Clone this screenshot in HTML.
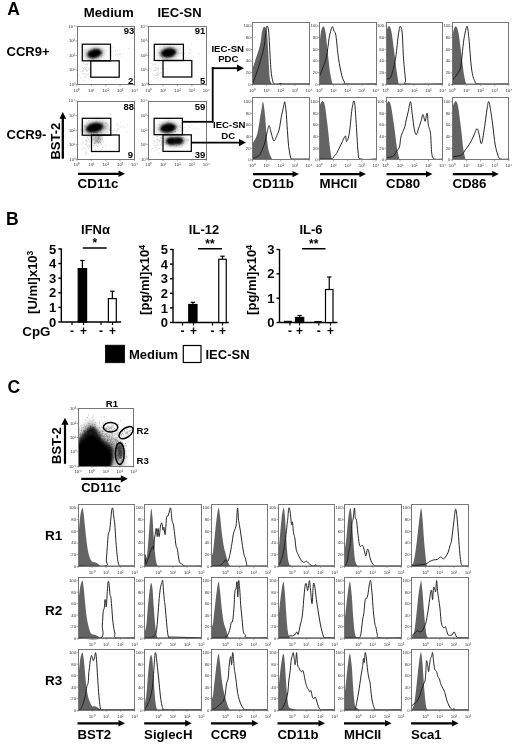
<!DOCTYPE html>
<html><head><meta charset="utf-8"><title>Figure</title>
<style>html,body{margin:0;padding:0;background:#fff;width:520px;height:746px;overflow:hidden}svg{display:block;filter:blur(0.35px)}text{font-family:"Liberation Sans",sans-serif}</style>
</head><body>
<svg width="520" height="746" viewBox="0 0 520 746" font-family="Liberation Sans, sans-serif"><defs><filter id="b5" x="-50%" y="-50%" width="200%" height="200%"><feGaussianBlur stdDeviation="0.5"/></filter><filter id="b10" x="-50%" y="-50%" width="200%" height="200%"><feGaussianBlur stdDeviation="1.0"/></filter><filter id="b12" x="-50%" y="-50%" width="200%" height="200%"><feGaussianBlur stdDeviation="1.2"/></filter><filter id="b13" x="-50%" y="-50%" width="200%" height="200%"><feGaussianBlur stdDeviation="1.3"/></filter><filter id="b14" x="-50%" y="-50%" width="200%" height="200%"><feGaussianBlur stdDeviation="1.4"/></filter><filter id="b15" x="-50%" y="-50%" width="200%" height="200%"><feGaussianBlur stdDeviation="1.5"/></filter><filter id="b18" x="-50%" y="-50%" width="200%" height="200%"><feGaussianBlur stdDeviation="1.8"/></filter><filter id="b20" x="-50%" y="-50%" width="200%" height="200%"><feGaussianBlur stdDeviation="2.0"/></filter><filter id="b22" x="-50%" y="-50%" width="200%" height="200%"><feGaussianBlur stdDeviation="2.2"/></filter><filter id="b24" x="-50%" y="-50%" width="200%" height="200%"><feGaussianBlur stdDeviation="2.4"/></filter><filter id="b25" x="-50%" y="-50%" width="200%" height="200%"><feGaussianBlur stdDeviation="2.5"/></filter><clipPath id="cclip"><rect x="78.1" y="408.9" width="55.6" height="57.3"/></clipPath></defs><rect width="520" height="746" fill="#fff"/><text x="7.20" y="14.80" font-size="17.5" font-weight="bold" text-anchor="start" fill="#000">A</text>
<text x="83.80" y="16.90" font-size="13.2" font-weight="bold" text-anchor="start" fill="#000">Medium</text>
<text x="157.50" y="17.10" font-size="13" font-weight="bold" text-anchor="start" fill="#000">IEC-SN</text>
<text x="6.50" y="56.40" font-size="13" font-weight="bold" text-anchor="start" fill="#000">CCR9+</text>
<text x="6.50" y="138.50" font-size="13" font-weight="bold" text-anchor="start" fill="#000">CCR9-</text>
<path d="M86.0 70.9h0.9v0.9h-0.9zM86.9 70.6h0.9v0.9h-0.9zM85.2 64.2h0.9v0.9h-0.9zM83.3 70.7h0.9v0.9h-0.9zM84.6 77.1h0.9v0.9h-0.9zM83.0 62.6h0.9v0.9h-0.9zM86.2 74.6h0.9v0.9h-0.9zM90.0 70.9h0.9v0.9h-0.9zM84.5 67.1h0.9v0.9h-0.9zM84.1 80.3h0.9v0.9h-0.9zM87.5 74.1h0.9v0.9h-0.9zM87.1 64.3h0.9v0.9h-0.9zM86.3 70.7h0.9v0.9h-0.9zM83.2 73.2h0.9v0.9h-0.9zM85.9 69.4h0.9v0.9h-0.9zM88.1 73.7h0.9v0.9h-0.9zM82.0 70.0h0.9v0.9h-0.9zM84.6 73.6h0.9v0.9h-0.9zM80.3 77.5h0.9v0.9h-0.9zM82.1 66.9h0.9v0.9h-0.9zM80.5 71.3h0.9v0.9h-0.9zM85.3 68.0h0.9v0.9h-0.9zM82.2 70.9h0.9v0.9h-0.9zM86.8 64.4h0.9v0.9h-0.9zM86.5 67.4h0.9v0.9h-0.9zM85.4 69.3h0.9v0.9h-0.9zM78.4 74.8h0.9v0.9h-0.9zM84.4 76.0h0.9v0.9h-0.9zM85.9 63.7h0.9v0.9h-0.9zM86.3 66.3h0.9v0.9h-0.9zM81.4 73.5h0.9v0.9h-0.9zM84.6 60.3h0.9v0.9h-0.9zM83.1 68.0h0.9v0.9h-0.9zM83.6 69.8h0.9v0.9h-0.9zM89.2 76.6h0.9v0.9h-0.9zM83.6 73.7h0.9v0.9h-0.9zM85.9 68.7h0.9v0.9h-0.9zM88.7 68.5h0.9v0.9h-0.9zM84.2 69.0h0.9v0.9h-0.9zM85.7 77.9h0.9v0.9h-0.9z" fill="#999" fill-opacity="0.45"/>
<path d="M114.9 51.4h0.9v0.9h-0.9zM115.5 53.9h0.9v0.9h-0.9zM118.8 54.8h0.9v0.9h-0.9zM116.4 52.8h0.9v0.9h-0.9zM116.0 52.7h0.9v0.9h-0.9zM111.4 55.4h0.9v0.9h-0.9zM116.9 54.9h0.9v0.9h-0.9zM114.8 50.2h0.9v0.9h-0.9zM122.8 53.1h0.9v0.9h-0.9zM120.3 53.4h0.9v0.9h-0.9zM116.9 50.1h0.9v0.9h-0.9zM120.3 54.1h0.9v0.9h-0.9zM115.3 50.7h0.9v0.9h-0.9zM122.3 56.2h0.9v0.9h-0.9zM117.0 53.9h0.9v0.9h-0.9zM119.9 53.6h0.9v0.9h-0.9zM110.5 51.5h0.9v0.9h-0.9zM118.7 52.9h0.9v0.9h-0.9zM108.6 47.3h0.9v0.9h-0.9zM106.8 49.9h0.9v0.9h-0.9zM115.5 54.4h0.9v0.9h-0.9zM112.5 46.9h0.9v0.9h-0.9zM117.8 55.8h0.9v0.9h-0.9zM128.2 48.1h0.9v0.9h-0.9zM112.8 55.6h0.9v0.9h-0.9z" fill="#aaa" fill-opacity="0.4"/>
<path d="M155.2 66.5h0.9v0.9h-0.9zM160.0 72.6h0.9v0.9h-0.9zM158.1 67.6h0.9v0.9h-0.9zM153.1 69.6h0.9v0.9h-0.9zM161.4 64.8h0.9v0.9h-0.9zM162.0 64.2h0.9v0.9h-0.9zM157.5 77.0h0.9v0.9h-0.9zM156.9 67.8h0.9v0.9h-0.9zM157.2 71.8h0.9v0.9h-0.9zM154.8 70.1h0.9v0.9h-0.9zM161.0 68.1h0.9v0.9h-0.9zM156.1 67.8h0.9v0.9h-0.9zM157.5 73.5h0.9v0.9h-0.9zM155.3 68.8h0.9v0.9h-0.9zM155.8 69.5h0.9v0.9h-0.9zM153.9 70.4h0.9v0.9h-0.9zM161.5 76.2h0.9v0.9h-0.9zM157.2 73.7h0.9v0.9h-0.9zM160.6 72.2h0.9v0.9h-0.9zM157.7 67.5h0.9v0.9h-0.9zM155.6 63.4h0.9v0.9h-0.9zM156.7 75.0h0.9v0.9h-0.9zM156.0 75.1h0.9v0.9h-0.9zM157.7 69.6h0.9v0.9h-0.9zM156.6 73.0h0.9v0.9h-0.9zM156.8 74.2h0.9v0.9h-0.9zM153.6 74.5h0.9v0.9h-0.9zM155.3 74.9h0.9v0.9h-0.9zM162.7 68.0h0.9v0.9h-0.9zM155.7 77.9h0.9v0.9h-0.9zM154.5 64.1h0.9v0.9h-0.9zM158.7 74.6h0.9v0.9h-0.9zM161.9 72.8h0.9v0.9h-0.9zM153.3 74.7h0.9v0.9h-0.9zM157.1 79.7h0.9v0.9h-0.9zM155.8 77.7h0.9v0.9h-0.9zM152.4 64.6h0.9v0.9h-0.9zM159.9 61.9h0.9v0.9h-0.9zM157.6 74.4h0.9v0.9h-0.9zM157.9 65.2h0.9v0.9h-0.9z" fill="#999" fill-opacity="0.45"/>
<path d="M188.6 49.1h0.9v0.9h-0.9zM192.9 56.0h0.9v0.9h-0.9zM180.5 53.0h0.9v0.9h-0.9zM178.2 53.3h0.9v0.9h-0.9zM190.0 49.0h0.9v0.9h-0.9zM188.9 51.9h0.9v0.9h-0.9zM187.5 55.5h0.9v0.9h-0.9zM188.9 53.1h0.9v0.9h-0.9zM184.4 53.5h0.9v0.9h-0.9zM181.1 52.4h0.9v0.9h-0.9zM187.9 56.8h0.9v0.9h-0.9zM183.8 53.2h0.9v0.9h-0.9zM180.5 46.7h0.9v0.9h-0.9zM191.2 51.2h0.9v0.9h-0.9zM188.4 47.4h0.9v0.9h-0.9zM190.7 43.5h0.9v0.9h-0.9zM183.8 51.7h0.9v0.9h-0.9zM185.4 57.3h0.9v0.9h-0.9zM183.7 53.4h0.9v0.9h-0.9zM184.3 49.8h0.9v0.9h-0.9zM189.7 50.5h0.9v0.9h-0.9zM184.8 56.7h0.9v0.9h-0.9zM190.5 53.8h0.9v0.9h-0.9zM190.4 53.4h0.9v0.9h-0.9zM198.8 53.1h0.9v0.9h-0.9z" fill="#aaa" fill-opacity="0.4"/>
<path d="M86.1 152.6h0.9v0.9h-0.9zM88.4 147.8h0.9v0.9h-0.9zM87.7 144.7h0.9v0.9h-0.9zM86.6 142.1h0.9v0.9h-0.9zM82.9 141.8h0.9v0.9h-0.9zM87.5 153.0h0.9v0.9h-0.9zM83.9 147.5h0.9v0.9h-0.9zM89.3 145.3h0.9v0.9h-0.9zM82.2 143.3h0.9v0.9h-0.9zM85.6 139.5h0.9v0.9h-0.9zM86.0 144.7h0.9v0.9h-0.9zM82.0 149.4h0.9v0.9h-0.9zM91.2 143.0h0.9v0.9h-0.9zM90.4 143.9h0.9v0.9h-0.9zM84.6 143.9h0.9v0.9h-0.9zM88.3 145.5h0.9v0.9h-0.9zM87.1 137.0h0.9v0.9h-0.9zM78.2 143.8h0.9v0.9h-0.9zM86.8 140.7h0.9v0.9h-0.9zM85.8 149.4h0.9v0.9h-0.9zM86.2 141.1h0.9v0.9h-0.9zM82.8 147.9h0.9v0.9h-0.9zM85.2 152.6h0.9v0.9h-0.9zM85.5 143.4h0.9v0.9h-0.9zM89.6 142.0h0.9v0.9h-0.9zM87.0 146.0h0.9v0.9h-0.9zM86.0 145.0h0.9v0.9h-0.9zM90.6 140.0h0.9v0.9h-0.9zM84.3 147.3h0.9v0.9h-0.9zM84.8 155.1h0.9v0.9h-0.9zM80.5 143.7h0.9v0.9h-0.9zM90.7 144.0h0.9v0.9h-0.9zM88.9 139.8h0.9v0.9h-0.9zM88.8 146.6h0.9v0.9h-0.9zM88.0 138.8h0.9v0.9h-0.9zM86.3 139.5h0.9v0.9h-0.9zM86.6 151.4h0.9v0.9h-0.9zM85.2 140.5h0.9v0.9h-0.9zM85.4 150.4h0.9v0.9h-0.9zM86.2 152.6h0.9v0.9h-0.9z" fill="#999" fill-opacity="0.45"/>
<path d="M118.3 129.2h0.9v0.9h-0.9zM119.8 122.2h0.9v0.9h-0.9zM126.8 123.8h0.9v0.9h-0.9zM116.0 130.6h0.9v0.9h-0.9zM114.0 130.1h0.9v0.9h-0.9zM110.2 127.6h0.9v0.9h-0.9zM117.2 122.9h0.9v0.9h-0.9zM124.4 126.9h0.9v0.9h-0.9zM121.8 126.0h0.9v0.9h-0.9zM112.3 129.9h0.9v0.9h-0.9zM112.7 134.8h0.9v0.9h-0.9zM114.5 128.7h0.9v0.9h-0.9zM118.5 125.7h0.9v0.9h-0.9zM116.0 124.5h0.9v0.9h-0.9zM118.1 127.8h0.9v0.9h-0.9zM118.5 127.5h0.9v0.9h-0.9zM115.5 124.5h0.9v0.9h-0.9zM116.8 128.3h0.9v0.9h-0.9zM118.0 124.5h0.9v0.9h-0.9zM116.6 131.3h0.9v0.9h-0.9zM119.5 131.2h0.9v0.9h-0.9zM126.4 131.3h0.9v0.9h-0.9zM120.0 126.6h0.9v0.9h-0.9zM117.3 129.5h0.9v0.9h-0.9zM108.6 127.6h0.9v0.9h-0.9z" fill="#aaa" fill-opacity="0.4"/>
<path d="M156.5 144.8h0.9v0.9h-0.9zM156.7 142.3h0.9v0.9h-0.9zM153.8 140.9h0.9v0.9h-0.9zM153.4 143.5h0.9v0.9h-0.9zM160.1 139.9h0.9v0.9h-0.9zM157.1 138.6h0.9v0.9h-0.9zM158.3 144.8h0.9v0.9h-0.9zM160.7 149.4h0.9v0.9h-0.9zM152.5 137.4h0.9v0.9h-0.9zM155.3 145.0h0.9v0.9h-0.9zM158.2 141.8h0.9v0.9h-0.9zM158.9 140.1h0.9v0.9h-0.9zM156.6 149.3h0.9v0.9h-0.9zM160.8 142.4h0.9v0.9h-0.9zM158.3 152.5h0.9v0.9h-0.9zM154.1 141.1h0.9v0.9h-0.9zM154.9 146.9h0.9v0.9h-0.9zM160.1 143.9h0.9v0.9h-0.9zM159.1 141.2h0.9v0.9h-0.9zM152.0 147.9h0.9v0.9h-0.9zM161.7 144.2h0.9v0.9h-0.9zM159.5 148.0h0.9v0.9h-0.9zM161.7 144.8h0.9v0.9h-0.9zM156.5 139.6h0.9v0.9h-0.9zM156.8 144.5h0.9v0.9h-0.9zM154.3 145.3h0.9v0.9h-0.9zM165.3 149.8h0.9v0.9h-0.9zM157.2 140.5h0.9v0.9h-0.9zM162.5 144.8h0.9v0.9h-0.9zM155.8 136.4h0.9v0.9h-0.9zM158.2 148.3h0.9v0.9h-0.9zM152.7 139.6h0.9v0.9h-0.9zM156.6 136.0h0.9v0.9h-0.9zM160.7 144.7h0.9v0.9h-0.9zM153.9 150.5h0.9v0.9h-0.9zM160.9 137.4h0.9v0.9h-0.9zM158.7 139.6h0.9v0.9h-0.9zM154.6 141.3h0.9v0.9h-0.9zM156.2 139.4h0.9v0.9h-0.9zM156.3 146.9h0.9v0.9h-0.9z" fill="#999" fill-opacity="0.45"/>
<path d="M184.7 119.5h0.9v0.9h-0.9zM185.1 129.6h0.9v0.9h-0.9zM191.6 124.8h0.9v0.9h-0.9zM184.9 131.1h0.9v0.9h-0.9zM190.9 124.8h0.9v0.9h-0.9zM183.8 127.1h0.9v0.9h-0.9zM182.6 123.5h0.9v0.9h-0.9zM179.5 125.1h0.9v0.9h-0.9zM198.0 132.2h0.9v0.9h-0.9zM187.1 130.5h0.9v0.9h-0.9zM189.9 126.8h0.9v0.9h-0.9zM188.5 125.4h0.9v0.9h-0.9zM189.5 122.3h0.9v0.9h-0.9zM188.9 126.8h0.9v0.9h-0.9zM198.2 127.9h0.9v0.9h-0.9zM183.5 127.7h0.9v0.9h-0.9zM180.9 127.7h0.9v0.9h-0.9zM183.6 124.6h0.9v0.9h-0.9zM182.0 127.8h0.9v0.9h-0.9zM192.4 127.9h0.9v0.9h-0.9zM192.8 131.9h0.9v0.9h-0.9zM183.9 133.6h0.9v0.9h-0.9zM181.7 127.6h0.9v0.9h-0.9zM186.9 125.7h0.9v0.9h-0.9zM195.7 127.8h0.9v0.9h-0.9z" fill="#aaa" fill-opacity="0.4"/>
<ellipse cx="94.50" cy="53.50" rx="10.50" ry="6.30" fill="#000" fill-opacity="0.28" filter="url(#b22)" transform="rotate(-12 94.5 53.5)"/>
<ellipse cx="94.50" cy="53.50" rx="7.30" ry="4.30" fill="#000" fill-opacity="1" filter="url(#b13)" transform="rotate(-15 94.5 53.5)"/>
<path d="M92.1 51.2h0.7v0.7h-0.7zM91.5 54.3h0.7v0.7h-0.7zM94.3 51.9h0.7v0.7h-0.7zM90.3 49.7h0.7v0.7h-0.7zM96.9 56.1h0.7v0.7h-0.7zM94.1 54.7h0.7v0.7h-0.7zM95.5 54.7h0.7v0.7h-0.7zM93.8 52.3h0.7v0.7h-0.7zM91.6 56.1h0.7v0.7h-0.7zM90.7 52.9h0.7v0.7h-0.7zM93.6 56.2h0.7v0.7h-0.7zM92.3 51.2h0.7v0.7h-0.7zM95.4 51.4h0.7v0.7h-0.7zM94.5 54.0h0.7v0.7h-0.7zM89.1 51.7h0.7v0.7h-0.7zM94.8 55.2h0.7v0.7h-0.7zM89.1 54.2h0.7v0.7h-0.7zM92.0 51.2h0.7v0.7h-0.7zM93.3 53.7h0.7v0.7h-0.7zM86.2 52.6h0.7v0.7h-0.7zM94.9 55.8h0.7v0.7h-0.7zM95.1 51.9h0.7v0.7h-0.7zM93.9 52.4h0.7v0.7h-0.7zM92.8 56.5h0.7v0.7h-0.7zM93.0 59.1h0.7v0.7h-0.7zM90.6 58.5h0.7v0.7h-0.7zM93.4 53.7h0.7v0.7h-0.7zM92.3 54.0h0.7v0.7h-0.7zM94.9 57.3h0.7v0.7h-0.7zM89.7 53.2h0.7v0.7h-0.7zM95.4 51.1h0.7v0.7h-0.7zM95.1 53.8h0.7v0.7h-0.7zM93.9 54.6h0.7v0.7h-0.7zM92.7 51.4h0.7v0.7h-0.7zM96.7 49.4h0.7v0.7h-0.7zM87.8 49.9h0.7v0.7h-0.7zM96.3 55.2h0.7v0.7h-0.7zM95.5 51.6h0.7v0.7h-0.7zM95.6 53.1h0.7v0.7h-0.7zM96.0 54.0h0.7v0.7h-0.7zM91.9 55.0h0.7v0.7h-0.7zM93.5 52.7h0.7v0.7h-0.7zM97.0 54.7h0.7v0.7h-0.7zM96.2 51.3h0.7v0.7h-0.7zM95.3 52.6h0.7v0.7h-0.7zM88.4 50.9h0.7v0.7h-0.7zM96.7 56.3h0.7v0.7h-0.7zM99.2 53.4h0.7v0.7h-0.7zM98.5 51.7h0.7v0.7h-0.7zM95.4 52.6h0.7v0.7h-0.7zM88.3 52.9h0.7v0.7h-0.7zM98.3 55.3h0.7v0.7h-0.7zM93.9 49.5h0.7v0.7h-0.7zM84.4 50.9h0.7v0.7h-0.7zM96.0 52.6h0.7v0.7h-0.7zM88.5 59.8h0.7v0.7h-0.7zM89.3 55.9h0.7v0.7h-0.7zM92.0 53.2h0.7v0.7h-0.7zM99.6 55.3h0.7v0.7h-0.7zM93.0 58.6h0.7v0.7h-0.7zM95.6 52.9h0.7v0.7h-0.7zM101.5 52.6h0.7v0.7h-0.7zM100.9 56.5h0.7v0.7h-0.7zM94.1 54.7h0.7v0.7h-0.7zM93.5 55.2h0.7v0.7h-0.7zM89.5 52.2h0.7v0.7h-0.7zM91.7 58.3h0.7v0.7h-0.7zM96.2 57.8h0.7v0.7h-0.7zM96.1 54.9h0.7v0.7h-0.7zM94.9 55.2h0.7v0.7h-0.7zM98.5 48.4h0.7v0.7h-0.7zM91.4 55.1h0.7v0.7h-0.7zM94.3 53.0h0.7v0.7h-0.7zM97.4 54.6h0.7v0.7h-0.7zM96.8 55.2h0.7v0.7h-0.7zM98.8 52.6h0.7v0.7h-0.7zM96.1 49.3h0.7v0.7h-0.7zM93.3 54.4h0.7v0.7h-0.7zM95.9 51.6h0.7v0.7h-0.7zM90.5 52.7h0.7v0.7h-0.7zM87.9 52.0h0.7v0.7h-0.7zM96.8 52.6h0.7v0.7h-0.7zM94.3 47.7h0.7v0.7h-0.7zM95.7 56.5h0.7v0.7h-0.7zM87.7 54.1h0.7v0.7h-0.7zM93.0 56.3h0.7v0.7h-0.7zM92.1 58.4h0.7v0.7h-0.7zM91.0 53.6h0.7v0.7h-0.7zM85.5 49.0h0.7v0.7h-0.7zM93.2 51.3h0.7v0.7h-0.7zM98.1 50.5h0.7v0.7h-0.7zM96.0 52.2h0.7v0.7h-0.7zM92.1 53.7h0.7v0.7h-0.7zM94.4 48.5h0.7v0.7h-0.7zM97.5 54.4h0.7v0.7h-0.7zM83.5 49.7h0.7v0.7h-0.7zM94.0 54.2h0.7v0.7h-0.7zM96.7 53.2h0.7v0.7h-0.7zM97.2 52.7h0.7v0.7h-0.7zM101.3 53.3h0.7v0.7h-0.7zM99.0 52.2h0.7v0.7h-0.7zM95.8 52.0h0.7v0.7h-0.7zM95.7 49.3h0.7v0.7h-0.7zM97.6 53.4h0.7v0.7h-0.7zM92.3 58.1h0.7v0.7h-0.7zM94.3 58.5h0.7v0.7h-0.7zM98.1 56.8h0.7v0.7h-0.7zM102.3 55.3h0.7v0.7h-0.7zM93.9 51.8h0.7v0.7h-0.7zM94.3 57.1h0.7v0.7h-0.7zM95.3 53.4h0.7v0.7h-0.7zM99.9 53.3h0.7v0.7h-0.7zM94.4 52.8h0.7v0.7h-0.7zM100.4 53.7h0.7v0.7h-0.7zM90.6 52.4h0.7v0.7h-0.7zM93.8 53.3h0.7v0.7h-0.7zM93.7 50.8h0.7v0.7h-0.7zM97.6 52.6h0.7v0.7h-0.7zM98.7 59.2h0.7v0.7h-0.7zM88.5 53.3h0.7v0.7h-0.7z" fill="#000" fill-opacity="0.35"/>
<ellipse cx="168.50" cy="52.80" rx="11.00" ry="6.80" fill="#000" fill-opacity="0.28" filter="url(#b22)" transform="rotate(-8 168.5 52.8)"/>
<ellipse cx="168.50" cy="52.80" rx="7.60" ry="4.60" fill="#000" fill-opacity="1" filter="url(#b13)" transform="rotate(-10 168.5 52.8)"/>
<path d="M167.4 53.2h0.7v0.7h-0.7zM170.9 57.8h0.7v0.7h-0.7zM171.7 50.2h0.7v0.7h-0.7zM163.5 52.5h0.7v0.7h-0.7zM167.6 54.1h0.7v0.7h-0.7zM172.6 54.9h0.7v0.7h-0.7zM169.7 51.6h0.7v0.7h-0.7zM169.0 53.7h0.7v0.7h-0.7zM175.5 52.0h0.7v0.7h-0.7zM165.5 53.1h0.7v0.7h-0.7zM168.9 52.4h0.7v0.7h-0.7zM166.2 49.6h0.7v0.7h-0.7zM175.2 52.7h0.7v0.7h-0.7zM159.7 55.3h0.7v0.7h-0.7zM165.5 50.1h0.7v0.7h-0.7zM166.1 52.1h0.7v0.7h-0.7zM171.5 54.7h0.7v0.7h-0.7zM171.2 49.8h0.7v0.7h-0.7zM174.8 53.3h0.7v0.7h-0.7zM161.4 49.8h0.7v0.7h-0.7zM171.9 56.0h0.7v0.7h-0.7zM167.2 59.3h0.7v0.7h-0.7zM165.5 58.5h0.7v0.7h-0.7zM170.9 52.2h0.7v0.7h-0.7zM164.4 54.9h0.7v0.7h-0.7zM159.2 53.1h0.7v0.7h-0.7zM166.8 53.1h0.7v0.7h-0.7zM161.8 57.1h0.7v0.7h-0.7zM165.6 49.1h0.7v0.7h-0.7zM170.2 55.8h0.7v0.7h-0.7zM169.9 52.7h0.7v0.7h-0.7zM175.6 56.7h0.7v0.7h-0.7zM167.6 53.3h0.7v0.7h-0.7zM161.6 50.9h0.7v0.7h-0.7zM165.1 53.6h0.7v0.7h-0.7zM164.4 54.9h0.7v0.7h-0.7zM163.0 52.9h0.7v0.7h-0.7zM170.5 54.2h0.7v0.7h-0.7zM165.6 51.3h0.7v0.7h-0.7zM159.6 46.8h0.7v0.7h-0.7zM171.6 55.3h0.7v0.7h-0.7zM168.0 54.8h0.7v0.7h-0.7zM170.1 53.2h0.7v0.7h-0.7zM169.0 53.0h0.7v0.7h-0.7zM171.3 55.7h0.7v0.7h-0.7zM168.7 51.5h0.7v0.7h-0.7zM174.1 50.8h0.7v0.7h-0.7zM170.4 52.3h0.7v0.7h-0.7zM170.3 56.1h0.7v0.7h-0.7zM170.3 48.9h0.7v0.7h-0.7zM161.9 56.1h0.7v0.7h-0.7zM167.8 51.0h0.7v0.7h-0.7zM167.3 49.7h0.7v0.7h-0.7zM169.4 56.3h0.7v0.7h-0.7zM162.4 52.5h0.7v0.7h-0.7zM175.9 49.2h0.7v0.7h-0.7zM169.0 51.8h0.7v0.7h-0.7zM163.0 55.4h0.7v0.7h-0.7zM160.8 56.1h0.7v0.7h-0.7zM167.2 51.6h0.7v0.7h-0.7zM168.1 53.9h0.7v0.7h-0.7zM165.3 54.8h0.7v0.7h-0.7zM168.9 51.0h0.7v0.7h-0.7zM165.6 53.8h0.7v0.7h-0.7zM171.0 52.7h0.7v0.7h-0.7zM165.2 51.3h0.7v0.7h-0.7zM168.3 51.4h0.7v0.7h-0.7zM172.9 53.0h0.7v0.7h-0.7zM180.1 52.9h0.7v0.7h-0.7zM164.0 51.2h0.7v0.7h-0.7zM166.4 51.6h0.7v0.7h-0.7zM164.7 55.9h0.7v0.7h-0.7zM172.0 53.4h0.7v0.7h-0.7zM163.3 55.3h0.7v0.7h-0.7zM166.3 56.2h0.7v0.7h-0.7zM168.4 54.4h0.7v0.7h-0.7zM164.1 59.2h0.7v0.7h-0.7zM164.2 50.5h0.7v0.7h-0.7zM166.4 55.1h0.7v0.7h-0.7zM159.0 51.9h0.7v0.7h-0.7zM162.0 58.0h0.7v0.7h-0.7zM166.6 57.6h0.7v0.7h-0.7zM169.2 47.3h0.7v0.7h-0.7zM167.7 50.1h0.7v0.7h-0.7zM160.5 54.7h0.7v0.7h-0.7zM166.4 55.0h0.7v0.7h-0.7zM172.1 54.9h0.7v0.7h-0.7zM171.0 52.6h0.7v0.7h-0.7zM168.1 54.1h0.7v0.7h-0.7zM164.5 54.6h0.7v0.7h-0.7zM171.3 52.6h0.7v0.7h-0.7zM165.9 55.7h0.7v0.7h-0.7zM163.2 46.5h0.7v0.7h-0.7zM164.9 54.6h0.7v0.7h-0.7zM175.0 49.9h0.7v0.7h-0.7zM169.5 55.5h0.7v0.7h-0.7zM173.7 52.2h0.7v0.7h-0.7zM166.3 50.3h0.7v0.7h-0.7zM172.7 53.8h0.7v0.7h-0.7zM165.8 50.2h0.7v0.7h-0.7zM167.8 50.2h0.7v0.7h-0.7zM179.7 48.4h0.7v0.7h-0.7zM172.0 52.7h0.7v0.7h-0.7zM166.2 54.2h0.7v0.7h-0.7zM168.1 55.7h0.7v0.7h-0.7zM170.0 52.4h0.7v0.7h-0.7zM173.9 55.7h0.7v0.7h-0.7zM166.3 52.9h0.7v0.7h-0.7zM160.7 52.5h0.7v0.7h-0.7zM167.2 54.4h0.7v0.7h-0.7zM168.6 55.8h0.7v0.7h-0.7zM169.0 51.8h0.7v0.7h-0.7zM174.4 52.1h0.7v0.7h-0.7zM169.9 52.3h0.7v0.7h-0.7zM172.2 53.0h0.7v0.7h-0.7zM163.5 50.3h0.7v0.7h-0.7zM172.4 55.7h0.7v0.7h-0.7zM177.9 51.7h0.7v0.7h-0.7zM172.0 54.1h0.7v0.7h-0.7zM169.6 50.5h0.7v0.7h-0.7z" fill="#000" fill-opacity="0.35"/>
<ellipse cx="95.50" cy="128.00" rx="13.00" ry="7.00" fill="#000" fill-opacity="0.3" filter="url(#b24)" transform="rotate(-10 95.5 128)"/>
<ellipse cx="94.60" cy="127.80" rx="8.80" ry="4.70" fill="#000" fill-opacity="1" filter="url(#b13)" transform="rotate(-12 94.6 127.8)"/>
<ellipse cx="97.50" cy="139.50" rx="4.50" ry="4.50" fill="#000" fill-opacity="0.3" filter="url(#b18)"/>
<path d="M97.2 125.9h0.7v0.7h-0.7zM97.3 124.3h0.7v0.7h-0.7zM92.5 128.2h0.7v0.7h-0.7zM107.1 124.7h0.7v0.7h-0.7zM97.2 127.8h0.7v0.7h-0.7zM105.7 128.3h0.7v0.7h-0.7zM100.8 136.2h0.7v0.7h-0.7zM91.0 125.0h0.7v0.7h-0.7zM92.7 127.6h0.7v0.7h-0.7zM97.6 127.4h0.7v0.7h-0.7zM95.4 129.5h0.7v0.7h-0.7zM95.3 131.7h0.7v0.7h-0.7zM93.3 126.3h0.7v0.7h-0.7zM84.1 125.1h0.7v0.7h-0.7zM93.6 122.3h0.7v0.7h-0.7zM81.7 124.8h0.7v0.7h-0.7zM97.2 129.9h0.7v0.7h-0.7zM90.6 128.2h0.7v0.7h-0.7zM90.7 124.4h0.7v0.7h-0.7zM93.7 126.7h0.7v0.7h-0.7zM96.6 128.1h0.7v0.7h-0.7zM86.4 129.8h0.7v0.7h-0.7zM84.5 125.9h0.7v0.7h-0.7zM88.6 127.1h0.7v0.7h-0.7zM82.7 121.6h0.7v0.7h-0.7zM89.2 124.0h0.7v0.7h-0.7zM104.5 133.7h0.7v0.7h-0.7zM88.7 120.3h0.7v0.7h-0.7zM98.9 126.8h0.7v0.7h-0.7zM86.8 128.8h0.7v0.7h-0.7zM96.8 126.7h0.7v0.7h-0.7zM93.1 125.2h0.7v0.7h-0.7zM94.6 127.8h0.7v0.7h-0.7zM98.4 128.0h0.7v0.7h-0.7zM105.5 127.7h0.7v0.7h-0.7zM96.2 121.4h0.7v0.7h-0.7zM95.7 127.5h0.7v0.7h-0.7zM89.2 125.0h0.7v0.7h-0.7zM98.5 126.1h0.7v0.7h-0.7zM93.5 128.8h0.7v0.7h-0.7zM100.0 130.2h0.7v0.7h-0.7zM94.7 131.1h0.7v0.7h-0.7zM105.4 126.3h0.7v0.7h-0.7zM83.1 131.2h0.7v0.7h-0.7zM93.2 132.1h0.7v0.7h-0.7zM100.3 132.0h0.7v0.7h-0.7zM92.9 132.9h0.7v0.7h-0.7zM90.2 127.5h0.7v0.7h-0.7zM93.4 127.4h0.7v0.7h-0.7zM86.7 130.9h0.7v0.7h-0.7zM95.7 123.2h0.7v0.7h-0.7zM109.6 128.7h0.7v0.7h-0.7zM101.9 126.1h0.7v0.7h-0.7zM88.3 126.7h0.7v0.7h-0.7zM89.8 121.9h0.7v0.7h-0.7zM92.6 124.9h0.7v0.7h-0.7zM101.0 127.9h0.7v0.7h-0.7zM90.1 131.1h0.7v0.7h-0.7zM90.9 131.5h0.7v0.7h-0.7zM100.3 127.7h0.7v0.7h-0.7zM100.2 127.3h0.7v0.7h-0.7zM92.8 125.1h0.7v0.7h-0.7zM88.3 129.4h0.7v0.7h-0.7zM85.7 127.1h0.7v0.7h-0.7zM90.8 130.1h0.7v0.7h-0.7zM81.6 134.1h0.7v0.7h-0.7zM99.5 127.9h0.7v0.7h-0.7zM91.2 122.8h0.7v0.7h-0.7zM97.9 125.0h0.7v0.7h-0.7zM106.2 122.9h0.7v0.7h-0.7zM102.0 123.8h0.7v0.7h-0.7zM88.1 132.6h0.7v0.7h-0.7zM100.2 128.8h0.7v0.7h-0.7zM101.9 122.7h0.7v0.7h-0.7zM90.5 130.3h0.7v0.7h-0.7zM89.3 132.4h0.7v0.7h-0.7zM94.3 126.7h0.7v0.7h-0.7zM85.4 125.6h0.7v0.7h-0.7zM103.8 126.8h0.7v0.7h-0.7zM80.6 129.0h0.7v0.7h-0.7zM88.4 130.2h0.7v0.7h-0.7zM93.4 132.1h0.7v0.7h-0.7zM93.6 132.2h0.7v0.7h-0.7zM96.0 132.1h0.7v0.7h-0.7zM96.6 132.8h0.7v0.7h-0.7zM93.7 130.3h0.7v0.7h-0.7zM101.8 122.6h0.7v0.7h-0.7zM82.2 127.5h0.7v0.7h-0.7zM95.0 129.1h0.7v0.7h-0.7zM90.7 126.7h0.7v0.7h-0.7zM95.8 131.2h0.7v0.7h-0.7zM96.3 126.7h0.7v0.7h-0.7zM89.5 124.8h0.7v0.7h-0.7zM91.2 133.1h0.7v0.7h-0.7zM99.8 130.3h0.7v0.7h-0.7zM97.1 128.8h0.7v0.7h-0.7zM90.9 131.2h0.7v0.7h-0.7zM107.2 131.7h0.7v0.7h-0.7zM108.9 129.2h0.7v0.7h-0.7zM86.2 119.4h0.7v0.7h-0.7zM96.8 125.6h0.7v0.7h-0.7zM110.1 126.4h0.7v0.7h-0.7zM99.7 124.6h0.7v0.7h-0.7zM96.3 128.7h0.7v0.7h-0.7zM93.8 132.2h0.7v0.7h-0.7zM91.8 126.3h0.7v0.7h-0.7zM93.7 124.0h0.7v0.7h-0.7zM91.7 135.1h0.7v0.7h-0.7zM99.5 126.4h0.7v0.7h-0.7zM92.6 123.7h0.7v0.7h-0.7zM92.4 128.8h0.7v0.7h-0.7zM87.8 129.5h0.7v0.7h-0.7zM94.7 125.5h0.7v0.7h-0.7zM89.6 130.8h0.7v0.7h-0.7zM93.9 126.3h0.7v0.7h-0.7zM101.3 124.8h0.7v0.7h-0.7zM97.2 128.6h0.7v0.7h-0.7zM98.0 130.7h0.7v0.7h-0.7zM97.1 125.8h0.7v0.7h-0.7zM95.4 129.2h0.7v0.7h-0.7zM94.2 127.7h0.7v0.7h-0.7zM93.2 137.9h0.7v0.7h-0.7zM99.6 125.5h0.7v0.7h-0.7zM88.5 132.8h0.7v0.7h-0.7zM103.0 127.8h0.7v0.7h-0.7zM95.2 127.6h0.7v0.7h-0.7zM90.5 130.5h0.7v0.7h-0.7zM92.1 131.1h0.7v0.7h-0.7zM90.9 132.4h0.7v0.7h-0.7zM96.0 129.2h0.7v0.7h-0.7zM90.7 125.9h0.7v0.7h-0.7zM101.9 126.1h0.7v0.7h-0.7zM90.3 129.8h0.7v0.7h-0.7zM81.4 130.0h0.7v0.7h-0.7zM90.6 132.9h0.7v0.7h-0.7zM82.9 129.5h0.7v0.7h-0.7zM94.8 131.7h0.7v0.7h-0.7zM101.4 133.3h0.7v0.7h-0.7zM98.9 128.6h0.7v0.7h-0.7zM87.0 122.8h0.7v0.7h-0.7zM90.4 123.9h0.7v0.7h-0.7zM105.7 123.0h0.7v0.7h-0.7zM96.9 133.6h0.7v0.7h-0.7zM95.0 125.0h0.7v0.7h-0.7zM101.3 132.3h0.7v0.7h-0.7zM109.7 130.1h0.7v0.7h-0.7zM102.8 134.0h0.7v0.7h-0.7zM95.8 131.5h0.7v0.7h-0.7zM97.1 127.6h0.7v0.7h-0.7zM98.7 127.3h0.7v0.7h-0.7z" fill="#000" fill-opacity="0.35"/>
<path d="M97.8 135.3h0.7v0.7h-0.7zM98.0 134.3h0.7v0.7h-0.7zM95.9 140.6h0.7v0.7h-0.7zM97.4 141.4h0.7v0.7h-0.7zM102.3 147.0h0.7v0.7h-0.7zM92.4 134.8h0.7v0.7h-0.7zM98.3 137.6h0.7v0.7h-0.7zM94.8 143.2h0.7v0.7h-0.7zM98.1 139.2h0.7v0.7h-0.7zM100.0 138.9h0.7v0.7h-0.7zM97.3 146.0h0.7v0.7h-0.7zM99.8 138.8h0.7v0.7h-0.7zM92.7 136.0h0.7v0.7h-0.7zM100.8 135.4h0.7v0.7h-0.7zM95.7 141.2h0.7v0.7h-0.7zM99.4 141.1h0.7v0.7h-0.7zM98.0 135.2h0.7v0.7h-0.7zM89.7 136.6h0.7v0.7h-0.7zM95.2 141.9h0.7v0.7h-0.7zM98.2 142.0h0.7v0.7h-0.7zM102.2 137.7h0.7v0.7h-0.7zM98.4 142.2h0.7v0.7h-0.7zM98.3 142.0h0.7v0.7h-0.7zM93.3 133.8h0.7v0.7h-0.7zM101.8 138.9h0.7v0.7h-0.7zM102.9 141.5h0.7v0.7h-0.7zM97.6 138.0h0.7v0.7h-0.7zM96.8 132.5h0.7v0.7h-0.7zM92.6 139.0h0.7v0.7h-0.7zM100.1 142.6h0.7v0.7h-0.7zM105.6 145.5h0.7v0.7h-0.7zM99.7 132.3h0.7v0.7h-0.7zM101.3 149.1h0.7v0.7h-0.7zM99.1 136.1h0.7v0.7h-0.7zM94.5 143.3h0.7v0.7h-0.7zM101.5 144.3h0.7v0.7h-0.7zM93.8 143.4h0.7v0.7h-0.7zM96.9 140.5h0.7v0.7h-0.7zM98.3 135.9h0.7v0.7h-0.7zM100.1 142.2h0.7v0.7h-0.7zM98.7 137.5h0.7v0.7h-0.7zM98.7 131.2h0.7v0.7h-0.7zM95.2 149.9h0.7v0.7h-0.7zM93.6 142.5h0.7v0.7h-0.7zM97.7 146.4h0.7v0.7h-0.7zM95.4 136.8h0.7v0.7h-0.7zM93.6 145.1h0.7v0.7h-0.7zM93.7 145.6h0.7v0.7h-0.7zM96.0 145.4h0.7v0.7h-0.7zM91.9 139.9h0.7v0.7h-0.7z" fill="#000" fill-opacity="0.35"/>
<ellipse cx="168.00" cy="128.00" rx="11.00" ry="6.50" fill="#000" fill-opacity="0.28" filter="url(#b22)" transform="rotate(-8 168 128)"/>
<ellipse cx="168.00" cy="128.00" rx="7.80" ry="4.60" fill="#000" fill-opacity="1" filter="url(#b13)" transform="rotate(-8 168 128)"/>
<path d="M162.6 131.3h0.7v0.7h-0.7zM167.2 132.8h0.7v0.7h-0.7zM158.1 129.2h0.7v0.7h-0.7zM160.3 130.1h0.7v0.7h-0.7zM168.4 131.6h0.7v0.7h-0.7zM163.5 126.1h0.7v0.7h-0.7zM167.3 129.2h0.7v0.7h-0.7zM167.5 125.5h0.7v0.7h-0.7zM176.7 126.1h0.7v0.7h-0.7zM173.8 126.2h0.7v0.7h-0.7zM167.8 127.6h0.7v0.7h-0.7zM173.4 128.4h0.7v0.7h-0.7zM164.5 129.3h0.7v0.7h-0.7zM166.5 123.9h0.7v0.7h-0.7zM172.1 133.7h0.7v0.7h-0.7zM162.4 131.3h0.7v0.7h-0.7zM166.7 130.1h0.7v0.7h-0.7zM162.1 127.0h0.7v0.7h-0.7zM168.5 127.7h0.7v0.7h-0.7zM175.3 129.6h0.7v0.7h-0.7zM164.6 129.2h0.7v0.7h-0.7zM169.0 123.2h0.7v0.7h-0.7zM164.0 130.1h0.7v0.7h-0.7zM162.8 136.4h0.7v0.7h-0.7zM162.4 122.7h0.7v0.7h-0.7zM174.5 130.9h0.7v0.7h-0.7zM178.6 129.1h0.7v0.7h-0.7zM170.2 127.7h0.7v0.7h-0.7zM164.8 131.9h0.7v0.7h-0.7zM171.2 124.6h0.7v0.7h-0.7zM166.5 128.5h0.7v0.7h-0.7zM171.6 132.2h0.7v0.7h-0.7zM169.3 127.4h0.7v0.7h-0.7zM169.3 126.8h0.7v0.7h-0.7zM170.7 128.3h0.7v0.7h-0.7zM165.4 126.7h0.7v0.7h-0.7zM166.2 132.4h0.7v0.7h-0.7zM160.3 125.4h0.7v0.7h-0.7zM166.0 130.5h0.7v0.7h-0.7zM161.6 124.4h0.7v0.7h-0.7zM167.3 129.9h0.7v0.7h-0.7zM163.7 127.7h0.7v0.7h-0.7zM168.5 120.6h0.7v0.7h-0.7zM170.0 128.0h0.7v0.7h-0.7zM161.6 124.9h0.7v0.7h-0.7zM164.3 126.7h0.7v0.7h-0.7zM163.8 132.4h0.7v0.7h-0.7zM171.4 124.8h0.7v0.7h-0.7zM175.7 124.9h0.7v0.7h-0.7zM171.8 132.1h0.7v0.7h-0.7zM166.4 128.3h0.7v0.7h-0.7zM174.6 132.4h0.7v0.7h-0.7zM161.2 128.9h0.7v0.7h-0.7zM174.7 125.5h0.7v0.7h-0.7zM165.0 127.8h0.7v0.7h-0.7zM155.5 131.5h0.7v0.7h-0.7zM179.9 130.7h0.7v0.7h-0.7zM175.1 128.0h0.7v0.7h-0.7zM163.4 128.1h0.7v0.7h-0.7zM168.8 127.7h0.7v0.7h-0.7zM167.0 126.3h0.7v0.7h-0.7zM168.5 133.6h0.7v0.7h-0.7zM161.3 128.0h0.7v0.7h-0.7zM164.9 124.7h0.7v0.7h-0.7zM170.1 126.6h0.7v0.7h-0.7zM169.0 130.1h0.7v0.7h-0.7zM173.4 129.8h0.7v0.7h-0.7zM168.4 127.6h0.7v0.7h-0.7zM178.6 126.1h0.7v0.7h-0.7zM164.8 128.1h0.7v0.7h-0.7zM169.2 123.2h0.7v0.7h-0.7zM159.4 124.3h0.7v0.7h-0.7zM162.4 130.3h0.7v0.7h-0.7zM174.0 126.6h0.7v0.7h-0.7zM163.8 129.1h0.7v0.7h-0.7zM170.4 131.5h0.7v0.7h-0.7zM167.7 129.9h0.7v0.7h-0.7zM163.3 128.1h0.7v0.7h-0.7zM166.4 134.1h0.7v0.7h-0.7zM165.7 129.9h0.7v0.7h-0.7zM165.8 127.0h0.7v0.7h-0.7zM171.4 130.1h0.7v0.7h-0.7zM170.9 129.2h0.7v0.7h-0.7zM165.4 125.5h0.7v0.7h-0.7zM163.9 128.2h0.7v0.7h-0.7zM169.3 127.5h0.7v0.7h-0.7zM167.5 122.3h0.7v0.7h-0.7zM172.6 127.5h0.7v0.7h-0.7zM179.9 127.2h0.7v0.7h-0.7zM171.8 126.7h0.7v0.7h-0.7zM167.8 123.3h0.7v0.7h-0.7zM167.2 127.0h0.7v0.7h-0.7zM164.1 127.9h0.7v0.7h-0.7zM163.9 128.3h0.7v0.7h-0.7zM163.5 124.7h0.7v0.7h-0.7zM166.2 129.8h0.7v0.7h-0.7zM166.1 124.5h0.7v0.7h-0.7zM171.3 127.4h0.7v0.7h-0.7zM166.2 131.8h0.7v0.7h-0.7zM167.1 126.0h0.7v0.7h-0.7zM162.5 126.5h0.7v0.7h-0.7zM175.4 131.1h0.7v0.7h-0.7zM170.3 126.9h0.7v0.7h-0.7zM176.0 127.1h0.7v0.7h-0.7zM171.6 128.6h0.7v0.7h-0.7zM174.7 131.0h0.7v0.7h-0.7zM166.9 121.7h0.7v0.7h-0.7zM171.2 125.6h0.7v0.7h-0.7zM180.2 125.1h0.7v0.7h-0.7zM162.5 124.9h0.7v0.7h-0.7z" fill="#000" fill-opacity="0.35"/>
<ellipse cx="174.40" cy="140.80" rx="12.50" ry="5.60" fill="#000" fill-opacity="0.28" filter="url(#b22)"/>
<ellipse cx="171.00" cy="141.00" rx="4.50" ry="3.20" fill="#000" fill-opacity="0.95" filter="url(#b12)"/>
<ellipse cx="178.50" cy="140.50" rx="4.50" ry="3.20" fill="#000" fill-opacity="0.9" filter="url(#b12)"/>
<ellipse cx="174.50" cy="141.50" rx="7.50" ry="3.40" fill="#000" fill-opacity="0.6" filter="url(#b14)"/>
<path d="M169.1 139.1h0.7v0.7h-0.7zM169.2 142.9h0.7v0.7h-0.7zM176.3 145.5h0.7v0.7h-0.7zM168.9 142.1h0.7v0.7h-0.7zM175.2 137.6h0.7v0.7h-0.7zM176.9 141.8h0.7v0.7h-0.7zM169.9 144.4h0.7v0.7h-0.7zM175.2 139.5h0.7v0.7h-0.7zM184.5 138.8h0.7v0.7h-0.7zM176.4 143.4h0.7v0.7h-0.7zM170.5 141.2h0.7v0.7h-0.7zM174.0 137.9h0.7v0.7h-0.7zM168.8 139.8h0.7v0.7h-0.7zM176.1 138.8h0.7v0.7h-0.7zM179.7 141.6h0.7v0.7h-0.7zM169.4 141.1h0.7v0.7h-0.7zM173.1 143.8h0.7v0.7h-0.7zM181.2 142.6h0.7v0.7h-0.7zM171.3 136.7h0.7v0.7h-0.7zM175.6 141.9h0.7v0.7h-0.7zM168.1 143.1h0.7v0.7h-0.7zM169.4 142.0h0.7v0.7h-0.7zM171.3 143.5h0.7v0.7h-0.7zM187.5 139.4h0.7v0.7h-0.7zM171.9 138.3h0.7v0.7h-0.7zM171.2 143.2h0.7v0.7h-0.7zM171.0 138.0h0.7v0.7h-0.7zM173.4 135.2h0.7v0.7h-0.7zM178.3 143.5h0.7v0.7h-0.7zM175.5 138.9h0.7v0.7h-0.7zM186.7 140.0h0.7v0.7h-0.7zM175.7 137.2h0.7v0.7h-0.7zM183.1 137.4h0.7v0.7h-0.7zM176.1 137.8h0.7v0.7h-0.7zM178.0 139.9h0.7v0.7h-0.7zM165.7 141.8h0.7v0.7h-0.7zM173.6 134.8h0.7v0.7h-0.7zM174.0 142.8h0.7v0.7h-0.7zM172.9 137.7h0.7v0.7h-0.7zM161.5 138.0h0.7v0.7h-0.7zM179.7 142.6h0.7v0.7h-0.7zM172.1 140.6h0.7v0.7h-0.7zM171.8 136.8h0.7v0.7h-0.7zM172.9 145.6h0.7v0.7h-0.7zM173.0 138.6h0.7v0.7h-0.7zM176.8 141.4h0.7v0.7h-0.7zM166.8 141.3h0.7v0.7h-0.7zM168.8 144.5h0.7v0.7h-0.7zM176.1 139.6h0.7v0.7h-0.7zM175.3 143.4h0.7v0.7h-0.7zM172.1 138.9h0.7v0.7h-0.7zM171.0 143.7h0.7v0.7h-0.7zM169.4 138.8h0.7v0.7h-0.7zM174.0 139.9h0.7v0.7h-0.7zM181.5 145.7h0.7v0.7h-0.7zM168.1 141.6h0.7v0.7h-0.7zM183.5 141.1h0.7v0.7h-0.7zM179.5 146.6h0.7v0.7h-0.7zM171.7 141.7h0.7v0.7h-0.7zM179.1 138.7h0.7v0.7h-0.7zM165.6 142.7h0.7v0.7h-0.7zM164.0 137.7h0.7v0.7h-0.7zM166.7 143.7h0.7v0.7h-0.7zM171.9 143.9h0.7v0.7h-0.7zM172.4 139.3h0.7v0.7h-0.7zM171.3 139.2h0.7v0.7h-0.7zM175.0 141.3h0.7v0.7h-0.7zM161.6 140.8h0.7v0.7h-0.7zM177.4 138.3h0.7v0.7h-0.7zM165.9 142.3h0.7v0.7h-0.7zM170.4 135.5h0.7v0.7h-0.7zM171.9 139.7h0.7v0.7h-0.7zM167.5 139.7h0.7v0.7h-0.7zM166.2 140.1h0.7v0.7h-0.7zM168.4 141.6h0.7v0.7h-0.7zM174.3 137.6h0.7v0.7h-0.7zM177.9 142.3h0.7v0.7h-0.7zM177.8 140.3h0.7v0.7h-0.7zM168.4 139.1h0.7v0.7h-0.7zM169.7 137.2h0.7v0.7h-0.7zM168.9 137.7h0.7v0.7h-0.7zM177.1 141.7h0.7v0.7h-0.7zM162.2 138.3h0.7v0.7h-0.7zM181.8 141.0h0.7v0.7h-0.7zM171.5 143.6h0.7v0.7h-0.7zM169.7 143.5h0.7v0.7h-0.7zM176.4 144.9h0.7v0.7h-0.7zM180.6 140.0h0.7v0.7h-0.7zM176.5 138.0h0.7v0.7h-0.7zM180.7 143.5h0.7v0.7h-0.7zM175.2 141.6h0.7v0.7h-0.7zM181.8 143.7h0.7v0.7h-0.7zM181.9 140.8h0.7v0.7h-0.7zM173.8 143.9h0.7v0.7h-0.7zM183.0 143.0h0.7v0.7h-0.7zM175.4 142.7h0.7v0.7h-0.7zM174.9 142.1h0.7v0.7h-0.7zM168.9 141.8h0.7v0.7h-0.7zM172.7 141.4h0.7v0.7h-0.7zM179.1 141.4h0.7v0.7h-0.7zM166.5 143.4h0.7v0.7h-0.7zM178.3 139.5h0.7v0.7h-0.7zM176.5 145.3h0.7v0.7h-0.7zM176.1 140.5h0.7v0.7h-0.7zM161.2 143.4h0.7v0.7h-0.7zM173.8 140.6h0.7v0.7h-0.7zM178.3 140.2h0.7v0.7h-0.7zM169.8 146.1h0.7v0.7h-0.7zM174.9 140.0h0.7v0.7h-0.7zM160.1 137.5h0.7v0.7h-0.7zM178.4 138.9h0.7v0.7h-0.7zM170.4 140.0h0.7v0.7h-0.7zM179.6 146.4h0.7v0.7h-0.7zM163.3 141.3h0.7v0.7h-0.7zM178.6 143.2h0.7v0.7h-0.7zM173.0 138.2h0.7v0.7h-0.7zM179.2 141.7h0.7v0.7h-0.7zM168.8 142.5h0.7v0.7h-0.7zM170.7 145.5h0.7v0.7h-0.7zM187.9 139.0h0.7v0.7h-0.7zM169.4 142.4h0.7v0.7h-0.7zM170.2 141.6h0.7v0.7h-0.7zM172.7 138.1h0.7v0.7h-0.7zM168.3 140.7h0.7v0.7h-0.7zM181.5 140.1h0.7v0.7h-0.7zM184.8 134.8h0.7v0.7h-0.7zM170.2 142.4h0.7v0.7h-0.7zM164.0 142.2h0.7v0.7h-0.7zM181.4 139.7h0.7v0.7h-0.7zM181.1 137.3h0.7v0.7h-0.7zM179.3 144.6h0.7v0.7h-0.7zM181.3 141.5h0.7v0.7h-0.7zM169.2 143.4h0.7v0.7h-0.7zM173.4 144.5h0.7v0.7h-0.7zM166.1 139.4h0.7v0.7h-0.7zM165.9 142.9h0.7v0.7h-0.7zM180.3 140.2h0.7v0.7h-0.7zM170.4 140.6h0.7v0.7h-0.7zM188.1 140.6h0.7v0.7h-0.7zM174.8 140.8h0.7v0.7h-0.7z" fill="#000" fill-opacity="0.35"/>
<rect x="77.5" y="26.5" width="57.0" height="58.0" fill="none" stroke="#777" stroke-width="1"/>
<line x1="75.50" y1="84.60" x2="77.00" y2="84.60" stroke="#666" stroke-width="0.6"/>
<text x="75.00" y="86.00" font-size="4.2" font-weight="normal" text-anchor="end" fill="#333">10⁰</text>
<line x1="75.50" y1="70.02" x2="77.00" y2="70.02" stroke="#666" stroke-width="0.6"/>
<text x="75.00" y="71.42" font-size="4.2" font-weight="normal" text-anchor="end" fill="#333">10¹</text>
<line x1="75.50" y1="55.45" x2="77.00" y2="55.45" stroke="#666" stroke-width="0.6"/>
<text x="75.00" y="56.85" font-size="4.2" font-weight="normal" text-anchor="end" fill="#333">10²</text>
<line x1="75.50" y1="40.88" x2="77.00" y2="40.88" stroke="#666" stroke-width="0.6"/>
<text x="75.00" y="42.27" font-size="4.2" font-weight="normal" text-anchor="end" fill="#333">10³</text>
<line x1="75.50" y1="26.30" x2="77.00" y2="26.30" stroke="#666" stroke-width="0.6"/>
<text x="75.00" y="27.70" font-size="4.2" font-weight="normal" text-anchor="end" fill="#333">10⁴</text>
<line x1="77.00" y1="84.60" x2="77.00" y2="86.10" stroke="#666" stroke-width="0.6"/>
<text x="77.00" y="91.50" font-size="4.4" font-weight="normal" text-anchor="middle" fill="#333">10⁰</text>
<line x1="91.38" y1="84.60" x2="91.38" y2="86.10" stroke="#666" stroke-width="0.6"/>
<text x="91.38" y="91.50" font-size="4.4" font-weight="normal" text-anchor="middle" fill="#333">10¹</text>
<line x1="105.75" y1="84.60" x2="105.75" y2="86.10" stroke="#666" stroke-width="0.6"/>
<text x="105.75" y="91.50" font-size="4.4" font-weight="normal" text-anchor="middle" fill="#333">10²</text>
<line x1="120.12" y1="84.60" x2="120.12" y2="86.10" stroke="#666" stroke-width="0.6"/>
<text x="120.12" y="91.50" font-size="4.4" font-weight="normal" text-anchor="middle" fill="#333">10³</text>
<line x1="134.50" y1="84.60" x2="134.50" y2="86.10" stroke="#666" stroke-width="0.6"/>
<text x="134.50" y="91.50" font-size="4.4" font-weight="normal" text-anchor="middle" fill="#333">10⁴</text>
<rect x="77.5" y="101.5" width="57.0" height="58.0" fill="none" stroke="#777" stroke-width="1"/>
<line x1="75.50" y1="159.30" x2="77.00" y2="159.30" stroke="#666" stroke-width="0.6"/>
<text x="75.00" y="160.70" font-size="4.2" font-weight="normal" text-anchor="end" fill="#333">10⁰</text>
<line x1="75.50" y1="144.73" x2="77.00" y2="144.73" stroke="#666" stroke-width="0.6"/>
<text x="75.00" y="146.13" font-size="4.2" font-weight="normal" text-anchor="end" fill="#333">10¹</text>
<line x1="75.50" y1="130.15" x2="77.00" y2="130.15" stroke="#666" stroke-width="0.6"/>
<text x="75.00" y="131.55" font-size="4.2" font-weight="normal" text-anchor="end" fill="#333">10²</text>
<line x1="75.50" y1="115.58" x2="77.00" y2="115.58" stroke="#666" stroke-width="0.6"/>
<text x="75.00" y="116.98" font-size="4.2" font-weight="normal" text-anchor="end" fill="#333">10³</text>
<line x1="75.50" y1="101.00" x2="77.00" y2="101.00" stroke="#666" stroke-width="0.6"/>
<text x="75.00" y="102.40" font-size="4.2" font-weight="normal" text-anchor="end" fill="#333">10⁴</text>
<line x1="77.00" y1="159.30" x2="77.00" y2="160.80" stroke="#666" stroke-width="0.6"/>
<text x="77.00" y="166.20" font-size="4.4" font-weight="normal" text-anchor="middle" fill="#333">10⁰</text>
<line x1="91.38" y1="159.30" x2="91.38" y2="160.80" stroke="#666" stroke-width="0.6"/>
<text x="91.38" y="166.20" font-size="4.4" font-weight="normal" text-anchor="middle" fill="#333">10¹</text>
<line x1="105.75" y1="159.30" x2="105.75" y2="160.80" stroke="#666" stroke-width="0.6"/>
<text x="105.75" y="166.20" font-size="4.4" font-weight="normal" text-anchor="middle" fill="#333">10²</text>
<line x1="120.12" y1="159.30" x2="120.12" y2="160.80" stroke="#666" stroke-width="0.6"/>
<text x="120.12" y="166.20" font-size="4.4" font-weight="normal" text-anchor="middle" fill="#333">10³</text>
<line x1="134.50" y1="159.30" x2="134.50" y2="160.80" stroke="#666" stroke-width="0.6"/>
<text x="134.50" y="166.20" font-size="4.4" font-weight="normal" text-anchor="middle" fill="#333">10⁴</text>
<rect x="148.5" y="26.5" width="58.0" height="58.0" fill="none" stroke="#777" stroke-width="1"/>
<line x1="147.20" y1="84.60" x2="148.70" y2="84.60" stroke="#666" stroke-width="0.6"/>
<text x="146.70" y="86.00" font-size="4.2" font-weight="normal" text-anchor="end" fill="#333">10⁰</text>
<line x1="147.20" y1="70.02" x2="148.70" y2="70.02" stroke="#666" stroke-width="0.6"/>
<text x="146.70" y="71.42" font-size="4.2" font-weight="normal" text-anchor="end" fill="#333">10¹</text>
<line x1="147.20" y1="55.45" x2="148.70" y2="55.45" stroke="#666" stroke-width="0.6"/>
<text x="146.70" y="56.85" font-size="4.2" font-weight="normal" text-anchor="end" fill="#333">10²</text>
<line x1="147.20" y1="40.88" x2="148.70" y2="40.88" stroke="#666" stroke-width="0.6"/>
<text x="146.70" y="42.27" font-size="4.2" font-weight="normal" text-anchor="end" fill="#333">10³</text>
<line x1="147.20" y1="26.30" x2="148.70" y2="26.30" stroke="#666" stroke-width="0.6"/>
<text x="146.70" y="27.70" font-size="4.2" font-weight="normal" text-anchor="end" fill="#333">10⁴</text>
<line x1="148.70" y1="84.60" x2="148.70" y2="86.10" stroke="#666" stroke-width="0.6"/>
<text x="148.70" y="91.50" font-size="4.4" font-weight="normal" text-anchor="middle" fill="#333">10⁰</text>
<line x1="163.07" y1="84.60" x2="163.07" y2="86.10" stroke="#666" stroke-width="0.6"/>
<text x="163.07" y="91.50" font-size="4.4" font-weight="normal" text-anchor="middle" fill="#333">10¹</text>
<line x1="177.45" y1="84.60" x2="177.45" y2="86.10" stroke="#666" stroke-width="0.6"/>
<text x="177.45" y="91.50" font-size="4.4" font-weight="normal" text-anchor="middle" fill="#333">10²</text>
<line x1="191.82" y1="84.60" x2="191.82" y2="86.10" stroke="#666" stroke-width="0.6"/>
<text x="191.82" y="91.50" font-size="4.4" font-weight="normal" text-anchor="middle" fill="#333">10³</text>
<line x1="206.20" y1="84.60" x2="206.20" y2="86.10" stroke="#666" stroke-width="0.6"/>
<text x="206.20" y="91.50" font-size="4.4" font-weight="normal" text-anchor="middle" fill="#333">10⁴</text>
<rect x="148.5" y="101.5" width="58.0" height="58.0" fill="none" stroke="#777" stroke-width="1"/>
<line x1="147.20" y1="159.30" x2="148.70" y2="159.30" stroke="#666" stroke-width="0.6"/>
<text x="146.70" y="160.70" font-size="4.2" font-weight="normal" text-anchor="end" fill="#333">10⁰</text>
<line x1="147.20" y1="144.73" x2="148.70" y2="144.73" stroke="#666" stroke-width="0.6"/>
<text x="146.70" y="146.13" font-size="4.2" font-weight="normal" text-anchor="end" fill="#333">10¹</text>
<line x1="147.20" y1="130.15" x2="148.70" y2="130.15" stroke="#666" stroke-width="0.6"/>
<text x="146.70" y="131.55" font-size="4.2" font-weight="normal" text-anchor="end" fill="#333">10²</text>
<line x1="147.20" y1="115.58" x2="148.70" y2="115.58" stroke="#666" stroke-width="0.6"/>
<text x="146.70" y="116.98" font-size="4.2" font-weight="normal" text-anchor="end" fill="#333">10³</text>
<line x1="147.20" y1="101.00" x2="148.70" y2="101.00" stroke="#666" stroke-width="0.6"/>
<text x="146.70" y="102.40" font-size="4.2" font-weight="normal" text-anchor="end" fill="#333">10⁴</text>
<line x1="148.70" y1="159.30" x2="148.70" y2="160.80" stroke="#666" stroke-width="0.6"/>
<text x="148.70" y="166.20" font-size="4.4" font-weight="normal" text-anchor="middle" fill="#333">10⁰</text>
<line x1="163.07" y1="159.30" x2="163.07" y2="160.80" stroke="#666" stroke-width="0.6"/>
<text x="163.07" y="166.20" font-size="4.4" font-weight="normal" text-anchor="middle" fill="#333">10¹</text>
<line x1="177.45" y1="159.30" x2="177.45" y2="160.80" stroke="#666" stroke-width="0.6"/>
<text x="177.45" y="166.20" font-size="4.4" font-weight="normal" text-anchor="middle" fill="#333">10²</text>
<line x1="191.82" y1="159.30" x2="191.82" y2="160.80" stroke="#666" stroke-width="0.6"/>
<text x="191.82" y="166.20" font-size="4.4" font-weight="normal" text-anchor="middle" fill="#333">10³</text>
<line x1="206.20" y1="159.30" x2="206.20" y2="160.80" stroke="#666" stroke-width="0.6"/>
<text x="206.20" y="166.20" font-size="4.4" font-weight="normal" text-anchor="middle" fill="#333">10⁴</text>
<rect x="82.30" y="44.20" width="28.20" height="16.60" fill="none" stroke="#000" stroke-width="1.25"/>
<rect x="90.80" y="60.80" width="28.40" height="16.40" fill="none" stroke="#000" stroke-width="1.25"/>
<rect x="154.30" y="44.30" width="29.10" height="16.20" fill="none" stroke="#000" stroke-width="1.25"/>
<rect x="163.00" y="60.50" width="28.80" height="16.50" fill="none" stroke="#000" stroke-width="1.25"/>
<rect x="82.30" y="118.30" width="28.50" height="16.90" fill="none" stroke="#000" stroke-width="1.25"/>
<rect x="91.50" y="135.00" width="27.70" height="16.50" fill="none" stroke="#000" stroke-width="1.25"/>
<rect x="154.10" y="118.30" width="28.30" height="16.40" fill="none" stroke="#000" stroke-width="1.25"/>
<rect x="163.00" y="134.80" width="28.30" height="16.60" fill="none" stroke="#000" stroke-width="1.25"/>
<text x="134.30" y="33.80" font-size="9.5" font-weight="bold" text-anchor="end" fill="#000">93</text>
<text x="133.30" y="83.80" font-size="9.5" font-weight="bold" text-anchor="end" fill="#000">2</text>
<text x="205.40" y="33.60" font-size="9.5" font-weight="bold" text-anchor="end" fill="#000">91</text>
<text x="205.40" y="83.60" font-size="9.5" font-weight="bold" text-anchor="end" fill="#000">5</text>
<text x="134.00" y="110.00" font-size="9.5" font-weight="bold" text-anchor="end" fill="#000">88</text>
<text x="133.00" y="157.80" font-size="9.5" font-weight="bold" text-anchor="end" fill="#000">9</text>
<text x="205.40" y="109.60" font-size="9.5" font-weight="bold" text-anchor="end" fill="#000">59</text>
<text x="205.40" y="157.80" font-size="9.5" font-weight="bold" text-anchor="end" fill="#000">39</text>
<text x="60.30" y="159.60" font-size="13" font-weight="bold" text-anchor="start" fill="#000" transform="rotate(-90 60.3 159.6)">BST-2</text>
<line x1="62.80" y1="158.70" x2="62.80" y2="117.80" stroke="#000" stroke-width="2.3"/>
<path d="M62.80,112.00 L59.50,118.80 L66.10,118.80Z" fill="#000"/>
<line x1="78.00" y1="173.80" x2="119.50" y2="173.80" stroke="#000" stroke-width="2.2"/>
<path d="M125.00,173.80 L118.50,170.60 L118.50,177.00Z" fill="#000"/>
<text x="77.60" y="187.90" font-size="13.4" font-weight="bold" text-anchor="start" fill="#000">CD11c</text>
<line x1="182.20" y1="121.80" x2="212.70" y2="121.80" stroke="#000" stroke-width="1.8"/>
<line x1="212.70" y1="122.70" x2="212.70" y2="67.30" stroke="#000" stroke-width="1.8"/>
<line x1="211.80" y1="68.20" x2="238.00" y2="68.20" stroke="#000" stroke-width="1.8"/>
<path d="M244.00,68.20 L237.00,64.60 L237.00,71.80Z" fill="#000"/>
<line x1="191.30" y1="142.60" x2="240.00" y2="142.60" stroke="#000" stroke-width="1.8"/>
<path d="M246,142.6 L239,139 L239,146.2Z" fill="#000"/>
<text x="227.70" y="51.60" font-size="9.6" font-weight="bold" text-anchor="middle" fill="#000">IEC-SN</text>
<text x="228.30" y="62.10" font-size="9.6" font-weight="bold" text-anchor="middle" fill="#000">PDC</text>
<text x="229.30" y="128.30" font-size="9.6" font-weight="bold" text-anchor="middle" fill="#000">IEC-SN</text>
<text x="228.30" y="139.10" font-size="9.6" font-weight="bold" text-anchor="middle" fill="#000">DC</text>
<path d="M252.50,69.00 C253.08,67.17 254.73,62.02 256.00,58.00 C257.27,53.98 259.08,49.32 260.10,44.90 C261.12,40.48 261.42,34.53 262.10,31.50 C262.78,28.47 263.42,26.70 264.20,26.70 C264.98,26.70 266.13,27.35 266.80,31.50 C267.47,35.65 267.75,44.20 268.20,51.60 C268.65,59.00 269.05,70.73 269.50,75.90 C269.95,81.07 270.45,81.18 270.90,82.60 C271.35,84.02 271.98,84.10 272.20,84.40 L272.20,84.40 L252.50,84.40Z" fill="#636363"/>
<path d="M252.50,84.00 C253.42,81.50 256.42,73.83 258.00,69.00 C259.58,64.17 260.97,58.83 262.00,55.00 C263.03,51.17 263.62,49.33 264.20,46.00 C264.78,42.67 265.07,38.28 265.50,35.00 C265.93,31.72 266.30,27.13 266.80,26.30 C267.30,25.47 268.05,26.88 268.50,30.00 C268.95,33.12 269.08,38.33 269.50,45.00 C269.92,51.67 270.50,64.17 271.00,70.00 C271.50,75.83 271.97,77.70 272.50,80.00 C273.03,82.30 272.95,83.13 274.20,83.80 C275.45,84.47 278.87,84.08 280.00,84.00 C281.13,83.92 280.67,83.30 281.00,83.30 C281.33,83.30 277.25,83.88 282.00,84.00 C286.75,84.12 304.92,84.00 309.50,84.00" fill="none" stroke="#1a1a1a" stroke-width="0.95" stroke-linejoin="round"/>
<line x1="252.50" y1="84.00" x2="309.00" y2="84.00" stroke="#444" stroke-width="0.8"/>
<rect x="252.5" y="22.5" width="57.0" height="62.0" fill="none" stroke="#777" stroke-width="1"/>
<line x1="251.00" y1="84.40" x2="252.50" y2="84.40" stroke="#666" stroke-width="0.6"/>
<text x="250.50" y="85.70" font-size="4.2" font-weight="normal" text-anchor="end" fill="#333">0</text>
<line x1="251.00" y1="72.74" x2="252.50" y2="72.74" stroke="#666" stroke-width="0.6"/>
<text x="250.50" y="74.04" font-size="4.2" font-weight="normal" text-anchor="end" fill="#333">20</text>
<line x1="251.00" y1="61.08" x2="252.50" y2="61.08" stroke="#666" stroke-width="0.6"/>
<text x="250.50" y="62.38" font-size="4.2" font-weight="normal" text-anchor="end" fill="#333">40</text>
<line x1="251.00" y1="49.42" x2="252.50" y2="49.42" stroke="#666" stroke-width="0.6"/>
<text x="250.50" y="50.72" font-size="4.2" font-weight="normal" text-anchor="end" fill="#333">60</text>
<line x1="251.00" y1="37.76" x2="252.50" y2="37.76" stroke="#666" stroke-width="0.6"/>
<text x="250.50" y="39.06" font-size="4.2" font-weight="normal" text-anchor="end" fill="#333">80</text>
<line x1="251.00" y1="26.10" x2="252.50" y2="26.10" stroke="#666" stroke-width="0.6"/>
<text x="250.50" y="27.40" font-size="4.2" font-weight="normal" text-anchor="end" fill="#333">100</text>
<line x1="252.50" y1="84.40" x2="252.50" y2="85.90" stroke="#666" stroke-width="0.6"/>
<text x="252.50" y="91.80" font-size="4.4" font-weight="normal" text-anchor="middle" fill="#333">10⁰</text>
<line x1="266.62" y1="84.40" x2="266.62" y2="85.90" stroke="#666" stroke-width="0.6"/>
<text x="266.62" y="91.80" font-size="4.4" font-weight="normal" text-anchor="middle" fill="#333">10¹</text>
<line x1="280.75" y1="84.40" x2="280.75" y2="85.90" stroke="#666" stroke-width="0.6"/>
<text x="280.75" y="91.80" font-size="4.4" font-weight="normal" text-anchor="middle" fill="#333">10²</text>
<line x1="294.88" y1="84.40" x2="294.88" y2="85.90" stroke="#666" stroke-width="0.6"/>
<text x="294.88" y="91.80" font-size="4.4" font-weight="normal" text-anchor="middle" fill="#333">10³</text>
<line x1="309.00" y1="84.40" x2="309.00" y2="85.90" stroke="#666" stroke-width="0.6"/>
<text x="309.00" y="91.80" font-size="4.4" font-weight="normal" text-anchor="middle" fill="#333">10⁴</text>
<path d="M319.50,45.00 C319.75,42.83 320.37,35.12 321.00,32.00 C321.63,28.88 322.55,26.30 323.30,26.30 C324.05,26.30 324.80,28.05 325.50,32.00 C326.20,35.95 326.75,43.33 327.50,50.00 C328.25,56.67 329.17,66.27 330.00,72.00 C330.83,77.73 332.08,82.33 332.50,84.40 L332.50,84.40 L319.50,84.40Z" fill="#636363"/>
<path d="M319.50,76.00 C319.92,75.00 320.85,73.17 322.00,70.00 C323.15,66.83 325.22,62.30 326.40,57.00 C327.58,51.70 328.33,42.70 329.10,38.20 C329.87,33.70 330.43,31.92 331.00,30.00 C331.57,28.08 332.00,26.53 332.50,26.70 C333.00,26.87 333.43,29.53 334.00,31.00 C334.57,32.47 335.15,30.93 335.90,35.50 C336.65,40.07 337.50,51.67 338.50,58.40 C339.50,65.13 340.90,71.97 341.90,75.90 C342.90,79.83 343.72,80.65 344.50,82.00 C345.28,83.35 341.27,83.67 346.60,84.00 C351.93,84.33 371.52,84.00 376.50,84.00" fill="none" stroke="#1a1a1a" stroke-width="0.95" stroke-linejoin="round"/>
<line x1="319.50" y1="84.00" x2="376.00" y2="84.00" stroke="#444" stroke-width="0.8"/>
<rect x="319.5" y="22.5" width="57.0" height="62.0" fill="none" stroke="#777" stroke-width="1"/>
<line x1="318.00" y1="84.40" x2="319.50" y2="84.40" stroke="#666" stroke-width="0.6"/>
<text x="317.50" y="85.70" font-size="4.2" font-weight="normal" text-anchor="end" fill="#333">0</text>
<line x1="318.00" y1="72.74" x2="319.50" y2="72.74" stroke="#666" stroke-width="0.6"/>
<text x="317.50" y="74.04" font-size="4.2" font-weight="normal" text-anchor="end" fill="#333">20</text>
<line x1="318.00" y1="61.08" x2="319.50" y2="61.08" stroke="#666" stroke-width="0.6"/>
<text x="317.50" y="62.38" font-size="4.2" font-weight="normal" text-anchor="end" fill="#333">40</text>
<line x1="318.00" y1="49.42" x2="319.50" y2="49.42" stroke="#666" stroke-width="0.6"/>
<text x="317.50" y="50.72" font-size="4.2" font-weight="normal" text-anchor="end" fill="#333">60</text>
<line x1="318.00" y1="37.76" x2="319.50" y2="37.76" stroke="#666" stroke-width="0.6"/>
<text x="317.50" y="39.06" font-size="4.2" font-weight="normal" text-anchor="end" fill="#333">80</text>
<line x1="318.00" y1="26.10" x2="319.50" y2="26.10" stroke="#666" stroke-width="0.6"/>
<text x="317.50" y="27.40" font-size="4.2" font-weight="normal" text-anchor="end" fill="#333">100</text>
<line x1="319.50" y1="84.40" x2="319.50" y2="85.90" stroke="#666" stroke-width="0.6"/>
<text x="319.50" y="91.80" font-size="4.4" font-weight="normal" text-anchor="middle" fill="#333">10⁰</text>
<line x1="333.62" y1="84.40" x2="333.62" y2="85.90" stroke="#666" stroke-width="0.6"/>
<text x="333.62" y="91.80" font-size="4.4" font-weight="normal" text-anchor="middle" fill="#333">10¹</text>
<line x1="347.75" y1="84.40" x2="347.75" y2="85.90" stroke="#666" stroke-width="0.6"/>
<text x="347.75" y="91.80" font-size="4.4" font-weight="normal" text-anchor="middle" fill="#333">10²</text>
<line x1="361.88" y1="84.40" x2="361.88" y2="85.90" stroke="#666" stroke-width="0.6"/>
<text x="361.88" y="91.80" font-size="4.4" font-weight="normal" text-anchor="middle" fill="#333">10³</text>
<line x1="376.00" y1="84.40" x2="376.00" y2="85.90" stroke="#666" stroke-width="0.6"/>
<text x="376.00" y="91.80" font-size="4.4" font-weight="normal" text-anchor="middle" fill="#333">10⁴</text>
<path d="M386.00,34.00 C386.25,33.00 386.93,29.28 387.50,28.00 C388.07,26.72 388.73,25.63 389.40,26.30 C390.07,26.97 390.73,28.05 391.50,32.00 C392.27,35.95 393.17,43.67 394.00,50.00 C394.83,56.33 395.70,64.27 396.50,70.00 C397.30,75.73 398.42,82.00 398.80,84.40 L398.80,84.40 L386.00,84.40Z" fill="#636363"/>
<path d="M386.00,78.60 C386.78,78.37 389.23,79.90 390.70,77.20 C392.17,74.50 393.83,66.67 394.80,62.40 C395.77,58.13 395.98,55.63 396.50,51.60 C397.02,47.57 397.48,41.63 397.90,38.20 C398.32,34.77 398.62,32.98 399.00,31.00 C399.38,29.02 399.67,26.00 400.20,26.30 C400.73,26.60 401.65,27.45 402.20,32.80 C402.75,38.15 402.93,50.53 403.50,58.40 C404.07,66.27 405.03,75.73 405.60,80.00 C406.17,84.27 400.67,83.33 406.90,84.00 C413.13,84.67 436.98,84.00 443.00,84.00" fill="none" stroke="#1a1a1a" stroke-width="0.95" stroke-linejoin="round"/>
<line x1="386.00" y1="84.00" x2="442.50" y2="84.00" stroke="#444" stroke-width="0.8"/>
<rect x="386.5" y="22.5" width="56.0" height="62.0" fill="none" stroke="#777" stroke-width="1"/>
<line x1="384.50" y1="84.40" x2="386.00" y2="84.40" stroke="#666" stroke-width="0.6"/>
<text x="384.00" y="85.70" font-size="4.2" font-weight="normal" text-anchor="end" fill="#333">0</text>
<line x1="384.50" y1="72.74" x2="386.00" y2="72.74" stroke="#666" stroke-width="0.6"/>
<text x="384.00" y="74.04" font-size="4.2" font-weight="normal" text-anchor="end" fill="#333">20</text>
<line x1="384.50" y1="61.08" x2="386.00" y2="61.08" stroke="#666" stroke-width="0.6"/>
<text x="384.00" y="62.38" font-size="4.2" font-weight="normal" text-anchor="end" fill="#333">40</text>
<line x1="384.50" y1="49.42" x2="386.00" y2="49.42" stroke="#666" stroke-width="0.6"/>
<text x="384.00" y="50.72" font-size="4.2" font-weight="normal" text-anchor="end" fill="#333">60</text>
<line x1="384.50" y1="37.76" x2="386.00" y2="37.76" stroke="#666" stroke-width="0.6"/>
<text x="384.00" y="39.06" font-size="4.2" font-weight="normal" text-anchor="end" fill="#333">80</text>
<line x1="384.50" y1="26.10" x2="386.00" y2="26.10" stroke="#666" stroke-width="0.6"/>
<text x="384.00" y="27.40" font-size="4.2" font-weight="normal" text-anchor="end" fill="#333">100</text>
<line x1="386.00" y1="84.40" x2="386.00" y2="85.90" stroke="#666" stroke-width="0.6"/>
<text x="386.00" y="91.80" font-size="4.4" font-weight="normal" text-anchor="middle" fill="#333">10⁰</text>
<line x1="400.12" y1="84.40" x2="400.12" y2="85.90" stroke="#666" stroke-width="0.6"/>
<text x="400.12" y="91.80" font-size="4.4" font-weight="normal" text-anchor="middle" fill="#333">10¹</text>
<line x1="414.25" y1="84.40" x2="414.25" y2="85.90" stroke="#666" stroke-width="0.6"/>
<text x="414.25" y="91.80" font-size="4.4" font-weight="normal" text-anchor="middle" fill="#333">10²</text>
<line x1="428.38" y1="84.40" x2="428.38" y2="85.90" stroke="#666" stroke-width="0.6"/>
<text x="428.38" y="91.80" font-size="4.4" font-weight="normal" text-anchor="middle" fill="#333">10³</text>
<line x1="442.50" y1="84.40" x2="442.50" y2="85.90" stroke="#666" stroke-width="0.6"/>
<text x="442.50" y="91.80" font-size="4.4" font-weight="normal" text-anchor="middle" fill="#333">10⁴</text>
<path d="M452.30,36.00 C452.58,34.83 453.37,30.58 454.00,29.00 C454.63,27.42 455.35,25.83 456.10,26.50 C456.85,27.17 457.60,28.25 458.50,33.00 C459.40,37.75 460.58,48.00 461.50,55.00 C462.42,62.00 463.22,70.10 464.00,75.00 C464.78,79.90 465.83,82.83 466.20,84.40 L466.20,84.40 L452.30,84.40Z" fill="#636363"/>
<path d="M452.30,80.00 C452.92,79.33 454.70,77.82 456.00,76.00 C457.30,74.18 459.18,71.60 460.10,69.10 C461.02,66.60 460.93,65.48 461.50,61.00 C462.07,56.52 462.83,47.20 463.50,42.20 C464.17,37.20 464.88,33.62 465.50,31.00 C466.12,28.38 466.63,25.30 467.20,26.50 C467.77,27.70 468.17,31.12 468.90,38.20 C469.63,45.28 470.60,61.82 471.60,69.00 C472.60,76.18 473.57,78.80 474.90,81.30 C476.23,83.80 473.87,83.55 479.60,84.00 C485.33,84.45 504.35,84.00 509.30,84.00" fill="none" stroke="#1a1a1a" stroke-width="0.95" stroke-linejoin="round"/>
<line x1="452.30" y1="84.00" x2="508.80" y2="84.00" stroke="#444" stroke-width="0.8"/>
<rect x="452.5" y="22.5" width="56.0" height="62.0" fill="none" stroke="#777" stroke-width="1"/>
<line x1="450.80" y1="84.40" x2="452.30" y2="84.40" stroke="#666" stroke-width="0.6"/>
<text x="450.30" y="85.70" font-size="4.2" font-weight="normal" text-anchor="end" fill="#333">0</text>
<line x1="450.80" y1="72.74" x2="452.30" y2="72.74" stroke="#666" stroke-width="0.6"/>
<text x="450.30" y="74.04" font-size="4.2" font-weight="normal" text-anchor="end" fill="#333">20</text>
<line x1="450.80" y1="61.08" x2="452.30" y2="61.08" stroke="#666" stroke-width="0.6"/>
<text x="450.30" y="62.38" font-size="4.2" font-weight="normal" text-anchor="end" fill="#333">40</text>
<line x1="450.80" y1="49.42" x2="452.30" y2="49.42" stroke="#666" stroke-width="0.6"/>
<text x="450.30" y="50.72" font-size="4.2" font-weight="normal" text-anchor="end" fill="#333">60</text>
<line x1="450.80" y1="37.76" x2="452.30" y2="37.76" stroke="#666" stroke-width="0.6"/>
<text x="450.30" y="39.06" font-size="4.2" font-weight="normal" text-anchor="end" fill="#333">80</text>
<line x1="450.80" y1="26.10" x2="452.30" y2="26.10" stroke="#666" stroke-width="0.6"/>
<text x="450.30" y="27.40" font-size="4.2" font-weight="normal" text-anchor="end" fill="#333">100</text>
<line x1="452.30" y1="84.40" x2="452.30" y2="85.90" stroke="#666" stroke-width="0.6"/>
<text x="452.30" y="91.80" font-size="4.4" font-weight="normal" text-anchor="middle" fill="#333">10⁰</text>
<line x1="466.43" y1="84.40" x2="466.43" y2="85.90" stroke="#666" stroke-width="0.6"/>
<text x="466.43" y="91.80" font-size="4.4" font-weight="normal" text-anchor="middle" fill="#333">10¹</text>
<line x1="480.55" y1="84.40" x2="480.55" y2="85.90" stroke="#666" stroke-width="0.6"/>
<text x="480.55" y="91.80" font-size="4.4" font-weight="normal" text-anchor="middle" fill="#333">10²</text>
<line x1="494.68" y1="84.40" x2="494.68" y2="85.90" stroke="#666" stroke-width="0.6"/>
<text x="494.68" y="91.80" font-size="4.4" font-weight="normal" text-anchor="middle" fill="#333">10³</text>
<line x1="508.80" y1="84.40" x2="508.80" y2="85.90" stroke="#666" stroke-width="0.6"/>
<text x="508.80" y="91.80" font-size="4.4" font-weight="normal" text-anchor="middle" fill="#333">10⁴</text>
<path d="M252.50,143.80 C253.27,142.23 255.88,138.43 257.10,134.40 C258.32,130.37 259.02,124.08 259.80,119.60 C260.58,115.12 261.23,110.42 261.80,107.50 C262.37,104.58 262.63,100.53 263.20,102.10 C263.77,103.67 264.65,111.52 265.20,116.90 C265.75,122.28 265.93,128.78 266.50,134.40 C267.07,140.02 267.70,146.53 268.60,150.60 C269.50,154.67 271.17,157.33 271.90,158.80 C272.63,160.27 272.82,159.30 273.00,159.40 L273.00,159.90 L252.50,159.90Z" fill="#636363"/>
<path d="M252.50,158.50 C253.50,158.08 256.83,157.55 258.50,156.00 C260.17,154.45 261.38,151.68 262.50,149.20 C263.62,146.72 264.42,144.02 265.20,141.10 C265.98,138.18 266.53,134.27 267.20,131.70 C267.87,129.13 268.53,125.48 269.20,125.70 C269.87,125.92 270.40,130.47 271.20,133.00 C272.00,135.53 272.98,140.67 274.00,140.90 C275.02,141.13 276.42,136.38 277.30,134.40 C278.18,132.42 278.63,131.92 279.30,129.00 C279.97,126.08 280.62,120.48 281.30,116.90 C281.98,113.32 282.83,110.02 283.40,107.50 C283.97,104.98 284.27,101.35 284.70,101.80 C285.13,102.25 285.55,105.43 286.00,110.20 C286.45,114.97 286.95,124.35 287.40,130.40 C287.85,136.45 288.13,141.90 288.70,146.50 C289.27,151.10 290.08,155.92 290.80,158.00 C291.52,160.08 289.88,158.83 293.00,159.00 C296.12,159.17 306.75,159.00 309.50,159.00" fill="none" stroke="#1a1a1a" stroke-width="0.95" stroke-linejoin="round"/>
<line x1="252.50" y1="159.50" x2="309.00" y2="159.50" stroke="#444" stroke-width="0.8"/>
<rect x="252.5" y="97.5" width="57.0" height="62.0" fill="none" stroke="#777" stroke-width="1"/>
<line x1="251.00" y1="159.90" x2="252.50" y2="159.90" stroke="#666" stroke-width="0.6"/>
<text x="250.50" y="161.20" font-size="4.2" font-weight="normal" text-anchor="end" fill="#333">0</text>
<line x1="251.00" y1="148.24" x2="252.50" y2="148.24" stroke="#666" stroke-width="0.6"/>
<text x="250.50" y="149.54" font-size="4.2" font-weight="normal" text-anchor="end" fill="#333">20</text>
<line x1="251.00" y1="136.58" x2="252.50" y2="136.58" stroke="#666" stroke-width="0.6"/>
<text x="250.50" y="137.88" font-size="4.2" font-weight="normal" text-anchor="end" fill="#333">40</text>
<line x1="251.00" y1="124.92" x2="252.50" y2="124.92" stroke="#666" stroke-width="0.6"/>
<text x="250.50" y="126.22" font-size="4.2" font-weight="normal" text-anchor="end" fill="#333">60</text>
<line x1="251.00" y1="113.26" x2="252.50" y2="113.26" stroke="#666" stroke-width="0.6"/>
<text x="250.50" y="114.56" font-size="4.2" font-weight="normal" text-anchor="end" fill="#333">80</text>
<line x1="251.00" y1="101.60" x2="252.50" y2="101.60" stroke="#666" stroke-width="0.6"/>
<text x="250.50" y="102.90" font-size="4.2" font-weight="normal" text-anchor="end" fill="#333">100</text>
<line x1="252.50" y1="159.90" x2="252.50" y2="161.40" stroke="#666" stroke-width="0.6"/>
<text x="252.50" y="167.30" font-size="4.4" font-weight="normal" text-anchor="middle" fill="#333">10⁰</text>
<line x1="266.62" y1="159.90" x2="266.62" y2="161.40" stroke="#666" stroke-width="0.6"/>
<text x="266.62" y="167.30" font-size="4.4" font-weight="normal" text-anchor="middle" fill="#333">10¹</text>
<line x1="280.75" y1="159.90" x2="280.75" y2="161.40" stroke="#666" stroke-width="0.6"/>
<text x="280.75" y="167.30" font-size="4.4" font-weight="normal" text-anchor="middle" fill="#333">10²</text>
<line x1="294.88" y1="159.90" x2="294.88" y2="161.40" stroke="#666" stroke-width="0.6"/>
<text x="294.88" y="167.30" font-size="4.4" font-weight="normal" text-anchor="middle" fill="#333">10³</text>
<line x1="309.00" y1="159.90" x2="309.00" y2="161.40" stroke="#666" stroke-width="0.6"/>
<text x="309.00" y="167.30" font-size="4.4" font-weight="normal" text-anchor="middle" fill="#333">10⁴</text>
<path d="M319.50,106.50 C319.75,105.83 320.40,103.37 321.00,102.50 C321.60,101.63 322.43,100.72 323.10,101.30 C323.77,101.88 324.27,102.05 325.00,106.00 C325.73,109.95 326.67,118.00 327.50,125.00 C328.33,132.00 329.28,142.27 330.00,148.00 C330.72,153.73 331.50,157.50 331.80,159.40 L331.80,159.90 L319.50,159.90Z" fill="#636363"/>
<path d="M319.50,159.00 C321.45,159.00 328.78,159.42 331.20,159.00 C333.62,158.58 333.00,157.63 334.00,156.50 C335.00,155.37 336.00,154.27 337.20,152.20 C338.40,150.13 339.85,146.80 341.20,144.10 C342.55,141.40 344.40,136.43 345.30,136.00 C346.20,135.57 345.93,141.93 346.60,141.50 C347.27,141.07 348.40,138.82 349.30,133.40 C350.20,127.98 351.17,114.35 352.00,109.00 C352.83,103.65 353.63,99.47 354.30,101.30 C354.97,103.13 355.37,111.52 356.00,120.00 C356.63,128.48 357.30,145.70 358.10,152.20 C358.90,158.70 357.73,157.87 360.80,159.00 C363.87,160.13 373.88,159.00 376.50,159.00" fill="none" stroke="#1a1a1a" stroke-width="0.95" stroke-linejoin="round"/>
<line x1="319.50" y1="159.50" x2="376.00" y2="159.50" stroke="#444" stroke-width="0.8"/>
<rect x="319.5" y="97.5" width="57.0" height="62.0" fill="none" stroke="#777" stroke-width="1"/>
<line x1="318.00" y1="159.90" x2="319.50" y2="159.90" stroke="#666" stroke-width="0.6"/>
<text x="317.50" y="161.20" font-size="4.2" font-weight="normal" text-anchor="end" fill="#333">0</text>
<line x1="318.00" y1="148.24" x2="319.50" y2="148.24" stroke="#666" stroke-width="0.6"/>
<text x="317.50" y="149.54" font-size="4.2" font-weight="normal" text-anchor="end" fill="#333">20</text>
<line x1="318.00" y1="136.58" x2="319.50" y2="136.58" stroke="#666" stroke-width="0.6"/>
<text x="317.50" y="137.88" font-size="4.2" font-weight="normal" text-anchor="end" fill="#333">40</text>
<line x1="318.00" y1="124.92" x2="319.50" y2="124.92" stroke="#666" stroke-width="0.6"/>
<text x="317.50" y="126.22" font-size="4.2" font-weight="normal" text-anchor="end" fill="#333">60</text>
<line x1="318.00" y1="113.26" x2="319.50" y2="113.26" stroke="#666" stroke-width="0.6"/>
<text x="317.50" y="114.56" font-size="4.2" font-weight="normal" text-anchor="end" fill="#333">80</text>
<line x1="318.00" y1="101.60" x2="319.50" y2="101.60" stroke="#666" stroke-width="0.6"/>
<text x="317.50" y="102.90" font-size="4.2" font-weight="normal" text-anchor="end" fill="#333">100</text>
<line x1="319.50" y1="159.90" x2="319.50" y2="161.40" stroke="#666" stroke-width="0.6"/>
<text x="319.50" y="167.30" font-size="4.4" font-weight="normal" text-anchor="middle" fill="#333">10⁰</text>
<line x1="333.62" y1="159.90" x2="333.62" y2="161.40" stroke="#666" stroke-width="0.6"/>
<text x="333.62" y="167.30" font-size="4.4" font-weight="normal" text-anchor="middle" fill="#333">10¹</text>
<line x1="347.75" y1="159.90" x2="347.75" y2="161.40" stroke="#666" stroke-width="0.6"/>
<text x="347.75" y="167.30" font-size="4.4" font-weight="normal" text-anchor="middle" fill="#333">10²</text>
<line x1="361.88" y1="159.90" x2="361.88" y2="161.40" stroke="#666" stroke-width="0.6"/>
<text x="361.88" y="167.30" font-size="4.4" font-weight="normal" text-anchor="middle" fill="#333">10³</text>
<line x1="376.00" y1="159.90" x2="376.00" y2="161.40" stroke="#666" stroke-width="0.6"/>
<text x="376.00" y="167.30" font-size="4.4" font-weight="normal" text-anchor="middle" fill="#333">10⁴</text>
<path d="M386.00,107.00 C386.25,106.25 387.00,103.45 387.50,102.50 C388.00,101.55 388.42,100.72 389.00,101.30 C389.58,101.88 390.17,102.05 391.00,106.00 C391.83,109.95 393.00,118.00 394.00,125.00 C395.00,132.00 396.08,142.27 397.00,148.00 C397.92,153.73 399.08,157.50 399.50,159.40 L399.50,159.90 L386.00,159.90Z" fill="#636363"/>
<path d="M386.00,157.60 C387.13,157.38 391.00,157.42 392.80,156.30 C394.60,155.18 395.68,152.48 396.80,150.90 C397.92,149.32 398.83,149.05 399.50,146.80 C400.17,144.55 400.23,139.97 400.80,137.40 C401.37,134.83 402.22,133.20 402.90,131.40 C403.58,129.60 404.35,128.52 404.90,126.60 C405.45,124.68 405.65,122.37 406.20,119.90 C406.75,117.43 407.48,114.83 408.20,111.80 C408.92,108.77 409.82,101.25 410.50,101.70 C411.18,102.15 411.67,109.90 412.30,114.50 C412.93,119.10 413.63,125.93 414.30,129.30 C414.97,132.67 415.63,134.70 416.30,134.70 C416.97,134.70 417.52,131.53 418.30,129.30 C419.08,127.07 420.22,123.77 421.00,121.30 C421.78,118.83 422.32,114.50 423.00,114.50 C423.68,114.50 424.42,121.52 425.10,121.30 C425.78,121.08 426.55,112.53 427.10,113.20 C427.65,113.87 427.83,121.93 428.40,125.30 C428.97,128.67 429.93,128.68 430.50,133.40 C431.07,138.12 431.13,149.33 431.80,153.60 C432.47,157.87 432.63,158.10 434.50,159.00 C436.37,159.90 441.58,159.00 443.00,159.00" fill="none" stroke="#1a1a1a" stroke-width="0.95" stroke-linejoin="round"/>
<line x1="386.00" y1="159.50" x2="442.50" y2="159.50" stroke="#444" stroke-width="0.8"/>
<rect x="386.5" y="97.5" width="56.0" height="62.0" fill="none" stroke="#777" stroke-width="1"/>
<line x1="384.50" y1="159.90" x2="386.00" y2="159.90" stroke="#666" stroke-width="0.6"/>
<text x="384.00" y="161.20" font-size="4.2" font-weight="normal" text-anchor="end" fill="#333">0</text>
<line x1="384.50" y1="148.24" x2="386.00" y2="148.24" stroke="#666" stroke-width="0.6"/>
<text x="384.00" y="149.54" font-size="4.2" font-weight="normal" text-anchor="end" fill="#333">20</text>
<line x1="384.50" y1="136.58" x2="386.00" y2="136.58" stroke="#666" stroke-width="0.6"/>
<text x="384.00" y="137.88" font-size="4.2" font-weight="normal" text-anchor="end" fill="#333">40</text>
<line x1="384.50" y1="124.92" x2="386.00" y2="124.92" stroke="#666" stroke-width="0.6"/>
<text x="384.00" y="126.22" font-size="4.2" font-weight="normal" text-anchor="end" fill="#333">60</text>
<line x1="384.50" y1="113.26" x2="386.00" y2="113.26" stroke="#666" stroke-width="0.6"/>
<text x="384.00" y="114.56" font-size="4.2" font-weight="normal" text-anchor="end" fill="#333">80</text>
<line x1="384.50" y1="101.60" x2="386.00" y2="101.60" stroke="#666" stroke-width="0.6"/>
<text x="384.00" y="102.90" font-size="4.2" font-weight="normal" text-anchor="end" fill="#333">100</text>
<line x1="386.00" y1="159.90" x2="386.00" y2="161.40" stroke="#666" stroke-width="0.6"/>
<text x="386.00" y="167.30" font-size="4.4" font-weight="normal" text-anchor="middle" fill="#333">10⁰</text>
<line x1="400.12" y1="159.90" x2="400.12" y2="161.40" stroke="#666" stroke-width="0.6"/>
<text x="400.12" y="167.30" font-size="4.4" font-weight="normal" text-anchor="middle" fill="#333">10¹</text>
<line x1="414.25" y1="159.90" x2="414.25" y2="161.40" stroke="#666" stroke-width="0.6"/>
<text x="414.25" y="167.30" font-size="4.4" font-weight="normal" text-anchor="middle" fill="#333">10²</text>
<line x1="428.38" y1="159.90" x2="428.38" y2="161.40" stroke="#666" stroke-width="0.6"/>
<text x="428.38" y="167.30" font-size="4.4" font-weight="normal" text-anchor="middle" fill="#333">10³</text>
<line x1="442.50" y1="159.90" x2="442.50" y2="161.40" stroke="#666" stroke-width="0.6"/>
<text x="442.50" y="167.30" font-size="4.4" font-weight="normal" text-anchor="middle" fill="#333">10⁴</text>
<path d="M452.30,108.00 C452.58,107.17 453.42,104.12 454.00,103.00 C454.58,101.88 455.13,100.80 455.80,101.30 C456.47,101.80 457.13,101.55 458.00,106.00 C458.87,110.45 460.08,120.67 461.00,128.00 C461.92,135.33 462.75,144.77 463.50,150.00 C464.25,155.23 465.17,157.83 465.50,159.40 L465.50,159.90 L452.30,159.90Z" fill="#636363"/>
<path d="M452.30,157.00 C453.83,156.65 459.30,156.15 461.50,154.90 C463.70,153.65 464.17,151.30 465.50,149.50 C466.83,147.70 468.15,146.35 469.50,144.10 C470.85,141.85 472.37,138.57 473.60,136.00 C474.83,133.43 476.00,129.03 476.90,128.70 C477.80,128.37 478.22,131.53 479.00,134.00 C479.78,136.47 480.60,145.17 481.60,143.50 C482.60,141.83 484.10,129.72 485.00,124.00 C485.90,118.28 486.37,112.92 487.00,109.20 C487.63,105.48 488.12,101.03 488.80,101.70 C489.48,102.37 490.38,108.82 491.10,113.20 C491.82,117.58 492.43,122.85 493.10,128.00 C493.77,133.15 494.32,139.62 495.10,144.10 C495.88,148.58 496.90,152.42 497.80,154.90 C498.70,157.38 498.58,158.32 500.50,159.00 C502.42,159.68 507.83,159.00 509.30,159.00" fill="none" stroke="#1a1a1a" stroke-width="0.95" stroke-linejoin="round"/>
<line x1="452.30" y1="159.50" x2="508.80" y2="159.50" stroke="#444" stroke-width="0.8"/>
<rect x="452.5" y="97.5" width="56.0" height="62.0" fill="none" stroke="#777" stroke-width="1"/>
<line x1="450.80" y1="159.90" x2="452.30" y2="159.90" stroke="#666" stroke-width="0.6"/>
<text x="450.30" y="161.20" font-size="4.2" font-weight="normal" text-anchor="end" fill="#333">0</text>
<line x1="450.80" y1="148.24" x2="452.30" y2="148.24" stroke="#666" stroke-width="0.6"/>
<text x="450.30" y="149.54" font-size="4.2" font-weight="normal" text-anchor="end" fill="#333">20</text>
<line x1="450.80" y1="136.58" x2="452.30" y2="136.58" stroke="#666" stroke-width="0.6"/>
<text x="450.30" y="137.88" font-size="4.2" font-weight="normal" text-anchor="end" fill="#333">40</text>
<line x1="450.80" y1="124.92" x2="452.30" y2="124.92" stroke="#666" stroke-width="0.6"/>
<text x="450.30" y="126.22" font-size="4.2" font-weight="normal" text-anchor="end" fill="#333">60</text>
<line x1="450.80" y1="113.26" x2="452.30" y2="113.26" stroke="#666" stroke-width="0.6"/>
<text x="450.30" y="114.56" font-size="4.2" font-weight="normal" text-anchor="end" fill="#333">80</text>
<line x1="450.80" y1="101.60" x2="452.30" y2="101.60" stroke="#666" stroke-width="0.6"/>
<text x="450.30" y="102.90" font-size="4.2" font-weight="normal" text-anchor="end" fill="#333">100</text>
<line x1="452.30" y1="159.90" x2="452.30" y2="161.40" stroke="#666" stroke-width="0.6"/>
<text x="452.30" y="167.30" font-size="4.4" font-weight="normal" text-anchor="middle" fill="#333">10⁰</text>
<line x1="466.43" y1="159.90" x2="466.43" y2="161.40" stroke="#666" stroke-width="0.6"/>
<text x="466.43" y="167.30" font-size="4.4" font-weight="normal" text-anchor="middle" fill="#333">10¹</text>
<line x1="480.55" y1="159.90" x2="480.55" y2="161.40" stroke="#666" stroke-width="0.6"/>
<text x="480.55" y="167.30" font-size="4.4" font-weight="normal" text-anchor="middle" fill="#333">10²</text>
<line x1="494.68" y1="159.90" x2="494.68" y2="161.40" stroke="#666" stroke-width="0.6"/>
<text x="494.68" y="167.30" font-size="4.4" font-weight="normal" text-anchor="middle" fill="#333">10³</text>
<line x1="508.80" y1="159.90" x2="508.80" y2="161.40" stroke="#666" stroke-width="0.6"/>
<text x="508.80" y="167.30" font-size="4.4" font-weight="normal" text-anchor="middle" fill="#333">10⁴</text>
<line x1="253.00" y1="174.10" x2="293.50" y2="174.10" stroke="#000" stroke-width="2.2"/>
<path d="M299.00,174.10 L292.50,170.90 L292.50,177.30Z" fill="#000"/>
<text x="252.60" y="188.20" font-size="13.3" font-weight="bold" text-anchor="start" fill="#000">CD11b</text>
<line x1="320.00" y1="174.10" x2="360.50" y2="174.10" stroke="#000" stroke-width="2.2"/>
<path d="M366.00,174.10 L359.50,170.90 L359.50,177.30Z" fill="#000"/>
<text x="319.60" y="188.20" font-size="13.3" font-weight="bold" text-anchor="start" fill="#000">MHCII</text>
<line x1="386.50" y1="174.10" x2="427.00" y2="174.10" stroke="#000" stroke-width="2.2"/>
<path d="M432.50,174.10 L426.00,170.90 L426.00,177.30Z" fill="#000"/>
<text x="386.10" y="188.20" font-size="13.3" font-weight="bold" text-anchor="start" fill="#000">CD80</text>
<line x1="452.80" y1="174.10" x2="493.30" y2="174.10" stroke="#000" stroke-width="2.2"/>
<path d="M498.80,174.10 L492.30,170.90 L492.30,177.30Z" fill="#000"/>
<text x="452.40" y="188.20" font-size="13.3" font-weight="bold" text-anchor="start" fill="#000">CD86</text>
<text x="6.00" y="225.00" font-size="17.5" font-weight="bold" text-anchor="start" fill="#000">B</text>
<line x1="61.30" y1="248.40" x2="61.30" y2="322.00" stroke="#000" stroke-width="1.4"/>
<line x1="61.30" y1="322.00" x2="121.20" y2="322.00" stroke="#000" stroke-width="1.4"/>
<line x1="58.30" y1="322.00" x2="61.30" y2="322.00" stroke="#000" stroke-width="1.4"/>
<text x="56.30" y="326.60" font-size="13" font-weight="bold" text-anchor="end" fill="#000">0</text>
<line x1="58.30" y1="307.38" x2="61.30" y2="307.38" stroke="#000" stroke-width="1.4"/>
<text x="56.30" y="311.98" font-size="13" font-weight="bold" text-anchor="end" fill="#000">1</text>
<line x1="58.30" y1="292.76" x2="61.30" y2="292.76" stroke="#000" stroke-width="1.4"/>
<text x="56.30" y="297.36" font-size="13" font-weight="bold" text-anchor="end" fill="#000">2</text>
<line x1="58.30" y1="278.14" x2="61.30" y2="278.14" stroke="#000" stroke-width="1.4"/>
<text x="56.30" y="282.74" font-size="13" font-weight="bold" text-anchor="end" fill="#000">3</text>
<line x1="58.30" y1="263.52" x2="61.30" y2="263.52" stroke="#000" stroke-width="1.4"/>
<text x="56.30" y="268.12" font-size="13" font-weight="bold" text-anchor="end" fill="#000">4</text>
<line x1="58.30" y1="248.90" x2="61.30" y2="248.90" stroke="#000" stroke-width="1.4"/>
<text x="56.30" y="253.50" font-size="13" font-weight="bold" text-anchor="end" fill="#000">5</text>
<rect x="78.20" y="268.60" width="8.40" height="53.40" fill="#000" stroke="#000" stroke-width="1.2"/>
<line x1="82.40" y1="268.60" x2="82.40" y2="260.50" stroke="#000" stroke-width="1.2"/>
<line x1="80.20" y1="260.50" x2="84.60" y2="260.50" stroke="#000" stroke-width="1.2"/>
<rect x="108.40" y="298.60" width="7.90" height="23.40" fill="#fff" stroke="#000" stroke-width="1.2"/>
<line x1="112.35" y1="298.60" x2="112.35" y2="291.20" stroke="#000" stroke-width="1.2"/>
<line x1="110.15" y1="291.20" x2="114.55" y2="291.20" stroke="#000" stroke-width="1.2"/>
<line x1="82.80" y1="248.00" x2="106.70" y2="248.00" stroke="#000" stroke-width="1.5"/>
<text x="94.75" y="246.80" font-size="12" font-weight="bold" text-anchor="middle" fill="#000">*</text>
<text x="95.50" y="233.70" font-size="13" font-weight="bold" text-anchor="middle" fill="#000">IFNα</text>
<text x="0" y="0" font-size="13" font-weight="bold" text-anchor="middle" transform="translate(37.00 282.30) rotate(-90)">[U/ml]x10<tspan dy="-4" font-size="8.5">3</tspan></text>
<text x="72.00" y="334.50" font-size="12" font-weight="bold" text-anchor="middle" fill="#000">-</text>
<line x1="72.00" y1="322.00" x2="72.00" y2="325.00" stroke="#000" stroke-width="1.2"/>
<text x="83.50" y="334.50" font-size="12" font-weight="bold" text-anchor="middle" fill="#000">+</text>
<line x1="83.50" y1="322.00" x2="83.50" y2="325.00" stroke="#000" stroke-width="1.2"/>
<text x="101.00" y="334.50" font-size="12" font-weight="bold" text-anchor="middle" fill="#000">-</text>
<line x1="101.00" y1="322.00" x2="101.00" y2="325.00" stroke="#000" stroke-width="1.2"/>
<text x="112.50" y="334.50" font-size="12" font-weight="bold" text-anchor="middle" fill="#000">+</text>
<line x1="112.50" y1="322.00" x2="112.50" y2="325.00" stroke="#000" stroke-width="1.2"/>
<line x1="173.00" y1="249.00" x2="173.00" y2="322.50" stroke="#000" stroke-width="1.4"/>
<line x1="173.00" y1="322.50" x2="228.75" y2="322.50" stroke="#000" stroke-width="1.4"/>
<line x1="170.00" y1="322.50" x2="173.00" y2="322.50" stroke="#000" stroke-width="1.4"/>
<text x="168.00" y="327.10" font-size="13" font-weight="bold" text-anchor="end" fill="#000">0</text>
<line x1="170.00" y1="307.90" x2="173.00" y2="307.90" stroke="#000" stroke-width="1.4"/>
<text x="168.00" y="312.50" font-size="13" font-weight="bold" text-anchor="end" fill="#000">1</text>
<line x1="170.00" y1="293.30" x2="173.00" y2="293.30" stroke="#000" stroke-width="1.4"/>
<text x="168.00" y="297.90" font-size="13" font-weight="bold" text-anchor="end" fill="#000">2</text>
<line x1="170.00" y1="278.70" x2="173.00" y2="278.70" stroke="#000" stroke-width="1.4"/>
<text x="168.00" y="283.30" font-size="13" font-weight="bold" text-anchor="end" fill="#000">3</text>
<line x1="170.00" y1="264.10" x2="173.00" y2="264.10" stroke="#000" stroke-width="1.4"/>
<text x="168.00" y="268.70" font-size="13" font-weight="bold" text-anchor="end" fill="#000">4</text>
<line x1="170.00" y1="249.50" x2="173.00" y2="249.50" stroke="#000" stroke-width="1.4"/>
<text x="168.00" y="254.10" font-size="13" font-weight="bold" text-anchor="end" fill="#000">5</text>
<rect x="188.75" y="304.50" width="8.25" height="18.00" fill="#000" stroke="#000" stroke-width="1.2"/>
<line x1="192.88" y1="304.50" x2="192.88" y2="302.30" stroke="#000" stroke-width="1.2"/>
<line x1="190.68" y1="302.30" x2="195.07" y2="302.30" stroke="#000" stroke-width="1.2"/>
<rect x="218.75" y="259.25" width="7.50" height="63.25" fill="#fff" stroke="#000" stroke-width="1.2"/>
<line x1="222.50" y1="259.25" x2="222.50" y2="256.20" stroke="#000" stroke-width="1.2"/>
<line x1="220.30" y1="256.20" x2="224.70" y2="256.20" stroke="#000" stroke-width="1.2"/>
<line x1="198.00" y1="248.75" x2="222.00" y2="248.75" stroke="#000" stroke-width="1.5"/>
<text x="210.00" y="247.55" font-size="12" font-weight="bold" text-anchor="middle" fill="#000">**</text>
<text x="204.00" y="233.70" font-size="13" font-weight="bold" text-anchor="middle" fill="#000">IL-12</text>
<text x="0" y="0" font-size="13" font-weight="bold" text-anchor="middle" transform="translate(148.60 280.00) rotate(-90)">[pg/ml]x10<tspan dy="-4" font-size="8.5">4</tspan></text>
<text x="182.50" y="334.50" font-size="12" font-weight="bold" text-anchor="middle" fill="#000">-</text>
<line x1="182.50" y1="322.50" x2="182.50" y2="325.50" stroke="#000" stroke-width="1.2"/>
<text x="193.50" y="334.50" font-size="12" font-weight="bold" text-anchor="middle" fill="#000">+</text>
<line x1="193.50" y1="322.50" x2="193.50" y2="325.50" stroke="#000" stroke-width="1.2"/>
<text x="212.50" y="334.50" font-size="12" font-weight="bold" text-anchor="middle" fill="#000">-</text>
<line x1="212.50" y1="322.50" x2="212.50" y2="325.50" stroke="#000" stroke-width="1.2"/>
<text x="222.50" y="334.50" font-size="12" font-weight="bold" text-anchor="middle" fill="#000">+</text>
<line x1="222.50" y1="322.50" x2="222.50" y2="325.50" stroke="#000" stroke-width="1.2"/>
<line x1="279.50" y1="249.00" x2="279.50" y2="322.50" stroke="#000" stroke-width="1.4"/>
<line x1="279.50" y1="322.50" x2="337.50" y2="322.50" stroke="#000" stroke-width="1.4"/>
<line x1="276.50" y1="322.50" x2="279.50" y2="322.50" stroke="#000" stroke-width="1.4"/>
<text x="274.50" y="327.10" font-size="13" font-weight="bold" text-anchor="end" fill="#000">0</text>
<line x1="276.50" y1="298.17" x2="279.50" y2="298.17" stroke="#000" stroke-width="1.4"/>
<text x="274.50" y="302.77" font-size="13" font-weight="bold" text-anchor="end" fill="#000">1</text>
<line x1="276.50" y1="273.83" x2="279.50" y2="273.83" stroke="#000" stroke-width="1.4"/>
<text x="274.50" y="278.43" font-size="13" font-weight="bold" text-anchor="end" fill="#000">2</text>
<line x1="276.50" y1="249.50" x2="279.50" y2="249.50" stroke="#000" stroke-width="1.4"/>
<text x="274.50" y="254.10" font-size="13" font-weight="bold" text-anchor="end" fill="#000">3</text>
<rect x="284.50" y="321.40" width="6.80" height="1.10" fill="#000" stroke="#000" stroke-width="1.2"/>
<rect x="295.50" y="317.50" width="8.20" height="5.00" fill="#000" stroke="#000" stroke-width="1.2"/>
<line x1="299.60" y1="317.50" x2="299.60" y2="315.50" stroke="#000" stroke-width="1.2"/>
<line x1="297.40" y1="315.50" x2="301.80" y2="315.50" stroke="#000" stroke-width="1.2"/>
<rect x="315.00" y="321.60" width="6.20" height="0.90" fill="#fff" stroke="#000" stroke-width="1.2"/>
<rect x="325.50" y="289.50" width="7.50" height="33.00" fill="#fff" stroke="#000" stroke-width="1.2"/>
<line x1="329.25" y1="289.50" x2="329.25" y2="277.00" stroke="#000" stroke-width="1.2"/>
<line x1="327.05" y1="277.00" x2="331.45" y2="277.00" stroke="#000" stroke-width="1.2"/>
<line x1="302.00" y1="248.75" x2="325.50" y2="248.75" stroke="#000" stroke-width="1.5"/>
<text x="313.75" y="247.55" font-size="12" font-weight="bold" text-anchor="middle" fill="#000">**</text>
<text x="311.00" y="233.70" font-size="13" font-weight="bold" text-anchor="middle" fill="#000">IL-6</text>
<text x="0" y="0" font-size="13" font-weight="bold" text-anchor="middle" transform="translate(256.00 280.00) rotate(-90)">[pg/ml]x10<tspan dy="-4" font-size="8.5">4</tspan></text>
<text x="290.00" y="334.50" font-size="12" font-weight="bold" text-anchor="middle" fill="#000">-</text>
<line x1="290.00" y1="322.50" x2="290.00" y2="325.50" stroke="#000" stroke-width="1.2"/>
<text x="299.50" y="334.50" font-size="12" font-weight="bold" text-anchor="middle" fill="#000">+</text>
<line x1="299.50" y1="322.50" x2="299.50" y2="325.50" stroke="#000" stroke-width="1.2"/>
<text x="318.80" y="334.50" font-size="12" font-weight="bold" text-anchor="middle" fill="#000">-</text>
<line x1="318.80" y1="322.50" x2="318.80" y2="325.50" stroke="#000" stroke-width="1.2"/>
<text x="330.50" y="334.50" font-size="12" font-weight="bold" text-anchor="middle" fill="#000">+</text>
<line x1="330.50" y1="322.50" x2="330.50" y2="325.50" stroke="#000" stroke-width="1.2"/>
<text x="22.30" y="335.80" font-size="13.3" font-weight="bold" text-anchor="start" fill="#000">CpG</text>
<rect x="105.50" y="345.20" width="19.00" height="17.50" fill="#000" stroke="#000" stroke-width="0.8"/>
<text x="129.00" y="359.00" font-size="13" font-weight="bold" text-anchor="start" fill="#000">Medium</text>
<rect x="183.30" y="345.50" width="17.70" height="17.00" fill="#fff" stroke="#000" stroke-width="1.2"/>
<text x="205.50" y="359.00" font-size="13" font-weight="bold" text-anchor="start" fill="#000">IEC-SN</text>
<text x="7.50" y="393.00" font-size="17.5" font-weight="bold" text-anchor="start" fill="#000">C</text>
<g clip-path="url(#cclip)">
<path d="M78,467 L78,436 C81,430 85,424 90,420.5 C93,419.5 96,424 100,431 C104,436 111,437 117,439 C121,441 123,446 124,452 L125,467Z" fill="#000" fill-opacity="0.28" filter="url(#b25)"/>
<path d="M78,467 L78,440 C82,435 85,431 87.5,429 C89.5,427 91,426.3 92.5,426.3 C95,427 97,430 98.5,433 C100,437 104,441.5 108.3,443.8 C110,445 112,446 113,448 C114,451 114,458 112.5,462 L111,467Z" fill="#000" fill-opacity="0.85" filter="url(#b15)"/>
<path d="M78,467 L78,445 C82,441 87,437 91,435 C94,435 97,438 99,440.6 C102,444 106,447 108.5,449.8 C110.5,452 111.5,456 111,460 L110,467Z" fill="#000" filter="url(#b10)"/>
<ellipse cx="119.6" cy="451" rx="3.3" ry="8" fill="#000" fill-opacity="0.55" filter="url(#b15)"/>
<path d="M103.1 445.5h0.8v0.8h-0.8zM93.2 445.8h0.8v0.8h-0.8zM90.5 429.0h0.8v0.8h-0.8zM89.2 437.1h0.8v0.8h-0.8zM95.4 441.3h0.8v0.8h-0.8zM83.1 447.2h0.8v0.8h-0.8zM87.0 434.2h0.8v0.8h-0.8zM91.5 429.5h0.8v0.8h-0.8zM86.3 449.0h0.8v0.8h-0.8zM90.8 449.9h0.8v0.8h-0.8zM85.9 443.3h0.8v0.8h-0.8zM112.0 434.5h0.8v0.8h-0.8zM105.3 443.7h0.8v0.8h-0.8zM96.5 441.0h0.8v0.8h-0.8zM91.5 447.5h0.8v0.8h-0.8zM113.9 428.8h0.8v0.8h-0.8zM95.2 441.0h0.8v0.8h-0.8zM91.1 438.6h0.8v0.8h-0.8zM95.0 430.0h0.8v0.8h-0.8zM95.1 441.9h0.8v0.8h-0.8zM106.1 440.3h0.8v0.8h-0.8zM91.8 436.3h0.8v0.8h-0.8zM113.0 443.6h0.8v0.8h-0.8zM83.2 427.2h0.8v0.8h-0.8zM98.9 439.5h0.8v0.8h-0.8zM82.0 443.9h0.8v0.8h-0.8zM110.2 442.6h0.8v0.8h-0.8zM88.7 449.7h0.8v0.8h-0.8zM91.4 429.2h0.8v0.8h-0.8zM101.2 426.4h0.8v0.8h-0.8zM104.6 442.2h0.8v0.8h-0.8zM80.9 444.1h0.8v0.8h-0.8zM88.5 459.1h0.8v0.8h-0.8zM78.1 445.5h0.8v0.8h-0.8zM93.4 432.1h0.8v0.8h-0.8zM91.0 447.3h0.8v0.8h-0.8zM88.5 432.4h0.8v0.8h-0.8zM85.2 426.6h0.8v0.8h-0.8zM88.1 463.5h0.8v0.8h-0.8zM84.5 442.9h0.8v0.8h-0.8zM97.3 446.4h0.8v0.8h-0.8zM107.2 445.1h0.8v0.8h-0.8zM90.8 442.6h0.8v0.8h-0.8zM87.8 451.0h0.8v0.8h-0.8zM96.9 430.8h0.8v0.8h-0.8zM82.5 427.5h0.8v0.8h-0.8zM90.5 452.8h0.8v0.8h-0.8zM81.6 453.3h0.8v0.8h-0.8zM99.0 444.6h0.8v0.8h-0.8zM93.0 442.0h0.8v0.8h-0.8zM90.4 441.5h0.8v0.8h-0.8zM95.7 433.8h0.8v0.8h-0.8zM89.5 453.8h0.8v0.8h-0.8zM98.0 444.6h0.8v0.8h-0.8zM94.9 443.4h0.8v0.8h-0.8zM90.5 449.4h0.8v0.8h-0.8zM101.8 444.5h0.8v0.8h-0.8zM104.2 446.7h0.8v0.8h-0.8zM81.1 429.5h0.8v0.8h-0.8zM84.2 444.6h0.8v0.8h-0.8zM107.5 459.7h0.8v0.8h-0.8zM106.2 435.3h0.8v0.8h-0.8zM84.6 438.8h0.8v0.8h-0.8zM80.2 448.0h0.8v0.8h-0.8zM85.6 448.6h0.8v0.8h-0.8zM87.0 445.6h0.8v0.8h-0.8zM92.3 444.5h0.8v0.8h-0.8zM79.2 429.3h0.8v0.8h-0.8zM79.9 432.6h0.8v0.8h-0.8zM101.2 444.9h0.8v0.8h-0.8zM85.2 437.3h0.8v0.8h-0.8zM91.3 447.3h0.8v0.8h-0.8zM100.1 447.0h0.8v0.8h-0.8zM88.6 446.5h0.8v0.8h-0.8zM92.4 431.9h0.8v0.8h-0.8zM83.7 434.2h0.8v0.8h-0.8zM109.5 430.4h0.8v0.8h-0.8zM98.5 435.2h0.8v0.8h-0.8zM81.0 430.2h0.8v0.8h-0.8zM92.0 434.1h0.8v0.8h-0.8zM99.1 438.1h0.8v0.8h-0.8zM96.8 431.0h0.8v0.8h-0.8zM110.3 427.2h0.8v0.8h-0.8zM105.7 427.7h0.8v0.8h-0.8zM86.6 444.1h0.8v0.8h-0.8zM91.1 440.5h0.8v0.8h-0.8zM79.2 449.2h0.8v0.8h-0.8zM94.5 449.4h0.8v0.8h-0.8zM93.5 436.9h0.8v0.8h-0.8zM119.0 446.0h0.8v0.8h-0.8zM93.0 427.0h0.8v0.8h-0.8zM85.3 450.8h0.8v0.8h-0.8zM93.1 438.1h0.8v0.8h-0.8zM79.4 429.5h0.8v0.8h-0.8zM83.3 443.4h0.8v0.8h-0.8zM88.3 423.2h0.8v0.8h-0.8zM95.4 433.0h0.8v0.8h-0.8zM90.3 446.7h0.8v0.8h-0.8zM83.1 440.7h0.8v0.8h-0.8zM99.9 435.6h0.8v0.8h-0.8zM86.6 448.6h0.8v0.8h-0.8zM87.0 430.7h0.8v0.8h-0.8zM78.2 442.6h0.8v0.8h-0.8zM84.1 435.5h0.8v0.8h-0.8zM98.5 432.4h0.8v0.8h-0.8zM91.3 431.1h0.8v0.8h-0.8zM99.2 457.1h0.8v0.8h-0.8zM88.2 434.7h0.8v0.8h-0.8zM94.4 457.9h0.8v0.8h-0.8zM80.8 430.2h0.8v0.8h-0.8zM105.1 445.5h0.8v0.8h-0.8zM103.0 429.2h0.8v0.8h-0.8zM94.4 427.9h0.8v0.8h-0.8zM81.5 446.1h0.8v0.8h-0.8zM101.8 428.5h0.8v0.8h-0.8zM109.1 450.7h0.8v0.8h-0.8zM95.0 432.8h0.8v0.8h-0.8zM104.5 441.2h0.8v0.8h-0.8zM85.9 443.4h0.8v0.8h-0.8zM90.1 445.4h0.8v0.8h-0.8zM92.0 423.8h0.8v0.8h-0.8zM96.2 454.6h0.8v0.8h-0.8zM101.4 436.2h0.8v0.8h-0.8zM105.2 430.8h0.8v0.8h-0.8zM80.5 424.8h0.8v0.8h-0.8zM78.4 427.7h0.8v0.8h-0.8zM95.5 444.9h0.8v0.8h-0.8zM85.5 436.9h0.8v0.8h-0.8zM100.1 435.3h0.8v0.8h-0.8zM93.6 454.1h0.8v0.8h-0.8zM87.2 437.0h0.8v0.8h-0.8zM113.1 434.7h0.8v0.8h-0.8zM93.4 452.2h0.8v0.8h-0.8zM84.5 444.2h0.8v0.8h-0.8zM93.0 440.4h0.8v0.8h-0.8zM81.6 434.5h0.8v0.8h-0.8zM84.4 426.0h0.8v0.8h-0.8zM95.9 429.5h0.8v0.8h-0.8zM86.5 435.7h0.8v0.8h-0.8zM87.5 438.0h0.8v0.8h-0.8zM108.7 443.2h0.8v0.8h-0.8zM100.6 445.0h0.8v0.8h-0.8zM100.0 442.0h0.8v0.8h-0.8zM97.3 442.0h0.8v0.8h-0.8zM96.8 430.9h0.8v0.8h-0.8zM106.6 420.6h0.8v0.8h-0.8zM91.8 435.3h0.8v0.8h-0.8zM110.6 431.4h0.8v0.8h-0.8zM82.5 434.1h0.8v0.8h-0.8zM89.4 437.5h0.8v0.8h-0.8zM78.2 428.8h0.8v0.8h-0.8zM88.6 430.0h0.8v0.8h-0.8zM97.2 439.1h0.8v0.8h-0.8zM106.5 441.0h0.8v0.8h-0.8zM85.4 434.1h0.8v0.8h-0.8zM92.1 444.5h0.8v0.8h-0.8zM88.4 438.0h0.8v0.8h-0.8zM84.6 430.8h0.8v0.8h-0.8zM80.1 440.4h0.8v0.8h-0.8zM92.6 456.9h0.8v0.8h-0.8zM93.1 450.5h0.8v0.8h-0.8zM92.2 452.4h0.8v0.8h-0.8zM85.4 453.5h0.8v0.8h-0.8zM81.9 432.6h0.8v0.8h-0.8zM78.2 458.1h0.8v0.8h-0.8zM110.7 441.0h0.8v0.8h-0.8zM78.6 437.7h0.8v0.8h-0.8zM107.6 437.9h0.8v0.8h-0.8zM98.0 445.4h0.8v0.8h-0.8zM88.4 440.5h0.8v0.8h-0.8zM80.4 438.4h0.8v0.8h-0.8zM102.4 451.6h0.8v0.8h-0.8zM109.3 433.5h0.8v0.8h-0.8zM82.7 430.6h0.8v0.8h-0.8zM89.0 447.1h0.8v0.8h-0.8zM102.5 446.3h0.8v0.8h-0.8zM95.4 449.8h0.8v0.8h-0.8zM112.0 430.4h0.8v0.8h-0.8zM86.3 449.7h0.8v0.8h-0.8zM97.4 444.3h0.8v0.8h-0.8zM79.5 455.9h0.8v0.8h-0.8zM113.0 428.8h0.8v0.8h-0.8zM84.7 442.0h0.8v0.8h-0.8zM90.7 425.7h0.8v0.8h-0.8zM90.6 433.6h0.8v0.8h-0.8zM111.2 450.1h0.8v0.8h-0.8zM88.6 435.8h0.8v0.8h-0.8zM91.9 433.5h0.8v0.8h-0.8zM97.9 447.8h0.8v0.8h-0.8zM107.9 448.9h0.8v0.8h-0.8zM91.4 448.9h0.8v0.8h-0.8zM102.4 432.9h0.8v0.8h-0.8zM97.2 439.5h0.8v0.8h-0.8zM89.0 449.3h0.8v0.8h-0.8zM92.8 434.1h0.8v0.8h-0.8zM92.3 433.3h0.8v0.8h-0.8zM82.8 447.5h0.8v0.8h-0.8zM104.1 454.1h0.8v0.8h-0.8zM78.1 429.6h0.8v0.8h-0.8zM103.7 416.6h0.8v0.8h-0.8zM101.5 426.9h0.8v0.8h-0.8zM91.1 430.9h0.8v0.8h-0.8zM84.3 438.8h0.8v0.8h-0.8zM89.7 445.5h0.8v0.8h-0.8zM96.7 438.7h0.8v0.8h-0.8zM99.4 433.7h0.8v0.8h-0.8zM94.9 441.4h0.8v0.8h-0.8zM101.9 431.3h0.8v0.8h-0.8zM86.4 439.6h0.8v0.8h-0.8zM94.3 434.2h0.8v0.8h-0.8zM99.6 447.4h0.8v0.8h-0.8zM93.5 432.5h0.8v0.8h-0.8zM87.8 431.0h0.8v0.8h-0.8zM103.6 436.1h0.8v0.8h-0.8zM98.9 425.2h0.8v0.8h-0.8zM92.4 433.4h0.8v0.8h-0.8zM102.7 436.2h0.8v0.8h-0.8zM116.9 432.9h0.8v0.8h-0.8zM86.8 427.9h0.8v0.8h-0.8zM92.7 429.4h0.8v0.8h-0.8zM89.5 439.4h0.8v0.8h-0.8zM95.5 438.1h0.8v0.8h-0.8zM98.4 450.2h0.8v0.8h-0.8zM104.9 434.3h0.8v0.8h-0.8zM82.1 449.5h0.8v0.8h-0.8zM107.7 442.3h0.8v0.8h-0.8zM82.7 440.0h0.8v0.8h-0.8zM94.8 421.9h0.8v0.8h-0.8zM103.6 428.4h0.8v0.8h-0.8zM99.1 446.7h0.8v0.8h-0.8zM82.6 452.6h0.8v0.8h-0.8zM85.0 441.9h0.8v0.8h-0.8zM87.4 446.9h0.8v0.8h-0.8zM91.5 436.3h0.8v0.8h-0.8zM103.5 436.7h0.8v0.8h-0.8zM79.1 434.0h0.8v0.8h-0.8zM96.7 448.8h0.8v0.8h-0.8zM98.1 443.1h0.8v0.8h-0.8zM97.6 437.9h0.8v0.8h-0.8zM96.7 437.0h0.8v0.8h-0.8zM107.2 445.0h0.8v0.8h-0.8zM96.9 442.9h0.8v0.8h-0.8zM100.6 432.5h0.8v0.8h-0.8zM97.6 455.4h0.8v0.8h-0.8zM109.9 442.3h0.8v0.8h-0.8zM104.8 453.3h0.8v0.8h-0.8zM89.4 449.2h0.8v0.8h-0.8zM89.2 439.2h0.8v0.8h-0.8zM82.3 444.8h0.8v0.8h-0.8zM88.2 434.2h0.8v0.8h-0.8zM85.1 419.7h0.8v0.8h-0.8zM96.9 451.0h0.8v0.8h-0.8zM106.3 446.1h0.8v0.8h-0.8zM94.7 432.5h0.8v0.8h-0.8zM89.5 431.2h0.8v0.8h-0.8zM84.9 438.2h0.8v0.8h-0.8zM84.1 442.4h0.8v0.8h-0.8zM80.7 445.5h0.8v0.8h-0.8zM86.6 455.9h0.8v0.8h-0.8zM92.1 443.2h0.8v0.8h-0.8zM90.2 447.9h0.8v0.8h-0.8zM89.3 446.4h0.8v0.8h-0.8zM83.1 441.4h0.8v0.8h-0.8zM93.6 435.8h0.8v0.8h-0.8zM110.6 439.1h0.8v0.8h-0.8zM98.3 439.4h0.8v0.8h-0.8zM88.9 441.7h0.8v0.8h-0.8zM99.3 446.7h0.8v0.8h-0.8zM84.3 424.7h0.8v0.8h-0.8zM92.6 434.4h0.8v0.8h-0.8zM85.8 454.0h0.8v0.8h-0.8zM92.9 415.6h0.8v0.8h-0.8zM106.0 433.8h0.8v0.8h-0.8zM85.2 446.2h0.8v0.8h-0.8zM88.6 425.1h0.8v0.8h-0.8zM83.9 463.4h0.8v0.8h-0.8zM100.7 416.7h0.8v0.8h-0.8zM81.7 452.9h0.8v0.8h-0.8zM80.7 454.0h0.8v0.8h-0.8zM78.1 448.2h0.8v0.8h-0.8zM96.7 443.2h0.8v0.8h-0.8zM117.7 431.9h0.8v0.8h-0.8zM82.0 447.3h0.8v0.8h-0.8zM101.5 429.9h0.8v0.8h-0.8zM94.5 437.5h0.8v0.8h-0.8zM81.0 449.0h0.8v0.8h-0.8zM89.2 430.0h0.8v0.8h-0.8zM89.7 436.7h0.8v0.8h-0.8zM85.1 441.5h0.8v0.8h-0.8zM111.3 427.9h0.8v0.8h-0.8zM95.8 443.1h0.8v0.8h-0.8zM95.3 426.4h0.8v0.8h-0.8zM86.2 439.6h0.8v0.8h-0.8zM93.5 433.0h0.8v0.8h-0.8zM100.8 434.1h0.8v0.8h-0.8zM93.5 440.7h0.8v0.8h-0.8zM96.2 433.6h0.8v0.8h-0.8zM98.9 448.7h0.8v0.8h-0.8zM106.8 448.8h0.8v0.8h-0.8zM114.8 439.6h0.8v0.8h-0.8zM101.8 447.7h0.8v0.8h-0.8zM102.1 435.1h0.8v0.8h-0.8zM90.8 429.6h0.8v0.8h-0.8zM83.9 445.2h0.8v0.8h-0.8zM86.1 448.4h0.8v0.8h-0.8zM101.7 459.1h0.8v0.8h-0.8zM84.0 451.6h0.8v0.8h-0.8zM90.7 442.2h0.8v0.8h-0.8zM90.4 443.5h0.8v0.8h-0.8zM92.9 439.8h0.8v0.8h-0.8zM85.0 453.2h0.8v0.8h-0.8zM84.8 448.5h0.8v0.8h-0.8zM110.9 432.5h0.8v0.8h-0.8zM79.9 433.8h0.8v0.8h-0.8zM81.5 452.3h0.8v0.8h-0.8zM83.9 442.8h0.8v0.8h-0.8zM104.0 437.9h0.8v0.8h-0.8zM113.0 450.7h0.8v0.8h-0.8zM95.3 436.5h0.8v0.8h-0.8zM84.8 437.5h0.8v0.8h-0.8zM87.7 435.8h0.8v0.8h-0.8zM102.6 422.3h0.8v0.8h-0.8zM82.9 447.8h0.8v0.8h-0.8zM106.5 429.1h0.8v0.8h-0.8zM106.2 434.9h0.8v0.8h-0.8zM92.7 433.3h0.8v0.8h-0.8zM98.5 446.5h0.8v0.8h-0.8zM99.5 439.4h0.8v0.8h-0.8zM107.5 440.1h0.8v0.8h-0.8zM81.5 424.9h0.8v0.8h-0.8zM103.8 439.2h0.8v0.8h-0.8zM88.2 426.7h0.8v0.8h-0.8zM84.3 442.8h0.8v0.8h-0.8zM93.0 443.3h0.8v0.8h-0.8zM89.9 439.8h0.8v0.8h-0.8zM82.1 458.4h0.8v0.8h-0.8zM82.6 445.4h0.8v0.8h-0.8zM106.5 441.3h0.8v0.8h-0.8zM111.6 438.3h0.8v0.8h-0.8zM98.5 448.7h0.8v0.8h-0.8zM103.9 449.9h0.8v0.8h-0.8zM86.8 428.3h0.8v0.8h-0.8zM91.2 449.5h0.8v0.8h-0.8zM94.8 444.6h0.8v0.8h-0.8zM81.2 448.6h0.8v0.8h-0.8zM82.1 444.2h0.8v0.8h-0.8zM93.0 428.8h0.8v0.8h-0.8zM88.8 429.4h0.8v0.8h-0.8zM81.4 456.4h0.8v0.8h-0.8zM95.9 442.3h0.8v0.8h-0.8zM89.4 427.2h0.8v0.8h-0.8zM102.2 443.1h0.8v0.8h-0.8zM91.9 436.7h0.8v0.8h-0.8zM89.0 423.4h0.8v0.8h-0.8zM93.3 419.4h0.8v0.8h-0.8zM90.3 425.6h0.8v0.8h-0.8zM85.3 442.4h0.8v0.8h-0.8zM88.0 439.6h0.8v0.8h-0.8zM99.5 437.8h0.8v0.8h-0.8zM98.5 442.6h0.8v0.8h-0.8zM104.9 445.4h0.8v0.8h-0.8zM88.1 437.3h0.8v0.8h-0.8zM87.9 432.5h0.8v0.8h-0.8zM93.7 428.9h0.8v0.8h-0.8zM87.5 435.1h0.8v0.8h-0.8zM86.9 438.9h0.8v0.8h-0.8zM99.8 437.6h0.8v0.8h-0.8zM93.8 426.9h0.8v0.8h-0.8zM80.3 435.7h0.8v0.8h-0.8zM105.3 458.1h0.8v0.8h-0.8zM102.0 430.5h0.8v0.8h-0.8zM86.3 424.8h0.8v0.8h-0.8zM100.3 442.5h0.8v0.8h-0.8zM84.6 445.4h0.8v0.8h-0.8zM103.3 444.2h0.8v0.8h-0.8zM89.8 429.9h0.8v0.8h-0.8zM84.0 449.0h0.8v0.8h-0.8zM88.3 432.9h0.8v0.8h-0.8zM84.3 429.8h0.8v0.8h-0.8zM93.9 434.5h0.8v0.8h-0.8zM93.8 439.0h0.8v0.8h-0.8zM92.4 446.4h0.8v0.8h-0.8zM86.4 445.6h0.8v0.8h-0.8zM92.9 448.4h0.8v0.8h-0.8zM94.4 448.1h0.8v0.8h-0.8zM103.3 427.4h0.8v0.8h-0.8zM94.7 425.8h0.8v0.8h-0.8zM88.1 447.0h0.8v0.8h-0.8zM90.2 427.5h0.8v0.8h-0.8zM90.7 437.3h0.8v0.8h-0.8zM86.5 439.1h0.8v0.8h-0.8zM86.2 435.6h0.8v0.8h-0.8zM82.8 435.9h0.8v0.8h-0.8zM103.9 452.5h0.8v0.8h-0.8zM91.8 417.2h0.8v0.8h-0.8zM101.6 448.0h0.8v0.8h-0.8zM89.5 460.7h0.8v0.8h-0.8zM92.7 440.2h0.8v0.8h-0.8zM90.3 439.8h0.8v0.8h-0.8zM96.6 446.5h0.8v0.8h-0.8zM100.3 456.5h0.8v0.8h-0.8zM94.4 429.3h0.8v0.8h-0.8zM85.3 440.8h0.8v0.8h-0.8zM84.2 438.3h0.8v0.8h-0.8zM108.6 445.0h0.8v0.8h-0.8zM89.2 441.4h0.8v0.8h-0.8zM89.1 445.9h0.8v0.8h-0.8zM106.7 436.2h0.8v0.8h-0.8zM102.9 440.4h0.8v0.8h-0.8zM97.3 434.0h0.8v0.8h-0.8zM88.0 434.0h0.8v0.8h-0.8zM115.5 438.7h0.8v0.8h-0.8zM95.9 438.7h0.8v0.8h-0.8zM97.5 429.4h0.8v0.8h-0.8zM90.3 454.1h0.8v0.8h-0.8zM78.7 427.5h0.8v0.8h-0.8zM96.1 449.9h0.8v0.8h-0.8zM95.9 433.3h0.8v0.8h-0.8zM89.6 444.6h0.8v0.8h-0.8zM80.3 439.8h0.8v0.8h-0.8zM88.7 441.5h0.8v0.8h-0.8zM101.0 440.4h0.8v0.8h-0.8zM103.5 458.3h0.8v0.8h-0.8zM120.3 419.9h0.8v0.8h-0.8zM100.8 440.6h0.8v0.8h-0.8zM86.1 443.9h0.8v0.8h-0.8zM83.3 430.5h0.8v0.8h-0.8zM86.1 459.4h0.8v0.8h-0.8zM90.2 436.7h0.8v0.8h-0.8zM101.7 458.7h0.8v0.8h-0.8zM98.1 444.8h0.8v0.8h-0.8zM97.9 440.7h0.8v0.8h-0.8zM94.1 444.3h0.8v0.8h-0.8zM98.6 445.7h0.8v0.8h-0.8zM106.5 450.6h0.8v0.8h-0.8zM81.4 443.9h0.8v0.8h-0.8zM87.4 441.3h0.8v0.8h-0.8zM78.1 441.6h0.8v0.8h-0.8zM108.2 452.2h0.8v0.8h-0.8zM105.0 447.4h0.8v0.8h-0.8zM99.5 431.0h0.8v0.8h-0.8zM80.0 434.3h0.8v0.8h-0.8zM93.7 443.0h0.8v0.8h-0.8zM89.7 434.4h0.8v0.8h-0.8zM92.8 436.6h0.8v0.8h-0.8zM90.1 431.4h0.8v0.8h-0.8zM97.2 437.6h0.8v0.8h-0.8zM88.1 443.8h0.8v0.8h-0.8zM100.5 449.0h0.8v0.8h-0.8zM94.4 440.1h0.8v0.8h-0.8zM89.1 458.7h0.8v0.8h-0.8zM90.9 439.3h0.8v0.8h-0.8zM100.1 449.0h0.8v0.8h-0.8zM89.3 444.5h0.8v0.8h-0.8zM94.9 435.5h0.8v0.8h-0.8zM88.1 414.6h0.8v0.8h-0.8zM101.1 441.6h0.8v0.8h-0.8zM81.4 457.3h0.8v0.8h-0.8zM98.8 427.6h0.8v0.8h-0.8zM96.2 457.2h0.8v0.8h-0.8zM82.6 446.5h0.8v0.8h-0.8zM86.9 417.1h0.8v0.8h-0.8zM83.8 441.3h0.8v0.8h-0.8zM80.2 436.9h0.8v0.8h-0.8zM99.4 446.1h0.8v0.8h-0.8zM89.6 440.8h0.8v0.8h-0.8zM95.9 429.7h0.8v0.8h-0.8zM87.7 448.5h0.8v0.8h-0.8zM95.1 446.3h0.8v0.8h-0.8zM84.5 445.4h0.8v0.8h-0.8zM91.7 449.1h0.8v0.8h-0.8zM97.8 449.9h0.8v0.8h-0.8zM92.5 439.8h0.8v0.8h-0.8zM87.4 427.8h0.8v0.8h-0.8zM81.1 427.5h0.8v0.8h-0.8zM93.7 452.1h0.8v0.8h-0.8zM95.4 446.4h0.8v0.8h-0.8zM89.4 440.9h0.8v0.8h-0.8zM84.3 436.1h0.8v0.8h-0.8zM97.4 440.3h0.8v0.8h-0.8zM116.8 440.2h0.8v0.8h-0.8zM89.0 437.0h0.8v0.8h-0.8zM95.4 433.7h0.8v0.8h-0.8zM95.8 459.5h0.8v0.8h-0.8zM93.2 434.5h0.8v0.8h-0.8zM84.9 428.3h0.8v0.8h-0.8zM105.8 433.5h0.8v0.8h-0.8zM89.5 446.5h0.8v0.8h-0.8zM84.2 446.8h0.8v0.8h-0.8zM89.8 438.0h0.8v0.8h-0.8zM93.7 440.5h0.8v0.8h-0.8zM86.4 437.3h0.8v0.8h-0.8zM91.5 430.0h0.8v0.8h-0.8zM78.5 451.7h0.8v0.8h-0.8zM89.7 443.4h0.8v0.8h-0.8zM99.8 462.3h0.8v0.8h-0.8zM111.7 433.2h0.8v0.8h-0.8zM99.1 438.8h0.8v0.8h-0.8zM94.7 447.9h0.8v0.8h-0.8zM103.8 437.8h0.8v0.8h-0.8zM102.2 427.5h0.8v0.8h-0.8zM108.6 431.5h0.8v0.8h-0.8zM102.8 440.9h0.8v0.8h-0.8zM90.8 443.1h0.8v0.8h-0.8zM94.6 439.1h0.8v0.8h-0.8zM93.8 449.0h0.8v0.8h-0.8zM95.0 448.9h0.8v0.8h-0.8zM94.0 442.9h0.8v0.8h-0.8zM84.2 440.2h0.8v0.8h-0.8zM85.3 445.0h0.8v0.8h-0.8zM92.7 440.5h0.8v0.8h-0.8zM92.0 444.0h0.8v0.8h-0.8zM98.9 427.3h0.8v0.8h-0.8zM100.7 431.0h0.8v0.8h-0.8zM93.0 446.9h0.8v0.8h-0.8zM108.7 444.0h0.8v0.8h-0.8zM110.7 454.3h0.8v0.8h-0.8zM79.9 440.5h0.8v0.8h-0.8zM102.4 447.8h0.8v0.8h-0.8zM96.4 451.9h0.8v0.8h-0.8zM96.2 449.0h0.8v0.8h-0.8zM101.3 434.5h0.8v0.8h-0.8zM84.8 438.3h0.8v0.8h-0.8zM86.1 441.2h0.8v0.8h-0.8zM83.7 431.1h0.8v0.8h-0.8zM84.5 444.3h0.8v0.8h-0.8zM91.0 449.2h0.8v0.8h-0.8zM81.5 457.8h0.8v0.8h-0.8zM97.8 437.4h0.8v0.8h-0.8zM91.3 438.2h0.8v0.8h-0.8zM95.8 437.9h0.8v0.8h-0.8zM84.2 443.8h0.8v0.8h-0.8zM86.4 440.2h0.8v0.8h-0.8zM92.3 455.0h0.8v0.8h-0.8zM86.1 445.5h0.8v0.8h-0.8zM101.3 444.8h0.8v0.8h-0.8zM91.4 438.0h0.8v0.8h-0.8zM92.2 427.3h0.8v0.8h-0.8zM92.1 439.2h0.8v0.8h-0.8zM99.1 432.3h0.8v0.8h-0.8zM87.3 448.6h0.8v0.8h-0.8zM103.2 439.7h0.8v0.8h-0.8zM96.6 455.0h0.8v0.8h-0.8zM93.5 446.6h0.8v0.8h-0.8zM92.4 447.5h0.8v0.8h-0.8zM97.2 442.1h0.8v0.8h-0.8zM102.2 441.9h0.8v0.8h-0.8zM101.5 445.9h0.8v0.8h-0.8zM95.8 448.3h0.8v0.8h-0.8zM100.8 433.6h0.8v0.8h-0.8zM93.2 444.4h0.8v0.8h-0.8zM104.5 463.6h0.8v0.8h-0.8zM91.7 439.2h0.8v0.8h-0.8zM105.4 433.8h0.8v0.8h-0.8zM93.1 427.0h0.8v0.8h-0.8zM80.3 450.7h0.8v0.8h-0.8zM90.0 440.5h0.8v0.8h-0.8zM83.2 442.7h0.8v0.8h-0.8zM113.0 456.6h0.8v0.8h-0.8zM97.0 462.6h0.8v0.8h-0.8zM97.5 449.5h0.8v0.8h-0.8zM88.0 445.6h0.8v0.8h-0.8zM111.2 443.6h0.8v0.8h-0.8zM81.5 444.3h0.8v0.8h-0.8zM92.7 454.3h0.8v0.8h-0.8zM88.5 445.5h0.8v0.8h-0.8zM87.8 443.1h0.8v0.8h-0.8zM96.3 448.1h0.8v0.8h-0.8zM108.7 444.2h0.8v0.8h-0.8zM103.7 455.8h0.8v0.8h-0.8zM86.3 444.6h0.8v0.8h-0.8zM115.5 439.2h0.8v0.8h-0.8zM96.4 432.3h0.8v0.8h-0.8zM90.1 436.9h0.8v0.8h-0.8zM103.1 430.6h0.8v0.8h-0.8zM97.3 441.0h0.8v0.8h-0.8zM86.1 442.3h0.8v0.8h-0.8zM99.1 421.6h0.8v0.8h-0.8zM86.9 440.2h0.8v0.8h-0.8zM112.3 441.5h0.8v0.8h-0.8zM88.5 431.4h0.8v0.8h-0.8zM85.9 451.4h0.8v0.8h-0.8zM95.4 433.8h0.8v0.8h-0.8zM78.5 430.3h0.8v0.8h-0.8zM87.0 439.9h0.8v0.8h-0.8zM86.8 448.9h0.8v0.8h-0.8zM92.7 450.5h0.8v0.8h-0.8zM103.2 441.9h0.8v0.8h-0.8zM87.3 429.3h0.8v0.8h-0.8zM96.9 434.1h0.8v0.8h-0.8zM98.0 431.9h0.8v0.8h-0.8zM81.2 438.4h0.8v0.8h-0.8zM94.3 424.0h0.8v0.8h-0.8zM82.6 441.0h0.8v0.8h-0.8zM102.6 445.8h0.8v0.8h-0.8zM96.6 438.7h0.8v0.8h-0.8zM92.2 444.2h0.8v0.8h-0.8zM78.6 431.6h0.8v0.8h-0.8zM93.2 426.9h0.8v0.8h-0.8zM84.3 434.3h0.8v0.8h-0.8zM99.1 450.4h0.8v0.8h-0.8zM90.8 449.3h0.8v0.8h-0.8zM83.9 435.9h0.8v0.8h-0.8zM101.3 450.8h0.8v0.8h-0.8zM99.2 437.1h0.8v0.8h-0.8zM86.1 453.6h0.8v0.8h-0.8zM103.6 444.4h0.8v0.8h-0.8zM89.0 435.9h0.8v0.8h-0.8zM88.9 447.2h0.8v0.8h-0.8zM93.2 433.0h0.8v0.8h-0.8zM84.5 431.6h0.8v0.8h-0.8zM87.6 426.9h0.8v0.8h-0.8zM90.4 442.3h0.8v0.8h-0.8zM107.3 439.5h0.8v0.8h-0.8zM107.0 439.3h0.8v0.8h-0.8zM89.4 436.3h0.8v0.8h-0.8zM108.1 452.9h0.8v0.8h-0.8zM91.6 436.2h0.8v0.8h-0.8zM95.8 433.5h0.8v0.8h-0.8zM100.8 451.2h0.8v0.8h-0.8zM94.9 452.8h0.8v0.8h-0.8zM116.2 443.0h0.8v0.8h-0.8zM94.4 424.3h0.8v0.8h-0.8zM80.0 434.6h0.8v0.8h-0.8zM105.1 445.5h0.8v0.8h-0.8zM87.9 440.2h0.8v0.8h-0.8zM89.0 454.0h0.8v0.8h-0.8zM102.0 446.1h0.8v0.8h-0.8zM100.2 434.4h0.8v0.8h-0.8zM100.0 451.9h0.8v0.8h-0.8zM101.8 439.3h0.8v0.8h-0.8zM108.9 449.3h0.8v0.8h-0.8zM91.5 434.2h0.8v0.8h-0.8zM101.4 427.3h0.8v0.8h-0.8zM84.6 430.0h0.8v0.8h-0.8zM88.5 434.5h0.8v0.8h-0.8zM102.6 430.8h0.8v0.8h-0.8zM95.9 450.8h0.8v0.8h-0.8zM78.7 452.1h0.8v0.8h-0.8zM95.6 442.5h0.8v0.8h-0.8zM90.2 430.7h0.8v0.8h-0.8zM83.8 438.9h0.8v0.8h-0.8zM96.3 433.8h0.8v0.8h-0.8zM88.0 453.1h0.8v0.8h-0.8zM80.9 444.4h0.8v0.8h-0.8zM109.7 436.4h0.8v0.8h-0.8zM94.2 433.1h0.8v0.8h-0.8z" fill="#000" fill-opacity="0.35"/>
<path d="M98.0 429.7h0.8v0.8h-0.8zM111.3 434.8h0.8v0.8h-0.8zM108.9 442.0h0.8v0.8h-0.8zM100.8 446.5h0.8v0.8h-0.8zM104.5 434.3h0.8v0.8h-0.8zM122.1 432.6h0.8v0.8h-0.8zM99.4 446.7h0.8v0.8h-0.8zM99.7 432.7h0.8v0.8h-0.8zM105.9 450.4h0.8v0.8h-0.8zM101.7 438.3h0.8v0.8h-0.8zM104.1 432.7h0.8v0.8h-0.8zM112.8 443.9h0.8v0.8h-0.8zM123.6 448.2h0.8v0.8h-0.8zM92.0 429.4h0.8v0.8h-0.8zM107.8 447.4h0.8v0.8h-0.8zM108.4 436.3h0.8v0.8h-0.8zM107.2 446.9h0.8v0.8h-0.8zM106.3 435.7h0.8v0.8h-0.8zM104.9 428.5h0.8v0.8h-0.8zM117.0 441.0h0.8v0.8h-0.8zM103.8 443.6h0.8v0.8h-0.8zM106.9 450.6h0.8v0.8h-0.8zM108.0 448.3h0.8v0.8h-0.8zM109.0 442.2h0.8v0.8h-0.8zM106.5 436.6h0.8v0.8h-0.8zM117.0 434.9h0.8v0.8h-0.8zM107.9 436.2h0.8v0.8h-0.8zM109.6 433.0h0.8v0.8h-0.8zM107.5 436.4h0.8v0.8h-0.8zM99.0 422.7h0.8v0.8h-0.8zM100.5 439.1h0.8v0.8h-0.8zM98.5 437.8h0.8v0.8h-0.8zM109.7 453.4h0.8v0.8h-0.8zM101.6 442.6h0.8v0.8h-0.8zM98.4 435.1h0.8v0.8h-0.8zM110.1 441.4h0.8v0.8h-0.8zM112.7 430.6h0.8v0.8h-0.8zM92.2 434.4h0.8v0.8h-0.8zM123.2 426.8h0.8v0.8h-0.8zM108.3 446.6h0.8v0.8h-0.8zM107.1 441.6h0.8v0.8h-0.8zM117.6 430.9h0.8v0.8h-0.8zM108.6 437.6h0.8v0.8h-0.8zM102.6 443.7h0.8v0.8h-0.8zM127.8 441.0h0.8v0.8h-0.8zM98.3 440.3h0.8v0.8h-0.8zM107.1 432.9h0.8v0.8h-0.8zM115.6 434.2h0.8v0.8h-0.8zM98.4 438.6h0.8v0.8h-0.8zM107.1 443.5h0.8v0.8h-0.8zM111.5 433.0h0.8v0.8h-0.8zM129.6 431.3h0.8v0.8h-0.8zM100.0 444.9h0.8v0.8h-0.8zM107.6 432.4h0.8v0.8h-0.8zM113.9 444.5h0.8v0.8h-0.8zM108.7 439.5h0.8v0.8h-0.8zM97.2 443.3h0.8v0.8h-0.8zM111.7 448.5h0.8v0.8h-0.8zM109.0 442.1h0.8v0.8h-0.8zM112.0 442.7h0.8v0.8h-0.8zM118.2 432.5h0.8v0.8h-0.8zM117.1 433.8h0.8v0.8h-0.8zM111.7 441.9h0.8v0.8h-0.8zM110.8 447.2h0.8v0.8h-0.8zM98.1 446.4h0.8v0.8h-0.8zM106.8 451.9h0.8v0.8h-0.8zM110.0 439.9h0.8v0.8h-0.8zM104.4 439.2h0.8v0.8h-0.8zM108.9 444.0h0.8v0.8h-0.8zM100.6 438.1h0.8v0.8h-0.8zM121.8 437.6h0.8v0.8h-0.8zM127.4 431.7h0.8v0.8h-0.8zM104.5 443.9h0.8v0.8h-0.8zM111.6 431.6h0.8v0.8h-0.8zM105.9 441.1h0.8v0.8h-0.8zM119.4 429.5h0.8v0.8h-0.8zM111.9 444.6h0.8v0.8h-0.8zM108.7 431.8h0.8v0.8h-0.8zM106.0 443.1h0.8v0.8h-0.8zM109.1 428.5h0.8v0.8h-0.8zM99.0 435.4h0.8v0.8h-0.8zM114.1 445.1h0.8v0.8h-0.8zM101.6 433.2h0.8v0.8h-0.8zM112.8 438.4h0.8v0.8h-0.8zM109.2 435.1h0.8v0.8h-0.8zM117.9 424.1h0.8v0.8h-0.8zM107.8 439.8h0.8v0.8h-0.8zM117.2 440.6h0.8v0.8h-0.8zM99.7 431.4h0.8v0.8h-0.8zM113.5 441.4h0.8v0.8h-0.8zM106.0 433.2h0.8v0.8h-0.8zM109.7 432.0h0.8v0.8h-0.8zM108.6 438.0h0.8v0.8h-0.8zM116.4 433.9h0.8v0.8h-0.8zM89.8 451.8h0.8v0.8h-0.8zM110.9 428.7h0.8v0.8h-0.8zM94.5 442.4h0.8v0.8h-0.8zM118.9 443.9h0.8v0.8h-0.8zM90.2 426.1h0.8v0.8h-0.8zM99.0 427.6h0.8v0.8h-0.8zM92.9 441.4h0.8v0.8h-0.8zM122.8 435.1h0.8v0.8h-0.8zM96.4 440.3h0.8v0.8h-0.8zM109.0 444.8h0.8v0.8h-0.8zM103.2 435.8h0.8v0.8h-0.8zM91.8 431.6h0.8v0.8h-0.8zM105.0 421.6h0.8v0.8h-0.8zM114.0 439.2h0.8v0.8h-0.8zM106.3 432.4h0.8v0.8h-0.8zM116.5 439.9h0.8v0.8h-0.8zM104.7 439.4h0.8v0.8h-0.8zM108.1 429.7h0.8v0.8h-0.8zM104.5 448.3h0.8v0.8h-0.8zM111.1 444.5h0.8v0.8h-0.8zM125.1 443.1h0.8v0.8h-0.8zM111.3 430.9h0.8v0.8h-0.8zM109.7 435.6h0.8v0.8h-0.8zM102.4 434.7h0.8v0.8h-0.8zM101.2 435.5h0.8v0.8h-0.8zM121.2 431.3h0.8v0.8h-0.8zM98.0 440.6h0.8v0.8h-0.8zM99.8 439.4h0.8v0.8h-0.8zM107.1 440.2h0.8v0.8h-0.8zM104.2 435.0h0.8v0.8h-0.8zM125.6 445.7h0.8v0.8h-0.8zM86.7 439.1h0.8v0.8h-0.8zM111.3 421.6h0.8v0.8h-0.8zM114.4 434.2h0.8v0.8h-0.8zM97.9 437.7h0.8v0.8h-0.8zM102.2 443.8h0.8v0.8h-0.8zM111.9 436.2h0.8v0.8h-0.8zM122.7 436.5h0.8v0.8h-0.8zM99.7 434.0h0.8v0.8h-0.8zM93.8 442.0h0.8v0.8h-0.8zM116.8 435.3h0.8v0.8h-0.8zM121.7 434.4h0.8v0.8h-0.8zM105.0 433.5h0.8v0.8h-0.8zM88.1 441.3h0.8v0.8h-0.8zM121.1 434.8h0.8v0.8h-0.8zM106.2 427.9h0.8v0.8h-0.8zM118.1 441.7h0.8v0.8h-0.8zM107.6 433.8h0.8v0.8h-0.8zM104.6 440.1h0.8v0.8h-0.8zM103.9 440.2h0.8v0.8h-0.8zM121.3 445.2h0.8v0.8h-0.8zM120.9 444.3h0.8v0.8h-0.8zM88.8 434.5h0.8v0.8h-0.8zM99.6 437.0h0.8v0.8h-0.8zM124.0 430.3h0.8v0.8h-0.8zM104.7 448.1h0.8v0.8h-0.8zM95.8 440.6h0.8v0.8h-0.8zM108.0 446.4h0.8v0.8h-0.8zM107.0 436.1h0.8v0.8h-0.8zM107.1 425.7h0.8v0.8h-0.8zM103.7 447.2h0.8v0.8h-0.8zM105.2 438.6h0.8v0.8h-0.8zM103.9 438.8h0.8v0.8h-0.8zM111.0 438.3h0.8v0.8h-0.8zM100.7 441.9h0.8v0.8h-0.8zM105.4 441.2h0.8v0.8h-0.8zM106.7 428.5h0.8v0.8h-0.8zM119.8 444.5h0.8v0.8h-0.8zM111.4 434.8h0.8v0.8h-0.8zM107.0 435.2h0.8v0.8h-0.8zM112.8 448.4h0.8v0.8h-0.8zM111.7 443.5h0.8v0.8h-0.8zM117.8 436.0h0.8v0.8h-0.8zM112.6 426.9h0.8v0.8h-0.8zM124.1 439.0h0.8v0.8h-0.8zM120.1 441.2h0.8v0.8h-0.8zM107.6 437.5h0.8v0.8h-0.8zM104.3 430.5h0.8v0.8h-0.8zM115.9 433.3h0.8v0.8h-0.8zM112.6 430.5h0.8v0.8h-0.8zM107.1 439.3h0.8v0.8h-0.8zM94.7 442.9h0.8v0.8h-0.8zM91.5 444.2h0.8v0.8h-0.8zM111.1 433.6h0.8v0.8h-0.8zM114.9 439.4h0.8v0.8h-0.8zM115.2 441.3h0.8v0.8h-0.8zM96.4 434.9h0.8v0.8h-0.8zM117.3 437.1h0.8v0.8h-0.8zM103.2 450.7h0.8v0.8h-0.8zM111.5 439.2h0.8v0.8h-0.8zM111.8 443.3h0.8v0.8h-0.8zM100.8 435.4h0.8v0.8h-0.8zM102.7 438.3h0.8v0.8h-0.8zM89.3 427.7h0.8v0.8h-0.8zM99.7 437.8h0.8v0.8h-0.8zM91.8 445.2h0.8v0.8h-0.8zM111.9 450.6h0.8v0.8h-0.8zM108.6 445.2h0.8v0.8h-0.8zM116.2 442.1h0.8v0.8h-0.8zM111.2 438.3h0.8v0.8h-0.8zM102.3 434.4h0.8v0.8h-0.8zM111.1 437.0h0.8v0.8h-0.8zM104.5 441.7h0.8v0.8h-0.8zM113.5 433.3h0.8v0.8h-0.8zM110.8 443.6h0.8v0.8h-0.8zM99.1 432.1h0.8v0.8h-0.8zM108.0 427.3h0.8v0.8h-0.8zM108.5 431.9h0.8v0.8h-0.8zM105.2 428.0h0.8v0.8h-0.8zM116.1 429.8h0.8v0.8h-0.8zM123.4 444.8h0.8v0.8h-0.8zM104.7 436.8h0.8v0.8h-0.8zM104.8 439.3h0.8v0.8h-0.8zM87.8 444.9h0.8v0.8h-0.8zM106.8 445.6h0.8v0.8h-0.8zM104.1 435.0h0.8v0.8h-0.8zM88.5 446.0h0.8v0.8h-0.8zM110.6 440.3h0.8v0.8h-0.8zM113.3 438.0h0.8v0.8h-0.8zM101.4 440.7h0.8v0.8h-0.8zM104.6 429.4h0.8v0.8h-0.8zM99.3 433.3h0.8v0.8h-0.8zM114.9 437.4h0.8v0.8h-0.8zM94.3 441.7h0.8v0.8h-0.8zM105.2 435.8h0.8v0.8h-0.8zM125.6 437.2h0.8v0.8h-0.8zM108.5 443.8h0.8v0.8h-0.8zM112.2 446.5h0.8v0.8h-0.8zM106.7 442.6h0.8v0.8h-0.8zM97.4 445.6h0.8v0.8h-0.8zM107.7 435.6h0.8v0.8h-0.8zM111.7 436.2h0.8v0.8h-0.8zM98.8 439.9h0.8v0.8h-0.8zM111.1 436.2h0.8v0.8h-0.8zM119.2 435.0h0.8v0.8h-0.8zM117.6 447.9h0.8v0.8h-0.8zM93.8 436.8h0.8v0.8h-0.8zM99.2 432.2h0.8v0.8h-0.8zM93.5 440.9h0.8v0.8h-0.8zM117.6 449.0h0.8v0.8h-0.8zM113.5 438.5h0.8v0.8h-0.8zM114.3 445.4h0.8v0.8h-0.8zM100.1 435.4h0.8v0.8h-0.8zM97.5 435.1h0.8v0.8h-0.8zM108.7 433.9h0.8v0.8h-0.8zM108.9 437.1h0.8v0.8h-0.8zM100.3 449.0h0.8v0.8h-0.8zM109.3 431.1h0.8v0.8h-0.8zM113.8 447.8h0.8v0.8h-0.8zM110.1 431.9h0.8v0.8h-0.8zM98.6 436.6h0.8v0.8h-0.8zM89.0 443.0h0.8v0.8h-0.8zM105.7 441.8h0.8v0.8h-0.8zM109.5 439.7h0.8v0.8h-0.8zM105.7 428.1h0.8v0.8h-0.8zM104.1 440.2h0.8v0.8h-0.8zM101.8 431.9h0.8v0.8h-0.8zM114.4 453.4h0.8v0.8h-0.8zM107.5 436.7h0.8v0.8h-0.8zM109.1 439.1h0.8v0.8h-0.8zM99.3 431.1h0.8v0.8h-0.8zM102.4 435.1h0.8v0.8h-0.8zM109.5 430.3h0.8v0.8h-0.8zM99.0 443.9h0.8v0.8h-0.8zM96.7 436.4h0.8v0.8h-0.8zM105.0 441.4h0.8v0.8h-0.8zM118.8 433.9h0.8v0.8h-0.8zM109.7 435.0h0.8v0.8h-0.8zM121.1 445.7h0.8v0.8h-0.8zM106.8 432.2h0.8v0.8h-0.8zM105.2 427.2h0.8v0.8h-0.8zM95.5 440.4h0.8v0.8h-0.8zM102.8 431.2h0.8v0.8h-0.8zM120.9 435.4h0.8v0.8h-0.8zM110.9 443.5h0.8v0.8h-0.8zM114.6 433.1h0.8v0.8h-0.8zM114.3 443.3h0.8v0.8h-0.8zM107.9 433.9h0.8v0.8h-0.8zM106.2 446.9h0.8v0.8h-0.8zM109.1 446.0h0.8v0.8h-0.8zM114.0 435.2h0.8v0.8h-0.8zM112.1 436.7h0.8v0.8h-0.8zM112.4 433.0h0.8v0.8h-0.8zM109.4 439.2h0.8v0.8h-0.8zM101.1 444.9h0.8v0.8h-0.8zM105.6 429.3h0.8v0.8h-0.8zM99.5 443.5h0.8v0.8h-0.8zM117.0 430.1h0.8v0.8h-0.8zM89.1 432.8h0.8v0.8h-0.8zM106.0 427.3h0.8v0.8h-0.8zM129.5 450.6h0.8v0.8h-0.8zM104.9 438.4h0.8v0.8h-0.8zM97.8 439.5h0.8v0.8h-0.8zM107.8 433.9h0.8v0.8h-0.8zM119.6 444.4h0.8v0.8h-0.8zM106.6 425.4h0.8v0.8h-0.8zM113.5 438.2h0.8v0.8h-0.8zM108.9 451.2h0.8v0.8h-0.8zM104.6 435.7h0.8v0.8h-0.8zM108.6 442.0h0.8v0.8h-0.8zM103.2 433.1h0.8v0.8h-0.8zM103.6 438.1h0.8v0.8h-0.8zM111.4 443.8h0.8v0.8h-0.8zM111.7 439.2h0.8v0.8h-0.8zM114.9 440.2h0.8v0.8h-0.8zM109.3 435.9h0.8v0.8h-0.8zM95.1 439.9h0.8v0.8h-0.8zM112.8 438.3h0.8v0.8h-0.8zM105.2 446.7h0.8v0.8h-0.8zM105.4 442.3h0.8v0.8h-0.8zM94.7 436.5h0.8v0.8h-0.8zM102.8 423.3h0.8v0.8h-0.8zM101.5 442.3h0.8v0.8h-0.8zM107.7 442.5h0.8v0.8h-0.8zM94.9 432.5h0.8v0.8h-0.8zM108.5 426.0h0.8v0.8h-0.8zM109.1 431.1h0.8v0.8h-0.8zM97.9 443.6h0.8v0.8h-0.8zM102.4 431.6h0.8v0.8h-0.8zM100.3 435.2h0.8v0.8h-0.8zM116.2 439.3h0.8v0.8h-0.8zM85.2 445.3h0.8v0.8h-0.8zM104.9 437.9h0.8v0.8h-0.8zM93.1 437.4h0.8v0.8h-0.8zM104.1 434.7h0.8v0.8h-0.8zM115.6 447.8h0.8v0.8h-0.8zM102.3 444.4h0.8v0.8h-0.8zM109.2 437.4h0.8v0.8h-0.8zM100.4 429.6h0.8v0.8h-0.8zM125.5 433.3h0.8v0.8h-0.8zM116.2 441.5h0.8v0.8h-0.8zM118.1 433.7h0.8v0.8h-0.8zM96.0 443.4h0.8v0.8h-0.8zM98.1 440.2h0.8v0.8h-0.8zM117.7 439.8h0.8v0.8h-0.8zM106.3 441.9h0.8v0.8h-0.8zM105.7 441.0h0.8v0.8h-0.8zM111.0 432.9h0.8v0.8h-0.8zM96.7 436.0h0.8v0.8h-0.8zM115.0 452.0h0.8v0.8h-0.8zM108.2 430.8h0.8v0.8h-0.8zM112.3 435.2h0.8v0.8h-0.8zM102.0 444.4h0.8v0.8h-0.8zM112.6 437.0h0.8v0.8h-0.8zM101.7 433.1h0.8v0.8h-0.8zM116.6 430.1h0.8v0.8h-0.8zM118.2 441.2h0.8v0.8h-0.8zM116.2 444.1h0.8v0.8h-0.8zM112.6 446.4h0.8v0.8h-0.8zM113.7 438.3h0.8v0.8h-0.8zM83.6 444.3h0.8v0.8h-0.8zM115.5 431.8h0.8v0.8h-0.8zM105.5 439.0h0.8v0.8h-0.8zM108.9 433.9h0.8v0.8h-0.8zM105.4 439.0h0.8v0.8h-0.8z" fill="#000" fill-opacity="0.25"/>
<path d="M121.9 453.2h0.8v0.8h-0.8zM122.7 445.9h0.8v0.8h-0.8zM117.5 454.5h0.8v0.8h-0.8zM123.2 457.3h0.8v0.8h-0.8zM118.8 450.2h0.8v0.8h-0.8zM117.4 458.6h0.8v0.8h-0.8zM119.6 442.6h0.8v0.8h-0.8zM116.3 443.7h0.8v0.8h-0.8zM120.0 446.1h0.8v0.8h-0.8zM120.7 450.6h0.8v0.8h-0.8zM119.5 453.1h0.8v0.8h-0.8zM121.3 452.6h0.8v0.8h-0.8zM119.2 452.7h0.8v0.8h-0.8zM120.0 456.6h0.8v0.8h-0.8zM116.4 450.6h0.8v0.8h-0.8zM120.1 446.7h0.8v0.8h-0.8zM117.9 446.8h0.8v0.8h-0.8zM118.9 463.6h0.8v0.8h-0.8zM119.8 441.2h0.8v0.8h-0.8zM120.5 452.1h0.8v0.8h-0.8zM115.9 460.3h0.8v0.8h-0.8zM116.1 455.4h0.8v0.8h-0.8zM119.2 448.9h0.8v0.8h-0.8zM121.2 453.0h0.8v0.8h-0.8zM120.9 457.3h0.8v0.8h-0.8zM122.2 459.0h0.8v0.8h-0.8zM123.3 448.5h0.8v0.8h-0.8zM121.2 456.8h0.8v0.8h-0.8zM120.0 454.3h0.8v0.8h-0.8zM117.4 458.5h0.8v0.8h-0.8zM117.6 460.0h0.8v0.8h-0.8zM118.8 451.3h0.8v0.8h-0.8zM120.7 445.8h0.8v0.8h-0.8zM120.6 455.0h0.8v0.8h-0.8zM120.0 461.9h0.8v0.8h-0.8zM119.6 456.4h0.8v0.8h-0.8zM121.6 454.2h0.8v0.8h-0.8zM120.5 465.0h0.8v0.8h-0.8zM120.7 447.8h0.8v0.8h-0.8zM120.8 457.5h0.8v0.8h-0.8zM118.6 450.1h0.8v0.8h-0.8zM117.4 453.2h0.8v0.8h-0.8zM121.2 453.4h0.8v0.8h-0.8zM121.0 460.6h0.8v0.8h-0.8zM119.4 448.3h0.8v0.8h-0.8zM119.0 450.3h0.8v0.8h-0.8zM125.7 445.0h0.8v0.8h-0.8zM118.1 455.4h0.8v0.8h-0.8zM119.5 450.7h0.8v0.8h-0.8zM120.7 455.1h0.8v0.8h-0.8zM117.1 447.6h0.8v0.8h-0.8zM120.3 451.2h0.8v0.8h-0.8zM124.5 458.2h0.8v0.8h-0.8zM122.3 452.1h0.8v0.8h-0.8zM121.6 456.1h0.8v0.8h-0.8zM121.5 455.6h0.8v0.8h-0.8zM120.3 451.2h0.8v0.8h-0.8zM122.4 445.2h0.8v0.8h-0.8zM119.6 457.9h0.8v0.8h-0.8zM118.9 453.9h0.8v0.8h-0.8zM120.3 457.9h0.8v0.8h-0.8zM122.3 442.9h0.8v0.8h-0.8zM120.8 444.7h0.8v0.8h-0.8zM121.7 442.3h0.8v0.8h-0.8zM114.9 448.6h0.8v0.8h-0.8zM123.0 458.2h0.8v0.8h-0.8zM125.9 455.8h0.8v0.8h-0.8zM123.3 452.8h0.8v0.8h-0.8zM119.2 453.7h0.8v0.8h-0.8zM117.9 456.8h0.8v0.8h-0.8zM120.7 451.5h0.8v0.8h-0.8zM117.5 455.0h0.8v0.8h-0.8zM121.8 453.7h0.8v0.8h-0.8zM118.7 442.1h0.8v0.8h-0.8zM122.4 451.1h0.8v0.8h-0.8zM123.4 459.8h0.8v0.8h-0.8zM114.9 451.0h0.8v0.8h-0.8zM120.7 452.3h0.8v0.8h-0.8zM118.3 450.0h0.8v0.8h-0.8zM116.5 450.6h0.8v0.8h-0.8zM118.5 458.6h0.8v0.8h-0.8zM119.5 451.7h0.8v0.8h-0.8zM122.6 447.9h0.8v0.8h-0.8zM116.2 437.4h0.8v0.8h-0.8zM122.6 450.1h0.8v0.8h-0.8zM125.0 443.2h0.8v0.8h-0.8zM121.5 443.9h0.8v0.8h-0.8zM121.4 457.0h0.8v0.8h-0.8zM120.0 456.5h0.8v0.8h-0.8zM117.1 443.4h0.8v0.8h-0.8zM121.3 457.3h0.8v0.8h-0.8zM121.0 455.3h0.8v0.8h-0.8zM121.8 449.1h0.8v0.8h-0.8zM126.4 456.7h0.8v0.8h-0.8zM121.8 444.9h0.8v0.8h-0.8zM121.1 447.0h0.8v0.8h-0.8zM123.9 445.8h0.8v0.8h-0.8zM116.6 447.4h0.8v0.8h-0.8zM117.1 457.4h0.8v0.8h-0.8zM119.1 446.3h0.8v0.8h-0.8zM118.4 447.2h0.8v0.8h-0.8zM121.7 448.2h0.8v0.8h-0.8zM119.2 454.0h0.8v0.8h-0.8zM124.3 451.3h0.8v0.8h-0.8zM123.8 457.3h0.8v0.8h-0.8zM121.9 449.4h0.8v0.8h-0.8zM119.0 446.6h0.8v0.8h-0.8zM121.5 450.5h0.8v0.8h-0.8zM122.0 453.2h0.8v0.8h-0.8zM117.3 448.3h0.8v0.8h-0.8zM120.9 454.4h0.8v0.8h-0.8zM121.8 462.1h0.8v0.8h-0.8zM120.5 450.1h0.8v0.8h-0.8zM123.9 453.2h0.8v0.8h-0.8zM123.0 459.7h0.8v0.8h-0.8zM117.9 449.7h0.8v0.8h-0.8zM120.3 448.7h0.8v0.8h-0.8zM117.9 447.5h0.8v0.8h-0.8zM121.4 454.9h0.8v0.8h-0.8zM117.8 455.5h0.8v0.8h-0.8zM122.3 452.2h0.8v0.8h-0.8zM121.0 453.1h0.8v0.8h-0.8zM122.4 459.3h0.8v0.8h-0.8zM119.6 457.2h0.8v0.8h-0.8zM116.4 445.9h0.8v0.8h-0.8zM124.4 452.9h0.8v0.8h-0.8zM119.6 453.4h0.8v0.8h-0.8zM123.4 456.5h0.8v0.8h-0.8zM121.1 451.8h0.8v0.8h-0.8zM121.7 449.7h0.8v0.8h-0.8zM124.6 450.6h0.8v0.8h-0.8zM120.9 444.0h0.8v0.8h-0.8zM123.5 452.7h0.8v0.8h-0.8zM116.3 449.9h0.8v0.8h-0.8zM122.2 455.2h0.8v0.8h-0.8zM119.4 447.7h0.8v0.8h-0.8zM119.7 450.7h0.8v0.8h-0.8zM120.0 448.0h0.8v0.8h-0.8zM120.9 447.5h0.8v0.8h-0.8zM124.1 456.3h0.8v0.8h-0.8zM115.4 450.5h0.8v0.8h-0.8zM120.1 455.1h0.8v0.8h-0.8zM118.2 447.2h0.8v0.8h-0.8zM122.9 453.3h0.8v0.8h-0.8zM118.9 444.4h0.8v0.8h-0.8zM121.1 450.4h0.8v0.8h-0.8zM119.0 450.3h0.8v0.8h-0.8zM121.7 455.7h0.8v0.8h-0.8zM122.5 453.7h0.8v0.8h-0.8zM119.0 451.9h0.8v0.8h-0.8z" fill="#000" fill-opacity="0.45"/>
<path d="M113.3 424.6h0.8v0.8h-0.8zM111.0 425.7h0.8v0.8h-0.8zM112.2 430.2h0.8v0.8h-0.8zM113.0 424.7h0.8v0.8h-0.8zM110.1 429.9h0.8v0.8h-0.8zM109.3 430.1h0.8v0.8h-0.8zM111.5 427.0h0.8v0.8h-0.8zM108.9 427.3h0.8v0.8h-0.8zM111.7 426.2h0.8v0.8h-0.8zM114.2 427.4h0.8v0.8h-0.8zM113.3 428.7h0.8v0.8h-0.8zM109.0 427.4h0.8v0.8h-0.8zM105.9 429.4h0.8v0.8h-0.8zM110.1 429.8h0.8v0.8h-0.8zM109.9 428.1h0.8v0.8h-0.8zM114.2 428.1h0.8v0.8h-0.8zM109.0 427.3h0.8v0.8h-0.8zM109.6 428.1h0.8v0.8h-0.8zM112.9 425.2h0.8v0.8h-0.8zM108.7 428.2h0.8v0.8h-0.8zM109.8 427.8h0.8v0.8h-0.8zM116.3 425.7h0.8v0.8h-0.8zM115.5 431.7h0.8v0.8h-0.8zM112.5 425.5h0.8v0.8h-0.8zM111.3 425.7h0.8v0.8h-0.8zM107.0 428.0h0.8v0.8h-0.8zM112.3 423.5h0.8v0.8h-0.8zM110.5 425.8h0.8v0.8h-0.8zM111.1 424.4h0.8v0.8h-0.8zM108.5 425.5h0.8v0.8h-0.8zM110.3 427.1h0.8v0.8h-0.8zM109.7 428.0h0.8v0.8h-0.8zM111.4 429.6h0.8v0.8h-0.8zM115.3 429.0h0.8v0.8h-0.8zM111.6 429.8h0.8v0.8h-0.8zM104.5 428.6h0.8v0.8h-0.8zM106.9 426.5h0.8v0.8h-0.8zM104.8 429.6h0.8v0.8h-0.8zM107.6 426.4h0.8v0.8h-0.8zM112.3 426.2h0.8v0.8h-0.8zM111.7 430.4h0.8v0.8h-0.8zM108.2 429.0h0.8v0.8h-0.8zM111.3 427.8h0.8v0.8h-0.8zM107.7 428.9h0.8v0.8h-0.8zM105.4 429.1h0.8v0.8h-0.8z" fill="#000" fill-opacity="0.3"/>
<path d="M121.8 430.4h0.8v0.8h-0.8zM125.6 436.5h0.8v0.8h-0.8zM122.3 431.3h0.8v0.8h-0.8zM126.2 434.8h0.8v0.8h-0.8zM123.8 436.2h0.8v0.8h-0.8zM129.9 430.5h0.8v0.8h-0.8zM127.4 433.0h0.8v0.8h-0.8zM123.4 431.7h0.8v0.8h-0.8zM125.8 433.4h0.8v0.8h-0.8zM122.2 433.0h0.8v0.8h-0.8zM126.0 436.3h0.8v0.8h-0.8zM127.5 433.6h0.8v0.8h-0.8zM126.6 432.4h0.8v0.8h-0.8zM120.0 434.6h0.8v0.8h-0.8zM124.8 431.8h0.8v0.8h-0.8zM127.4 431.7h0.8v0.8h-0.8zM126.7 436.9h0.8v0.8h-0.8zM129.3 430.7h0.8v0.8h-0.8zM122.0 431.4h0.8v0.8h-0.8zM127.4 432.5h0.8v0.8h-0.8zM123.9 430.3h0.8v0.8h-0.8zM126.4 428.2h0.8v0.8h-0.8zM127.0 434.5h0.8v0.8h-0.8zM127.9 430.8h0.8v0.8h-0.8zM124.1 431.3h0.8v0.8h-0.8zM126.4 431.6h0.8v0.8h-0.8zM122.3 430.4h0.8v0.8h-0.8zM121.6 430.2h0.8v0.8h-0.8zM127.5 432.7h0.8v0.8h-0.8zM125.7 437.2h0.8v0.8h-0.8zM121.0 433.9h0.8v0.8h-0.8zM123.3 433.9h0.8v0.8h-0.8zM125.9 429.4h0.8v0.8h-0.8zM130.5 432.3h0.8v0.8h-0.8zM129.0 430.0h0.8v0.8h-0.8zM128.2 433.9h0.8v0.8h-0.8zM120.5 431.9h0.8v0.8h-0.8zM125.5 432.5h0.8v0.8h-0.8zM127.3 432.2h0.8v0.8h-0.8zM127.0 431.2h0.8v0.8h-0.8zM127.1 429.3h0.8v0.8h-0.8zM125.1 433.5h0.8v0.8h-0.8zM131.1 429.6h0.8v0.8h-0.8zM130.3 430.0h0.8v0.8h-0.8zM125.5 431.8h0.8v0.8h-0.8z" fill="#000" fill-opacity="0.3"/>
</g>
<rect x="78.5" y="408.5" width="55.0" height="58.0" fill="none" stroke="#777" stroke-width="1"/>
<line x1="76.60" y1="466.20" x2="78.10" y2="466.20" stroke="#666" stroke-width="0.6"/>
<text x="76.10" y="467.60" font-size="4.2" font-weight="normal" text-anchor="end" fill="#333">10⁻¹</text>
<line x1="76.60" y1="451.88" x2="78.10" y2="451.88" stroke="#666" stroke-width="0.6"/>
<text x="76.10" y="453.27" font-size="4.2" font-weight="normal" text-anchor="end" fill="#333">10⁰</text>
<line x1="76.60" y1="437.55" x2="78.10" y2="437.55" stroke="#666" stroke-width="0.6"/>
<text x="76.10" y="438.95" font-size="4.2" font-weight="normal" text-anchor="end" fill="#333">10¹</text>
<line x1="76.60" y1="423.23" x2="78.10" y2="423.23" stroke="#666" stroke-width="0.6"/>
<text x="76.10" y="424.62" font-size="4.2" font-weight="normal" text-anchor="end" fill="#333">10²</text>
<line x1="76.60" y1="408.90" x2="78.10" y2="408.90" stroke="#666" stroke-width="0.6"/>
<text x="76.10" y="410.30" font-size="4.2" font-weight="normal" text-anchor="end" fill="#333">10³</text>
<line x1="78.10" y1="466.20" x2="78.10" y2="467.70" stroke="#666" stroke-width="0.6"/>
<text x="78.10" y="473.10" font-size="4.4" font-weight="normal" text-anchor="middle" fill="#333">10⁻¹</text>
<line x1="92.00" y1="466.20" x2="92.00" y2="467.70" stroke="#666" stroke-width="0.6"/>
<text x="92.00" y="473.10" font-size="4.4" font-weight="normal" text-anchor="middle" fill="#333">10⁰</text>
<line x1="105.90" y1="466.20" x2="105.90" y2="467.70" stroke="#666" stroke-width="0.6"/>
<text x="105.90" y="473.10" font-size="4.4" font-weight="normal" text-anchor="middle" fill="#333">10¹</text>
<line x1="119.80" y1="466.20" x2="119.80" y2="467.70" stroke="#666" stroke-width="0.6"/>
<text x="119.80" y="473.10" font-size="4.4" font-weight="normal" text-anchor="middle" fill="#333">10²</text>
<line x1="133.70" y1="466.20" x2="133.70" y2="467.70" stroke="#666" stroke-width="0.6"/>
<text x="133.70" y="473.10" font-size="4.4" font-weight="normal" text-anchor="middle" fill="#333">10³</text>
<ellipse cx="110.6" cy="427.3" rx="7.2" ry="4.7" fill="none" stroke="#000" stroke-width="1.5"/>
<ellipse cx="126.1" cy="432.7" rx="8.2" ry="4.5" fill="none" stroke="#000" stroke-width="1.5" transform="rotate(-37 126.1 432.7)"/>
<ellipse cx="119.8" cy="453.6" rx="4.4" ry="10.9" fill="none" stroke="#000" stroke-width="1.5"/>
<text x="112.00" y="406.90" font-size="9.6" font-weight="bold" text-anchor="middle" fill="#000">R1</text>
<text x="136.60" y="434.30" font-size="9.6" font-weight="bold" text-anchor="start" fill="#000">R2</text>
<text x="136.60" y="463.60" font-size="9.6" font-weight="bold" text-anchor="start" fill="#000">R3</text>
<text x="61.20" y="464.00" font-size="13" font-weight="bold" text-anchor="start" fill="#000" transform="rotate(-90 61.2 464)">BST-2</text>
<line x1="65.00" y1="463.80" x2="65.00" y2="423.80" stroke="#000" stroke-width="2.2"/>
<path d="M65.00,417.80 L61.40,424.80 L68.60,424.80Z" fill="#000"/>
<line x1="81.30" y1="478.80" x2="121.80" y2="478.80" stroke="#000" stroke-width="2.2"/>
<path d="M127.80,478.80 L120.80,475.20 L120.80,482.40Z" fill="#000"/>
<text x="81.20" y="491.50" font-size="13" font-weight="bold" text-anchor="start" fill="#000">CD11c</text>
<path d="M78.00,542.46 C78.23,539.44 78.95,529.22 79.40,524.35 C79.85,519.49 80.18,515.98 80.70,513.26 C81.22,510.53 81.98,507.71 82.50,508.00 C83.02,508.29 83.35,511.60 83.80,515.01 C84.25,518.41 84.75,524.16 85.20,528.44 C85.65,532.72 86.00,536.81 86.50,540.70 C87.00,544.60 87.58,548.78 88.20,551.80 C88.82,554.82 89.53,557.15 90.20,558.81 C90.87,560.46 91.42,561.14 92.20,561.73 C92.98,562.31 94.00,562.02 94.90,562.31 C95.80,562.60 96.70,562.90 97.60,563.48 C98.50,564.06 99.57,565.33 100.30,565.82 C101.03,566.30 101.72,566.30 102.00,566.40 L102.00,566.40 L78.00,566.40Z" fill="#636363"/>
<path d="M78.00,566.11 C82.50,566.11 100.28,567.13 105.00,566.11 C109.72,565.09 105.92,563.24 106.30,559.98 C106.68,556.72 106.97,550.83 107.30,546.54 C107.63,542.26 107.90,537.01 108.30,534.28 C108.70,531.55 109.28,532.72 109.70,530.19 C110.12,527.66 110.47,522.41 110.80,519.10 C111.13,515.79 111.43,512.19 111.70,510.34 C111.97,508.49 112.18,508.19 112.40,508.00 C112.62,507.81 112.78,507.81 113.00,509.17 C113.22,510.53 113.40,513.65 113.70,516.18 C114.00,518.71 114.47,520.65 114.80,524.35 C115.13,528.05 115.37,533.79 115.70,538.37 C116.03,542.94 116.42,547.91 116.80,551.80 C117.18,555.69 117.57,559.39 118.00,561.73 C118.43,564.06 118.90,565.09 119.40,565.82 C119.90,566.55 118.48,566.06 121.00,566.11 C123.52,566.16 132.25,566.11 134.50,566.11" fill="none" stroke="#1a1a1a" stroke-width="0.95" stroke-linejoin="round"/>
<line x1="78.00" y1="566.00" x2="134.50" y2="566.00" stroke="#444" stroke-width="0.8"/>
<rect x="78.5" y="504.5" width="56.0" height="62.0" fill="none" stroke="#777" stroke-width="1"/>
<line x1="76.50" y1="566.40" x2="78.00" y2="566.40" stroke="#666" stroke-width="0.6"/>
<text x="76.00" y="567.70" font-size="4.2" font-weight="normal" text-anchor="end" fill="#333">0</text>
<line x1="76.50" y1="554.72" x2="78.00" y2="554.72" stroke="#666" stroke-width="0.6"/>
<text x="76.00" y="556.02" font-size="4.2" font-weight="normal" text-anchor="end" fill="#333">20</text>
<line x1="76.50" y1="543.04" x2="78.00" y2="543.04" stroke="#666" stroke-width="0.6"/>
<text x="76.00" y="544.34" font-size="4.2" font-weight="normal" text-anchor="end" fill="#333">40</text>
<line x1="76.50" y1="531.36" x2="78.00" y2="531.36" stroke="#666" stroke-width="0.6"/>
<text x="76.00" y="532.66" font-size="4.2" font-weight="normal" text-anchor="end" fill="#333">60</text>
<line x1="76.50" y1="519.68" x2="78.00" y2="519.68" stroke="#666" stroke-width="0.6"/>
<text x="76.00" y="520.98" font-size="4.2" font-weight="normal" text-anchor="end" fill="#333">80</text>
<line x1="76.50" y1="508.00" x2="78.00" y2="508.00" stroke="#666" stroke-width="0.6"/>
<text x="76.00" y="509.30" font-size="4.2" font-weight="normal" text-anchor="end" fill="#333">100</text>
<line x1="78.00" y1="566.40" x2="78.00" y2="567.90" stroke="#666" stroke-width="0.6"/>
<text x="78.00" y="573.80" font-size="4.4" font-weight="normal" text-anchor="middle" fill="#333"></text>
<line x1="92.12" y1="566.40" x2="92.12" y2="567.90" stroke="#666" stroke-width="0.6"/>
<text x="92.12" y="573.80" font-size="4.4" font-weight="normal" text-anchor="middle" fill="#333">10⁰</text>
<line x1="106.25" y1="566.40" x2="106.25" y2="567.90" stroke="#666" stroke-width="0.6"/>
<text x="106.25" y="573.80" font-size="4.4" font-weight="normal" text-anchor="middle" fill="#333">10¹</text>
<line x1="120.38" y1="566.40" x2="120.38" y2="567.90" stroke="#666" stroke-width="0.6"/>
<text x="120.38" y="573.80" font-size="4.4" font-weight="normal" text-anchor="middle" fill="#333">10²</text>
<line x1="134.50" y1="566.40" x2="134.50" y2="567.90" stroke="#666" stroke-width="0.6"/>
<text x="134.50" y="573.80" font-size="4.4" font-weight="normal" text-anchor="middle" fill="#333">10³</text>
<path d="M144.70,559.39 C145.10,558.61 146.37,559.39 147.10,554.72 C147.83,550.05 148.43,538.95 149.10,531.36 C149.77,523.77 150.53,511.50 151.10,509.17 C151.67,506.83 152.05,512.48 152.50,517.34 C152.95,522.21 153.35,532.14 153.80,538.37 C154.25,544.60 154.75,550.63 155.20,554.72 C155.65,558.81 156.07,561.05 156.50,562.90 C156.93,564.75 157.38,565.23 157.80,565.82 C158.22,566.40 158.80,566.30 159.00,566.40 L159.00,566.40 L144.70,566.40Z" fill="#636363"/>
<path d="M144.70,566.11 C144.77,564.21 144.88,555.06 145.10,554.72 C145.32,554.38 145.33,563.87 146.00,564.06 C146.67,564.26 148.25,558.32 149.10,555.89 C149.95,553.45 150.53,551.02 151.10,549.46 C151.67,547.91 152.10,546.54 152.50,546.54 C152.90,546.54 153.17,550.83 153.50,549.46 C153.83,548.10 154.22,540.90 154.50,538.37 C154.78,535.84 154.92,535.93 155.20,534.28 C155.48,532.63 155.87,528.05 156.20,528.44 C156.53,528.83 156.88,536.62 157.20,536.62 C157.52,536.62 157.77,528.44 158.10,528.44 C158.43,528.44 158.80,537.01 159.20,536.62 C159.60,536.23 160.05,528.34 160.50,526.10 C160.95,523.87 161.48,522.50 161.90,523.18 C162.32,523.87 162.67,529.51 163.00,530.19 C163.33,530.87 163.53,526.59 163.90,527.27 C164.27,527.95 164.75,535.93 165.20,534.28 C165.65,532.63 166.15,520.36 166.60,517.34 C167.05,514.33 167.52,516.86 167.90,516.18 C168.28,515.49 168.45,514.62 168.90,513.26 C169.35,511.89 170.08,506.83 170.60,508.00 C171.12,509.17 171.55,517.54 172.00,520.26 C172.45,522.99 172.85,522.02 173.30,524.35 C173.75,526.69 174.25,530.78 174.70,534.28 C175.15,537.78 175.55,542.85 176.00,545.38 C176.45,547.91 176.83,546.74 177.40,549.46 C177.97,552.19 178.62,559.29 179.40,561.73 C180.18,564.16 181.10,563.33 182.10,564.06 C183.10,564.79 182.22,565.77 185.40,566.11 C188.58,566.45 198.57,566.11 201.20,566.11" fill="none" stroke="#1a1a1a" stroke-width="0.95" stroke-linejoin="round"/>
<line x1="144.70" y1="566.00" x2="201.20" y2="566.00" stroke="#444" stroke-width="0.8"/>
<rect x="144.5" y="504.5" width="57.0" height="62.0" fill="none" stroke="#777" stroke-width="1"/>
<line x1="143.20" y1="566.40" x2="144.70" y2="566.40" stroke="#666" stroke-width="0.6"/>
<text x="142.70" y="567.70" font-size="4.2" font-weight="normal" text-anchor="end" fill="#333">0</text>
<line x1="143.20" y1="554.72" x2="144.70" y2="554.72" stroke="#666" stroke-width="0.6"/>
<text x="142.70" y="556.02" font-size="4.2" font-weight="normal" text-anchor="end" fill="#333">20</text>
<line x1="143.20" y1="543.04" x2="144.70" y2="543.04" stroke="#666" stroke-width="0.6"/>
<text x="142.70" y="544.34" font-size="4.2" font-weight="normal" text-anchor="end" fill="#333">40</text>
<line x1="143.20" y1="531.36" x2="144.70" y2="531.36" stroke="#666" stroke-width="0.6"/>
<text x="142.70" y="532.66" font-size="4.2" font-weight="normal" text-anchor="end" fill="#333">60</text>
<line x1="143.20" y1="519.68" x2="144.70" y2="519.68" stroke="#666" stroke-width="0.6"/>
<text x="142.70" y="520.98" font-size="4.2" font-weight="normal" text-anchor="end" fill="#333">80</text>
<line x1="143.20" y1="508.00" x2="144.70" y2="508.00" stroke="#666" stroke-width="0.6"/>
<text x="142.70" y="509.30" font-size="4.2" font-weight="normal" text-anchor="end" fill="#333">100</text>
<line x1="144.70" y1="566.40" x2="144.70" y2="567.90" stroke="#666" stroke-width="0.6"/>
<text x="144.70" y="573.80" font-size="4.4" font-weight="normal" text-anchor="middle" fill="#333"></text>
<line x1="158.82" y1="566.40" x2="158.82" y2="567.90" stroke="#666" stroke-width="0.6"/>
<text x="158.82" y="573.80" font-size="4.4" font-weight="normal" text-anchor="middle" fill="#333">10⁰</text>
<line x1="172.95" y1="566.40" x2="172.95" y2="567.90" stroke="#666" stroke-width="0.6"/>
<text x="172.95" y="573.80" font-size="4.4" font-weight="normal" text-anchor="middle" fill="#333">10¹</text>
<line x1="187.07" y1="566.40" x2="187.07" y2="567.90" stroke="#666" stroke-width="0.6"/>
<text x="187.07" y="573.80" font-size="4.4" font-weight="normal" text-anchor="middle" fill="#333">10²</text>
<line x1="201.20" y1="566.40" x2="201.20" y2="567.90" stroke="#666" stroke-width="0.6"/>
<text x="201.20" y="573.80" font-size="4.4" font-weight="normal" text-anchor="middle" fill="#333">10³</text>
<path d="M211.40,555.89 C211.68,555.21 212.48,555.69 213.10,551.80 C213.72,547.91 214.43,538.66 215.10,532.53 C215.77,526.40 216.50,519.10 217.10,515.01 C217.70,510.92 218.20,507.81 218.70,508.00 C219.20,508.19 219.58,512.09 220.10,516.18 C220.62,520.26 221.18,527.47 221.80,532.53 C222.42,537.59 223.12,542.85 223.80,546.54 C224.48,550.24 225.22,552.19 225.90,554.72 C226.58,557.25 227.23,559.88 227.90,561.73 C228.57,563.58 229.38,565.04 229.90,565.82 C230.42,566.59 230.82,566.30 231.00,566.40 L231.00,566.40 L211.40,566.40Z" fill="#636363"/>
<path d="M211.40,566.11 C212.67,566.06 217.03,566.35 219.00,565.82 C220.97,565.28 222.17,563.87 223.20,562.90 C224.23,561.92 224.42,560.27 225.20,559.98 C225.98,559.68 227.12,562.02 227.90,561.14 C228.68,560.27 229.23,557.64 229.90,554.72 C230.57,551.80 231.33,547.03 231.90,543.62 C232.47,540.22 232.85,536.52 233.30,534.28 C233.75,532.04 234.15,531.55 234.60,530.19 C235.05,528.83 235.67,527.76 236.00,526.10 C236.33,524.45 236.33,523.28 236.60,520.26 C236.87,517.25 237.27,508.00 237.60,508.00 C237.93,508.00 238.15,516.57 238.60,520.26 C239.05,523.96 239.73,526.49 240.30,530.19 C240.87,533.89 241.38,538.37 242.00,542.46 C242.62,546.54 243.43,552.09 244.00,554.72 C244.57,557.35 244.95,556.67 245.40,558.22 C245.85,559.78 246.25,562.75 246.70,564.06 C247.15,565.38 244.57,565.77 248.10,566.11 C251.63,566.45 264.60,566.11 267.90,566.11" fill="none" stroke="#1a1a1a" stroke-width="0.95" stroke-linejoin="round"/>
<line x1="211.40" y1="566.00" x2="267.90" y2="566.00" stroke="#444" stroke-width="0.8"/>
<rect x="211.5" y="504.5" width="56.0" height="62.0" fill="none" stroke="#777" stroke-width="1"/>
<line x1="209.90" y1="566.40" x2="211.40" y2="566.40" stroke="#666" stroke-width="0.6"/>
<text x="209.40" y="567.70" font-size="4.2" font-weight="normal" text-anchor="end" fill="#333">0</text>
<line x1="209.90" y1="554.72" x2="211.40" y2="554.72" stroke="#666" stroke-width="0.6"/>
<text x="209.40" y="556.02" font-size="4.2" font-weight="normal" text-anchor="end" fill="#333">20</text>
<line x1="209.90" y1="543.04" x2="211.40" y2="543.04" stroke="#666" stroke-width="0.6"/>
<text x="209.40" y="544.34" font-size="4.2" font-weight="normal" text-anchor="end" fill="#333">40</text>
<line x1="209.90" y1="531.36" x2="211.40" y2="531.36" stroke="#666" stroke-width="0.6"/>
<text x="209.40" y="532.66" font-size="4.2" font-weight="normal" text-anchor="end" fill="#333">60</text>
<line x1="209.90" y1="519.68" x2="211.40" y2="519.68" stroke="#666" stroke-width="0.6"/>
<text x="209.40" y="520.98" font-size="4.2" font-weight="normal" text-anchor="end" fill="#333">80</text>
<line x1="209.90" y1="508.00" x2="211.40" y2="508.00" stroke="#666" stroke-width="0.6"/>
<text x="209.40" y="509.30" font-size="4.2" font-weight="normal" text-anchor="end" fill="#333">100</text>
<line x1="211.40" y1="566.40" x2="211.40" y2="567.90" stroke="#666" stroke-width="0.6"/>
<text x="211.40" y="573.80" font-size="4.4" font-weight="normal" text-anchor="middle" fill="#333"></text>
<line x1="225.53" y1="566.40" x2="225.53" y2="567.90" stroke="#666" stroke-width="0.6"/>
<text x="225.53" y="573.80" font-size="4.4" font-weight="normal" text-anchor="middle" fill="#333">10⁰</text>
<line x1="239.65" y1="566.40" x2="239.65" y2="567.90" stroke="#666" stroke-width="0.6"/>
<text x="239.65" y="573.80" font-size="4.4" font-weight="normal" text-anchor="middle" fill="#333">10¹</text>
<line x1="253.78" y1="566.40" x2="253.78" y2="567.90" stroke="#666" stroke-width="0.6"/>
<text x="253.78" y="573.80" font-size="4.4" font-weight="normal" text-anchor="middle" fill="#333">10²</text>
<line x1="267.90" y1="566.40" x2="267.90" y2="567.90" stroke="#666" stroke-width="0.6"/>
<text x="267.90" y="573.80" font-size="4.4" font-weight="normal" text-anchor="middle" fill="#333">10³</text>
<path d="M278.00,551.80 C278.23,550.24 278.83,547.71 279.40,542.46 C279.97,537.20 280.73,526.01 281.40,520.26 C282.07,514.52 282.83,508.88 283.40,508.00 C283.97,507.12 284.35,510.43 284.80,515.01 C285.25,519.58 285.65,528.83 286.10,535.45 C286.55,542.07 287.05,550.15 287.50,554.72 C287.95,559.29 288.25,561.05 288.80,562.90 C289.35,564.75 290.27,565.23 290.80,565.82 C291.33,566.40 291.80,566.30 292.00,566.40 L292.00,566.40 L278.00,566.40Z" fill="#636363"/>
<path d="M278.00,566.11 C278.35,565.57 279.30,564.79 280.10,562.90 C280.90,561.00 281.90,558.81 282.80,554.72 C283.70,550.63 284.78,543.43 285.50,538.37 C286.22,533.31 286.70,527.86 287.10,524.35 C287.50,520.85 287.62,520.07 287.90,517.34 C288.18,514.62 288.42,508.88 288.80,508.00 C289.18,507.12 289.75,509.36 290.20,512.09 C290.65,514.81 291.12,522.70 291.50,524.35 C291.88,526.01 292.17,520.65 292.50,522.02 C292.83,523.38 293.10,529.80 293.50,532.53 C293.90,535.25 294.45,535.55 294.90,538.37 C295.35,541.19 295.65,546.74 296.20,549.46 C296.75,552.19 297.52,553.16 298.20,554.72 C298.88,556.28 299.62,557.64 300.30,558.81 C300.98,559.98 301.63,561.14 302.30,561.73 C302.97,562.31 303.63,562.41 304.30,562.31 C304.97,562.21 305.63,561.05 306.30,561.14 C306.97,561.24 307.52,562.21 308.30,562.90 C309.08,563.58 310.10,564.70 311.00,565.23 C311.90,565.77 312.92,566.21 313.70,566.11 C314.48,566.01 315.02,564.65 315.70,564.65 C316.38,564.65 314.67,565.86 317.80,566.11 C320.93,566.35 331.72,566.11 334.50,566.11" fill="none" stroke="#1a1a1a" stroke-width="0.95" stroke-linejoin="round"/>
<line x1="278.00" y1="566.00" x2="334.50" y2="566.00" stroke="#444" stroke-width="0.8"/>
<rect x="278.5" y="504.5" width="56.0" height="62.0" fill="none" stroke="#777" stroke-width="1"/>
<line x1="276.50" y1="566.40" x2="278.00" y2="566.40" stroke="#666" stroke-width="0.6"/>
<text x="276.00" y="567.70" font-size="4.2" font-weight="normal" text-anchor="end" fill="#333">0</text>
<line x1="276.50" y1="554.72" x2="278.00" y2="554.72" stroke="#666" stroke-width="0.6"/>
<text x="276.00" y="556.02" font-size="4.2" font-weight="normal" text-anchor="end" fill="#333">20</text>
<line x1="276.50" y1="543.04" x2="278.00" y2="543.04" stroke="#666" stroke-width="0.6"/>
<text x="276.00" y="544.34" font-size="4.2" font-weight="normal" text-anchor="end" fill="#333">40</text>
<line x1="276.50" y1="531.36" x2="278.00" y2="531.36" stroke="#666" stroke-width="0.6"/>
<text x="276.00" y="532.66" font-size="4.2" font-weight="normal" text-anchor="end" fill="#333">60</text>
<line x1="276.50" y1="519.68" x2="278.00" y2="519.68" stroke="#666" stroke-width="0.6"/>
<text x="276.00" y="520.98" font-size="4.2" font-weight="normal" text-anchor="end" fill="#333">80</text>
<line x1="276.50" y1="508.00" x2="278.00" y2="508.00" stroke="#666" stroke-width="0.6"/>
<text x="276.00" y="509.30" font-size="4.2" font-weight="normal" text-anchor="end" fill="#333">100</text>
<line x1="278.00" y1="566.40" x2="278.00" y2="567.90" stroke="#666" stroke-width="0.6"/>
<text x="278.00" y="573.80" font-size="4.4" font-weight="normal" text-anchor="middle" fill="#333"></text>
<line x1="292.12" y1="566.40" x2="292.12" y2="567.90" stroke="#666" stroke-width="0.6"/>
<text x="292.12" y="573.80" font-size="4.4" font-weight="normal" text-anchor="middle" fill="#333">10⁰</text>
<line x1="306.25" y1="566.40" x2="306.25" y2="567.90" stroke="#666" stroke-width="0.6"/>
<text x="306.25" y="573.80" font-size="4.4" font-weight="normal" text-anchor="middle" fill="#333">10¹</text>
<line x1="320.38" y1="566.40" x2="320.38" y2="567.90" stroke="#666" stroke-width="0.6"/>
<text x="320.38" y="573.80" font-size="4.4" font-weight="normal" text-anchor="middle" fill="#333">10²</text>
<line x1="334.50" y1="566.40" x2="334.50" y2="567.90" stroke="#666" stroke-width="0.6"/>
<text x="334.50" y="573.80" font-size="4.4" font-weight="normal" text-anchor="middle" fill="#333">10³</text>
<path d="M344.50,551.80 C344.82,549.56 345.75,544.11 346.40,538.37 C347.05,532.63 347.73,522.41 348.40,517.34 C349.07,512.28 349.83,508.00 350.40,508.00 C350.97,508.00 351.35,512.28 351.80,517.34 C352.25,522.41 352.65,531.94 353.10,538.37 C353.55,544.79 354.05,551.80 354.50,555.89 C354.95,559.98 355.25,561.24 355.80,562.90 C356.35,564.55 357.27,565.23 357.80,565.82 C358.33,566.40 358.80,566.30 359.00,566.40 L359.00,566.40 L344.50,566.40Z" fill="#636363"/>
<path d="M344.50,566.11 C344.93,565.38 346.33,564.50 347.10,561.73 C347.87,558.95 348.55,552.48 349.10,549.46 C349.65,546.45 349.95,547.81 350.40,543.62 C350.85,539.44 351.35,528.44 351.80,524.35 C352.25,520.26 352.65,521.82 353.10,519.10 C353.55,516.37 354.15,508.29 354.50,508.00 C354.85,507.71 354.87,515.30 355.20,517.34 C355.53,519.39 356.07,517.73 356.50,520.26 C356.93,522.79 357.35,528.63 357.80,532.53 C358.25,536.42 358.75,541.29 359.20,543.62 C359.65,545.96 360.05,546.25 360.50,546.54 C360.95,546.84 361.45,545.38 361.90,545.38 C362.35,545.38 362.75,545.47 363.20,546.54 C363.65,547.61 364.15,550.24 364.60,551.80 C365.05,553.36 365.45,556.28 365.90,555.89 C366.35,555.50 366.85,550.34 367.30,549.46 C367.75,548.59 368.15,549.27 368.60,550.63 C369.05,551.99 369.43,555.60 370.00,557.64 C370.57,559.68 371.22,561.53 372.00,562.90 C372.78,564.26 373.70,565.28 374.70,565.82 C375.70,566.35 373.62,566.06 378.00,566.11 C382.38,566.16 397.17,566.11 401.00,566.11" fill="none" stroke="#1a1a1a" stroke-width="0.95" stroke-linejoin="round"/>
<line x1="344.50" y1="566.00" x2="401.00" y2="566.00" stroke="#444" stroke-width="0.8"/>
<rect x="344.5" y="504.5" width="57.0" height="62.0" fill="none" stroke="#777" stroke-width="1"/>
<line x1="343.00" y1="566.40" x2="344.50" y2="566.40" stroke="#666" stroke-width="0.6"/>
<text x="342.50" y="567.70" font-size="4.2" font-weight="normal" text-anchor="end" fill="#333">0</text>
<line x1="343.00" y1="554.72" x2="344.50" y2="554.72" stroke="#666" stroke-width="0.6"/>
<text x="342.50" y="556.02" font-size="4.2" font-weight="normal" text-anchor="end" fill="#333">20</text>
<line x1="343.00" y1="543.04" x2="344.50" y2="543.04" stroke="#666" stroke-width="0.6"/>
<text x="342.50" y="544.34" font-size="4.2" font-weight="normal" text-anchor="end" fill="#333">40</text>
<line x1="343.00" y1="531.36" x2="344.50" y2="531.36" stroke="#666" stroke-width="0.6"/>
<text x="342.50" y="532.66" font-size="4.2" font-weight="normal" text-anchor="end" fill="#333">60</text>
<line x1="343.00" y1="519.68" x2="344.50" y2="519.68" stroke="#666" stroke-width="0.6"/>
<text x="342.50" y="520.98" font-size="4.2" font-weight="normal" text-anchor="end" fill="#333">80</text>
<line x1="343.00" y1="508.00" x2="344.50" y2="508.00" stroke="#666" stroke-width="0.6"/>
<text x="342.50" y="509.30" font-size="4.2" font-weight="normal" text-anchor="end" fill="#333">100</text>
<line x1="344.50" y1="566.40" x2="344.50" y2="567.90" stroke="#666" stroke-width="0.6"/>
<text x="344.50" y="573.80" font-size="4.4" font-weight="normal" text-anchor="middle" fill="#333"></text>
<line x1="358.62" y1="566.40" x2="358.62" y2="567.90" stroke="#666" stroke-width="0.6"/>
<text x="358.62" y="573.80" font-size="4.4" font-weight="normal" text-anchor="middle" fill="#333">10⁰</text>
<line x1="372.75" y1="566.40" x2="372.75" y2="567.90" stroke="#666" stroke-width="0.6"/>
<text x="372.75" y="573.80" font-size="4.4" font-weight="normal" text-anchor="middle" fill="#333">10¹</text>
<line x1="386.88" y1="566.40" x2="386.88" y2="567.90" stroke="#666" stroke-width="0.6"/>
<text x="386.88" y="573.80" font-size="4.4" font-weight="normal" text-anchor="middle" fill="#333">10²</text>
<line x1="401.00" y1="566.40" x2="401.00" y2="567.90" stroke="#666" stroke-width="0.6"/>
<text x="401.00" y="573.80" font-size="4.4" font-weight="normal" text-anchor="middle" fill="#333">10³</text>
<path d="M411.50,562.90 C411.77,562.99 412.52,564.84 413.10,563.48 C413.68,562.12 414.33,558.81 415.00,554.72 C415.67,550.63 416.30,545.47 417.10,538.95 C417.90,532.43 419.12,520.65 419.80,515.59 C420.48,510.53 420.75,508.10 421.20,508.58 C421.65,509.07 421.95,512.38 422.50,518.51 C423.05,524.64 423.83,537.78 424.50,545.38 C425.17,552.97 426.05,560.56 426.50,564.06 C426.95,567.57 427.08,566.01 427.20,566.40 L427.20,566.40 L411.50,566.40Z" fill="#636363"/>
<path d="M411.50,565.82 C413.78,565.52 422.25,564.75 425.20,564.06 C428.15,563.38 427.85,562.41 429.20,561.73 C430.55,561.05 431.95,560.37 433.30,559.98 C434.65,559.59 436.07,559.88 437.30,559.39 C438.53,558.91 439.68,557.15 440.70,557.06 C441.72,556.96 442.62,558.81 443.40,558.81 C444.18,558.81 444.62,558.13 445.40,557.06 C446.18,555.99 447.32,554.33 448.10,552.38 C448.88,550.44 449.55,547.23 450.10,545.38 C450.65,543.53 450.95,543.82 451.40,541.29 C451.85,538.76 452.35,533.79 452.80,530.19 C453.25,526.59 453.65,523.18 454.10,519.68 C454.55,516.18 455.05,509.85 455.50,509.17 C455.95,508.49 456.35,511.80 456.80,515.59 C457.25,519.39 457.75,526.30 458.20,531.94 C458.65,537.59 459.07,544.50 459.50,549.46 C459.93,554.43 460.35,559.00 460.80,561.73 C461.25,564.45 461.67,565.09 462.20,565.82 C462.73,566.55 463.03,566.06 464.00,566.11 C464.97,566.16 467.33,566.11 468.00,566.11" fill="none" stroke="#1a1a1a" stroke-width="0.95" stroke-linejoin="round"/>
<line x1="411.50" y1="566.00" x2="468.00" y2="566.00" stroke="#444" stroke-width="0.8"/>
<rect x="411.5" y="504.5" width="57.0" height="62.0" fill="none" stroke="#777" stroke-width="1"/>
<line x1="410.00" y1="566.40" x2="411.50" y2="566.40" stroke="#666" stroke-width="0.6"/>
<text x="409.50" y="567.70" font-size="4.2" font-weight="normal" text-anchor="end" fill="#333">0</text>
<line x1="410.00" y1="554.72" x2="411.50" y2="554.72" stroke="#666" stroke-width="0.6"/>
<text x="409.50" y="556.02" font-size="4.2" font-weight="normal" text-anchor="end" fill="#333">20</text>
<line x1="410.00" y1="543.04" x2="411.50" y2="543.04" stroke="#666" stroke-width="0.6"/>
<text x="409.50" y="544.34" font-size="4.2" font-weight="normal" text-anchor="end" fill="#333">40</text>
<line x1="410.00" y1="531.36" x2="411.50" y2="531.36" stroke="#666" stroke-width="0.6"/>
<text x="409.50" y="532.66" font-size="4.2" font-weight="normal" text-anchor="end" fill="#333">60</text>
<line x1="410.00" y1="519.68" x2="411.50" y2="519.68" stroke="#666" stroke-width="0.6"/>
<text x="409.50" y="520.98" font-size="4.2" font-weight="normal" text-anchor="end" fill="#333">80</text>
<line x1="410.00" y1="508.00" x2="411.50" y2="508.00" stroke="#666" stroke-width="0.6"/>
<text x="409.50" y="509.30" font-size="4.2" font-weight="normal" text-anchor="end" fill="#333">100</text>
<line x1="411.50" y1="566.40" x2="411.50" y2="567.90" stroke="#666" stroke-width="0.6"/>
<text x="411.50" y="573.80" font-size="4.4" font-weight="normal" text-anchor="middle" fill="#333"></text>
<line x1="425.62" y1="566.40" x2="425.62" y2="567.90" stroke="#666" stroke-width="0.6"/>
<text x="425.62" y="573.80" font-size="4.4" font-weight="normal" text-anchor="middle" fill="#333">10⁰</text>
<line x1="439.75" y1="566.40" x2="439.75" y2="567.90" stroke="#666" stroke-width="0.6"/>
<text x="439.75" y="573.80" font-size="4.4" font-weight="normal" text-anchor="middle" fill="#333">10¹</text>
<line x1="453.88" y1="566.40" x2="453.88" y2="567.90" stroke="#666" stroke-width="0.6"/>
<text x="453.88" y="573.80" font-size="4.4" font-weight="normal" text-anchor="middle" fill="#333">10²</text>
<line x1="468.00" y1="566.40" x2="468.00" y2="567.90" stroke="#666" stroke-width="0.6"/>
<text x="468.00" y="573.80" font-size="4.4" font-weight="normal" text-anchor="middle" fill="#333">10³</text>
<path d="M78.00,607.73 C78.23,605.23 78.95,596.61 79.40,592.78 C79.85,588.94 80.18,586.74 80.70,584.73 C81.22,582.71 81.98,580.03 82.50,580.70 C83.02,581.37 83.35,584.92 83.80,588.75 C84.25,592.58 84.75,599.20 85.20,603.70 C85.65,608.20 86.00,612.23 86.50,615.78 C87.00,619.32 87.58,622.29 88.20,624.98 C88.82,627.66 89.53,630.34 90.20,631.88 C90.87,633.41 91.42,633.70 92.20,634.18 C92.98,634.65 94.00,634.46 94.90,634.75 C95.80,635.04 96.70,635.37 97.60,635.90 C98.50,636.43 99.73,637.53 100.30,637.91 C100.87,638.30 100.88,638.15 101.00,638.20 L101.00,638.20 L78.00,638.20Z" fill="#636363"/>
<path d="M78.00,637.91 C81.82,637.91 96.85,640.07 100.90,637.91 C104.95,635.76 101.92,629.34 102.30,624.98 C102.68,620.61 102.87,614.62 103.20,611.75 C103.53,608.88 104.00,609.74 104.30,607.73 C104.60,605.71 104.78,600.54 105.00,599.68 C105.22,598.81 105.38,601.40 105.60,602.55 C105.82,603.70 106.02,608.40 106.30,606.58 C106.58,604.75 107.00,595.75 107.30,591.62 C107.60,587.50 107.82,583.19 108.10,581.85 C108.38,580.51 108.68,581.47 109.00,583.58 C109.32,585.68 109.70,592.30 110.00,594.50 C110.30,596.70 110.52,594.79 110.80,596.80 C111.08,598.81 111.33,602.26 111.70,606.58 C112.07,610.89 112.48,618.27 113.00,622.68 C113.52,627.08 114.23,630.49 114.80,633.03 C115.37,635.56 113.12,637.10 116.40,637.91 C119.68,638.73 131.48,637.91 134.50,637.91" fill="none" stroke="#1a1a1a" stroke-width="0.95" stroke-linejoin="round"/>
<line x1="78.00" y1="637.80" x2="134.50" y2="637.80" stroke="#444" stroke-width="0.8"/>
<rect x="78.5" y="577.5" width="56.0" height="61.0" fill="none" stroke="#777" stroke-width="1"/>
<line x1="76.50" y1="638.20" x2="78.00" y2="638.20" stroke="#666" stroke-width="0.6"/>
<text x="76.00" y="639.50" font-size="4.2" font-weight="normal" text-anchor="end" fill="#333">0</text>
<line x1="76.50" y1="626.70" x2="78.00" y2="626.70" stroke="#666" stroke-width="0.6"/>
<text x="76.00" y="628.00" font-size="4.2" font-weight="normal" text-anchor="end" fill="#333">20</text>
<line x1="76.50" y1="615.20" x2="78.00" y2="615.20" stroke="#666" stroke-width="0.6"/>
<text x="76.00" y="616.50" font-size="4.2" font-weight="normal" text-anchor="end" fill="#333">40</text>
<line x1="76.50" y1="603.70" x2="78.00" y2="603.70" stroke="#666" stroke-width="0.6"/>
<text x="76.00" y="605.00" font-size="4.2" font-weight="normal" text-anchor="end" fill="#333">60</text>
<line x1="76.50" y1="592.20" x2="78.00" y2="592.20" stroke="#666" stroke-width="0.6"/>
<text x="76.00" y="593.50" font-size="4.2" font-weight="normal" text-anchor="end" fill="#333">80</text>
<line x1="76.50" y1="580.70" x2="78.00" y2="580.70" stroke="#666" stroke-width="0.6"/>
<text x="76.00" y="582.00" font-size="4.2" font-weight="normal" text-anchor="end" fill="#333">100</text>
<line x1="78.00" y1="638.20" x2="78.00" y2="639.70" stroke="#666" stroke-width="0.6"/>
<text x="78.00" y="645.60" font-size="4.4" font-weight="normal" text-anchor="middle" fill="#333"></text>
<line x1="92.12" y1="638.20" x2="92.12" y2="639.70" stroke="#666" stroke-width="0.6"/>
<text x="92.12" y="645.60" font-size="4.4" font-weight="normal" text-anchor="middle" fill="#333">10⁰</text>
<line x1="106.25" y1="638.20" x2="106.25" y2="639.70" stroke="#666" stroke-width="0.6"/>
<text x="106.25" y="645.60" font-size="4.4" font-weight="normal" text-anchor="middle" fill="#333">10¹</text>
<line x1="120.38" y1="638.20" x2="120.38" y2="639.70" stroke="#666" stroke-width="0.6"/>
<text x="120.38" y="645.60" font-size="4.4" font-weight="normal" text-anchor="middle" fill="#333">10²</text>
<line x1="134.50" y1="638.20" x2="134.50" y2="639.70" stroke="#666" stroke-width="0.6"/>
<text x="134.50" y="645.60" font-size="4.4" font-weight="normal" text-anchor="middle" fill="#333">10³</text>
<path d="M144.70,631.88 C144.98,630.73 145.90,628.81 146.40,624.98 C146.90,621.14 147.18,614.43 147.70,608.88 C148.22,603.32 148.93,595.94 149.50,591.62 C150.07,587.31 150.60,583.48 151.10,583.00 C151.60,582.52 152.05,584.63 152.50,588.75 C152.95,592.87 153.35,601.69 153.80,607.73 C154.25,613.76 154.75,620.47 155.20,624.98 C155.65,629.48 156.07,632.59 156.50,634.75 C156.93,636.91 157.47,637.34 157.80,637.91 C158.13,638.49 158.38,638.15 158.50,638.20 L158.50,638.20 L144.70,638.20Z" fill="#636363"/>
<path d="M144.70,637.91 C146.00,637.77 150.75,637.58 152.50,637.05 C154.25,636.52 154.53,635.80 155.20,634.75 C155.87,633.70 156.07,633.70 156.50,630.73 C156.93,627.75 157.35,622.29 157.80,616.93 C158.25,611.56 158.75,603.41 159.20,598.53 C159.65,593.64 160.05,590.28 160.50,587.60 C160.95,584.92 161.53,583.58 161.90,582.43 C162.27,581.28 162.43,579.36 162.70,580.70 C162.97,582.04 163.23,587.31 163.50,590.48 C163.77,593.64 164.02,596.99 164.30,599.68 C164.58,602.36 164.82,602.74 165.20,606.58 C165.58,610.41 166.15,617.98 166.60,622.68 C167.05,627.37 167.45,632.26 167.90,634.75 C168.35,637.24 168.78,637.24 169.30,637.62 C169.82,638.01 165.68,637.00 171.00,637.05 C176.32,637.10 196.17,637.77 201.20,637.91" fill="none" stroke="#1a1a1a" stroke-width="0.95" stroke-linejoin="round"/>
<line x1="144.70" y1="637.80" x2="201.20" y2="637.80" stroke="#444" stroke-width="0.8"/>
<rect x="144.5" y="577.5" width="57.0" height="61.0" fill="none" stroke="#777" stroke-width="1"/>
<line x1="143.20" y1="638.20" x2="144.70" y2="638.20" stroke="#666" stroke-width="0.6"/>
<text x="142.70" y="639.50" font-size="4.2" font-weight="normal" text-anchor="end" fill="#333">0</text>
<line x1="143.20" y1="626.70" x2="144.70" y2="626.70" stroke="#666" stroke-width="0.6"/>
<text x="142.70" y="628.00" font-size="4.2" font-weight="normal" text-anchor="end" fill="#333">20</text>
<line x1="143.20" y1="615.20" x2="144.70" y2="615.20" stroke="#666" stroke-width="0.6"/>
<text x="142.70" y="616.50" font-size="4.2" font-weight="normal" text-anchor="end" fill="#333">40</text>
<line x1="143.20" y1="603.70" x2="144.70" y2="603.70" stroke="#666" stroke-width="0.6"/>
<text x="142.70" y="605.00" font-size="4.2" font-weight="normal" text-anchor="end" fill="#333">60</text>
<line x1="143.20" y1="592.20" x2="144.70" y2="592.20" stroke="#666" stroke-width="0.6"/>
<text x="142.70" y="593.50" font-size="4.2" font-weight="normal" text-anchor="end" fill="#333">80</text>
<line x1="143.20" y1="580.70" x2="144.70" y2="580.70" stroke="#666" stroke-width="0.6"/>
<text x="142.70" y="582.00" font-size="4.2" font-weight="normal" text-anchor="end" fill="#333">100</text>
<line x1="144.70" y1="638.20" x2="144.70" y2="639.70" stroke="#666" stroke-width="0.6"/>
<text x="144.70" y="645.60" font-size="4.4" font-weight="normal" text-anchor="middle" fill="#333"></text>
<line x1="158.82" y1="638.20" x2="158.82" y2="639.70" stroke="#666" stroke-width="0.6"/>
<text x="158.82" y="645.60" font-size="4.4" font-weight="normal" text-anchor="middle" fill="#333">10⁰</text>
<line x1="172.95" y1="638.20" x2="172.95" y2="639.70" stroke="#666" stroke-width="0.6"/>
<text x="172.95" y="645.60" font-size="4.4" font-weight="normal" text-anchor="middle" fill="#333">10¹</text>
<line x1="187.07" y1="638.20" x2="187.07" y2="639.70" stroke="#666" stroke-width="0.6"/>
<text x="187.07" y="645.60" font-size="4.4" font-weight="normal" text-anchor="middle" fill="#333">10²</text>
<line x1="201.20" y1="638.20" x2="201.20" y2="639.70" stroke="#666" stroke-width="0.6"/>
<text x="201.20" y="645.60" font-size="4.4" font-weight="normal" text-anchor="middle" fill="#333">10³</text>
<path d="M211.40,627.85 C211.68,626.99 212.48,626.51 213.10,622.68 C213.72,618.84 214.43,610.50 215.10,604.85 C215.77,599.20 216.50,592.58 217.10,588.75 C217.70,584.92 218.20,581.37 218.70,581.85 C219.20,582.33 219.58,587.12 220.10,591.62 C220.62,596.13 221.18,603.70 221.80,608.88 C222.42,614.05 223.12,619.32 223.80,622.68 C224.48,626.03 225.22,626.80 225.90,629.00 C226.58,631.20 227.35,634.41 227.90,635.90 C228.45,637.39 228.85,637.53 229.20,637.91 C229.55,638.30 229.87,638.15 230.00,638.20 L230.00,638.20 L211.40,638.20Z" fill="#636363"/>
<path d="M211.40,637.91 C213.25,637.91 220.20,638.06 222.50,637.91 C224.80,637.77 224.30,637.58 225.20,637.05 C226.10,636.52 227.12,636.09 227.90,634.75 C228.68,633.41 229.35,631.01 229.90,629.00 C230.45,626.99 230.75,624.02 231.20,622.68 C231.65,621.33 232.15,623.25 232.60,620.95 C233.05,618.65 233.52,613.76 233.90,608.88 C234.28,603.99 234.55,594.98 234.90,591.62 C235.25,588.27 235.65,590.38 236.00,588.75 C236.35,587.12 236.70,580.51 237.00,581.85 C237.30,583.19 237.53,596.99 237.80,596.80 C238.07,596.61 238.28,582.04 238.60,580.70 C238.92,579.36 239.35,584.73 239.70,588.75 C240.05,592.77 240.32,599.87 240.70,604.85 C241.08,609.83 241.55,614.15 242.00,618.65 C242.45,623.15 242.83,629.19 243.40,631.88 C243.97,634.56 244.73,633.74 245.40,634.75 C246.07,635.76 243.65,637.39 247.40,637.91 C251.15,638.44 264.48,637.91 267.90,637.91" fill="none" stroke="#1a1a1a" stroke-width="0.95" stroke-linejoin="round"/>
<line x1="211.40" y1="637.80" x2="267.90" y2="637.80" stroke="#444" stroke-width="0.8"/>
<rect x="211.5" y="577.5" width="56.0" height="61.0" fill="none" stroke="#777" stroke-width="1"/>
<line x1="209.90" y1="638.20" x2="211.40" y2="638.20" stroke="#666" stroke-width="0.6"/>
<text x="209.40" y="639.50" font-size="4.2" font-weight="normal" text-anchor="end" fill="#333">0</text>
<line x1="209.90" y1="626.70" x2="211.40" y2="626.70" stroke="#666" stroke-width="0.6"/>
<text x="209.40" y="628.00" font-size="4.2" font-weight="normal" text-anchor="end" fill="#333">20</text>
<line x1="209.90" y1="615.20" x2="211.40" y2="615.20" stroke="#666" stroke-width="0.6"/>
<text x="209.40" y="616.50" font-size="4.2" font-weight="normal" text-anchor="end" fill="#333">40</text>
<line x1="209.90" y1="603.70" x2="211.40" y2="603.70" stroke="#666" stroke-width="0.6"/>
<text x="209.40" y="605.00" font-size="4.2" font-weight="normal" text-anchor="end" fill="#333">60</text>
<line x1="209.90" y1="592.20" x2="211.40" y2="592.20" stroke="#666" stroke-width="0.6"/>
<text x="209.40" y="593.50" font-size="4.2" font-weight="normal" text-anchor="end" fill="#333">80</text>
<line x1="209.90" y1="580.70" x2="211.40" y2="580.70" stroke="#666" stroke-width="0.6"/>
<text x="209.40" y="582.00" font-size="4.2" font-weight="normal" text-anchor="end" fill="#333">100</text>
<line x1="211.40" y1="638.20" x2="211.40" y2="639.70" stroke="#666" stroke-width="0.6"/>
<text x="211.40" y="645.60" font-size="4.4" font-weight="normal" text-anchor="middle" fill="#333"></text>
<line x1="225.53" y1="638.20" x2="225.53" y2="639.70" stroke="#666" stroke-width="0.6"/>
<text x="225.53" y="645.60" font-size="4.4" font-weight="normal" text-anchor="middle" fill="#333">10⁰</text>
<line x1="239.65" y1="638.20" x2="239.65" y2="639.70" stroke="#666" stroke-width="0.6"/>
<text x="239.65" y="645.60" font-size="4.4" font-weight="normal" text-anchor="middle" fill="#333">10¹</text>
<line x1="253.78" y1="638.20" x2="253.78" y2="639.70" stroke="#666" stroke-width="0.6"/>
<text x="253.78" y="645.60" font-size="4.4" font-weight="normal" text-anchor="middle" fill="#333">10²</text>
<line x1="267.90" y1="638.20" x2="267.90" y2="639.70" stroke="#666" stroke-width="0.6"/>
<text x="267.90" y="645.60" font-size="4.4" font-weight="normal" text-anchor="middle" fill="#333">10³</text>
<path d="M278.00,624.98 C278.23,622.29 278.83,614.43 279.40,608.88 C279.97,603.32 280.73,596.13 281.40,591.62 C282.07,587.12 282.83,581.85 283.40,581.85 C283.97,581.85 284.35,586.64 284.80,591.62 C285.25,596.61 285.65,605.52 286.10,611.75 C286.55,617.98 287.05,624.98 287.50,629.00 C287.95,633.02 288.35,634.41 288.80,635.90 C289.25,637.39 289.83,637.53 290.20,637.91 C290.57,638.30 290.87,638.15 291.00,638.20 L291.00,638.20 L278.00,638.20Z" fill="#636363"/>
<path d="M278.00,637.91 C279.47,637.91 284.88,638.25 286.80,637.91 C288.72,637.58 288.60,636.24 289.50,635.90 C290.40,635.56 291.30,636.09 292.20,635.90 C293.10,635.71 294.12,635.42 294.90,634.75 C295.68,634.08 296.35,631.97 296.90,631.88 C297.45,631.78 297.63,635.33 298.20,634.18 C298.77,633.03 299.62,628.04 300.30,624.98 C300.98,621.91 301.75,619.80 302.30,615.78 C302.85,611.75 303.15,605.71 303.60,600.83 C304.05,595.94 304.55,589.33 305.00,586.45 C305.45,583.58 305.85,582.90 306.30,583.58 C306.75,584.25 307.18,590.95 307.70,590.48 C308.22,590.00 308.95,580.99 309.40,580.70 C309.85,580.41 309.97,584.92 310.40,588.75 C310.83,592.58 311.57,603.70 312.00,603.70 C312.43,603.70 312.72,592.20 313.00,588.75 C313.28,585.30 313.35,583.00 313.70,583.00 C314.05,583.00 314.65,585.97 315.10,588.75 C315.55,591.53 315.95,596.32 316.40,599.68 C316.85,603.03 317.35,606.00 317.80,608.88 C318.25,611.75 318.65,614.24 319.10,616.93 C319.55,619.61 320.00,622.48 320.50,624.98 C321.00,627.47 321.55,629.86 322.10,631.88 C322.65,633.89 323.18,636.04 323.80,637.05 C324.42,638.06 324.02,637.77 325.80,637.91 C327.58,638.06 333.05,637.91 334.50,637.91" fill="none" stroke="#1a1a1a" stroke-width="0.95" stroke-linejoin="round"/>
<line x1="278.00" y1="637.80" x2="334.50" y2="637.80" stroke="#444" stroke-width="0.8"/>
<rect x="278.5" y="577.5" width="56.0" height="61.0" fill="none" stroke="#777" stroke-width="1"/>
<line x1="276.50" y1="638.20" x2="278.00" y2="638.20" stroke="#666" stroke-width="0.6"/>
<text x="276.00" y="639.50" font-size="4.2" font-weight="normal" text-anchor="end" fill="#333">0</text>
<line x1="276.50" y1="626.70" x2="278.00" y2="626.70" stroke="#666" stroke-width="0.6"/>
<text x="276.00" y="628.00" font-size="4.2" font-weight="normal" text-anchor="end" fill="#333">20</text>
<line x1="276.50" y1="615.20" x2="278.00" y2="615.20" stroke="#666" stroke-width="0.6"/>
<text x="276.00" y="616.50" font-size="4.2" font-weight="normal" text-anchor="end" fill="#333">40</text>
<line x1="276.50" y1="603.70" x2="278.00" y2="603.70" stroke="#666" stroke-width="0.6"/>
<text x="276.00" y="605.00" font-size="4.2" font-weight="normal" text-anchor="end" fill="#333">60</text>
<line x1="276.50" y1="592.20" x2="278.00" y2="592.20" stroke="#666" stroke-width="0.6"/>
<text x="276.00" y="593.50" font-size="4.2" font-weight="normal" text-anchor="end" fill="#333">80</text>
<line x1="276.50" y1="580.70" x2="278.00" y2="580.70" stroke="#666" stroke-width="0.6"/>
<text x="276.00" y="582.00" font-size="4.2" font-weight="normal" text-anchor="end" fill="#333">100</text>
<line x1="278.00" y1="638.20" x2="278.00" y2="639.70" stroke="#666" stroke-width="0.6"/>
<text x="278.00" y="645.60" font-size="4.4" font-weight="normal" text-anchor="middle" fill="#333"></text>
<line x1="292.12" y1="638.20" x2="292.12" y2="639.70" stroke="#666" stroke-width="0.6"/>
<text x="292.12" y="645.60" font-size="4.4" font-weight="normal" text-anchor="middle" fill="#333">10⁰</text>
<line x1="306.25" y1="638.20" x2="306.25" y2="639.70" stroke="#666" stroke-width="0.6"/>
<text x="306.25" y="645.60" font-size="4.4" font-weight="normal" text-anchor="middle" fill="#333">10¹</text>
<line x1="320.38" y1="638.20" x2="320.38" y2="639.70" stroke="#666" stroke-width="0.6"/>
<text x="320.38" y="645.60" font-size="4.4" font-weight="normal" text-anchor="middle" fill="#333">10²</text>
<line x1="334.50" y1="638.20" x2="334.50" y2="639.70" stroke="#666" stroke-width="0.6"/>
<text x="334.50" y="645.60" font-size="4.4" font-weight="normal" text-anchor="middle" fill="#333">10³</text>
<path d="M344.50,622.68 C344.82,619.70 345.75,610.50 346.40,604.85 C347.05,599.20 347.80,592.58 348.40,588.75 C349.00,584.92 349.43,580.70 350.00,581.85 C350.57,583.00 351.28,590.00 351.80,595.65 C352.32,601.30 352.65,609.93 353.10,615.78 C353.55,621.62 354.05,627.28 354.50,630.73 C354.95,634.17 355.35,635.28 355.80,636.48 C356.25,637.67 356.83,637.62 357.20,637.91 C357.57,638.20 357.87,638.15 358.00,638.20 L358.00,638.20 L344.50,638.20Z" fill="#636363"/>
<path d="M344.50,637.91 C346.50,637.91 353.93,638.06 356.50,637.91 C359.07,637.77 359.12,638.06 359.90,637.05 C360.68,636.04 360.75,634.75 361.20,631.88 C361.65,629.00 362.15,622.96 362.60,619.80 C363.05,616.64 363.47,616.25 363.90,612.90 C364.33,609.55 364.75,602.07 365.20,599.68 C365.65,597.28 366.15,599.39 366.60,598.53 C367.05,597.66 367.45,596.80 367.90,594.50 C368.35,592.20 368.85,587.02 369.30,584.73 C369.75,582.43 370.15,579.36 370.60,580.70 C371.05,582.04 371.55,587.79 372.00,592.78 C372.45,597.76 372.85,605.62 373.30,610.60 C373.75,615.58 374.25,619.80 374.70,622.68 C375.15,625.55 375.55,625.84 376.00,627.85 C376.45,629.86 376.83,633.07 377.40,634.75 C377.97,636.43 375.47,637.39 379.40,637.91 C383.33,638.44 397.40,637.91 401.00,637.91" fill="none" stroke="#1a1a1a" stroke-width="0.95" stroke-linejoin="round"/>
<line x1="344.50" y1="637.80" x2="401.00" y2="637.80" stroke="#444" stroke-width="0.8"/>
<rect x="344.5" y="577.5" width="57.0" height="61.0" fill="none" stroke="#777" stroke-width="1"/>
<line x1="343.00" y1="638.20" x2="344.50" y2="638.20" stroke="#666" stroke-width="0.6"/>
<text x="342.50" y="639.50" font-size="4.2" font-weight="normal" text-anchor="end" fill="#333">0</text>
<line x1="343.00" y1="626.70" x2="344.50" y2="626.70" stroke="#666" stroke-width="0.6"/>
<text x="342.50" y="628.00" font-size="4.2" font-weight="normal" text-anchor="end" fill="#333">20</text>
<line x1="343.00" y1="615.20" x2="344.50" y2="615.20" stroke="#666" stroke-width="0.6"/>
<text x="342.50" y="616.50" font-size="4.2" font-weight="normal" text-anchor="end" fill="#333">40</text>
<line x1="343.00" y1="603.70" x2="344.50" y2="603.70" stroke="#666" stroke-width="0.6"/>
<text x="342.50" y="605.00" font-size="4.2" font-weight="normal" text-anchor="end" fill="#333">60</text>
<line x1="343.00" y1="592.20" x2="344.50" y2="592.20" stroke="#666" stroke-width="0.6"/>
<text x="342.50" y="593.50" font-size="4.2" font-weight="normal" text-anchor="end" fill="#333">80</text>
<line x1="343.00" y1="580.70" x2="344.50" y2="580.70" stroke="#666" stroke-width="0.6"/>
<text x="342.50" y="582.00" font-size="4.2" font-weight="normal" text-anchor="end" fill="#333">100</text>
<line x1="344.50" y1="638.20" x2="344.50" y2="639.70" stroke="#666" stroke-width="0.6"/>
<text x="344.50" y="645.60" font-size="4.4" font-weight="normal" text-anchor="middle" fill="#333"></text>
<line x1="358.62" y1="638.20" x2="358.62" y2="639.70" stroke="#666" stroke-width="0.6"/>
<text x="358.62" y="645.60" font-size="4.4" font-weight="normal" text-anchor="middle" fill="#333">10⁰</text>
<line x1="372.75" y1="638.20" x2="372.75" y2="639.70" stroke="#666" stroke-width="0.6"/>
<text x="372.75" y="645.60" font-size="4.4" font-weight="normal" text-anchor="middle" fill="#333">10¹</text>
<line x1="386.88" y1="638.20" x2="386.88" y2="639.70" stroke="#666" stroke-width="0.6"/>
<text x="386.88" y="645.60" font-size="4.4" font-weight="normal" text-anchor="middle" fill="#333">10²</text>
<line x1="401.00" y1="638.20" x2="401.00" y2="639.70" stroke="#666" stroke-width="0.6"/>
<text x="401.00" y="645.60" font-size="4.4" font-weight="normal" text-anchor="middle" fill="#333">10³</text>
<path d="M411.50,637.05 C411.65,636.95 411.92,637.53 412.40,636.48 C412.88,635.42 413.73,634.37 414.40,630.73 C415.07,627.08 415.72,620.66 416.40,614.62 C417.08,608.59 417.82,599.87 418.50,594.50 C419.18,589.13 420.05,584.73 420.50,582.43 C420.95,580.13 420.87,579.17 421.20,580.70 C421.53,582.23 422.07,586.93 422.50,591.62 C422.93,596.32 423.35,603.32 423.80,608.88 C424.25,614.43 424.75,620.66 425.20,624.98 C425.65,629.29 426.05,632.59 426.50,634.75 C426.95,636.91 427.57,637.34 427.90,637.91 C428.23,638.49 428.40,638.15 428.50,638.20 L428.50,638.20 L411.50,638.20Z" fill="#636363"/>
<path d="M411.50,635.90 C411.77,635.71 412.38,635.42 413.10,634.75 C413.82,634.08 415.02,632.55 415.80,631.88 C416.58,631.20 417.13,630.73 417.80,630.73 C418.47,630.73 419.13,631.78 419.80,631.88 C420.47,631.97 421.13,631.97 421.80,631.30 C422.47,630.63 423.12,629.29 423.80,627.85 C424.48,626.41 425.22,625.36 425.90,622.68 C426.58,619.99 427.35,615.10 427.90,611.75 C428.45,608.40 428.75,605.71 429.20,602.55 C429.65,599.39 430.20,594.79 430.60,592.78 C431.00,590.76 431.27,589.33 431.60,590.48 C431.93,591.62 432.28,600.15 432.60,599.68 C432.92,599.20 433.17,589.42 433.50,587.60 C433.83,585.78 434.23,588.08 434.60,588.75 C434.97,589.42 435.37,592.97 435.70,591.62 C436.03,590.28 436.28,580.70 436.60,580.70 C436.92,580.70 437.27,588.65 437.60,591.62 C437.93,594.60 438.20,595.65 438.60,598.53 C439.00,601.40 439.55,604.85 440.00,608.88 C440.45,612.90 440.85,619.70 441.30,622.68 C441.75,625.65 442.25,625.84 442.70,626.70 C443.15,627.56 443.55,627.85 444.00,627.85 C444.45,627.85 444.95,626.22 445.40,626.70 C445.85,627.18 446.25,629.38 446.70,630.73 C447.15,632.07 447.53,633.98 448.10,634.75 C448.67,635.52 449.43,635.33 450.10,635.33 C450.77,635.33 451.43,635.33 452.10,634.75 C452.77,634.17 453.53,631.88 454.10,631.88 C454.67,631.88 455.05,633.89 455.50,634.75 C455.95,635.61 456.25,636.52 456.80,637.05 C457.35,637.58 456.93,637.77 458.80,637.91 C460.67,638.06 466.47,637.91 468.00,637.91" fill="none" stroke="#1a1a1a" stroke-width="0.95" stroke-linejoin="round"/>
<line x1="411.50" y1="637.80" x2="468.00" y2="637.80" stroke="#444" stroke-width="0.8"/>
<rect x="411.5" y="577.5" width="57.0" height="61.0" fill="none" stroke="#777" stroke-width="1"/>
<line x1="410.00" y1="638.20" x2="411.50" y2="638.20" stroke="#666" stroke-width="0.6"/>
<text x="409.50" y="639.50" font-size="4.2" font-weight="normal" text-anchor="end" fill="#333">0</text>
<line x1="410.00" y1="626.70" x2="411.50" y2="626.70" stroke="#666" stroke-width="0.6"/>
<text x="409.50" y="628.00" font-size="4.2" font-weight="normal" text-anchor="end" fill="#333">20</text>
<line x1="410.00" y1="615.20" x2="411.50" y2="615.20" stroke="#666" stroke-width="0.6"/>
<text x="409.50" y="616.50" font-size="4.2" font-weight="normal" text-anchor="end" fill="#333">40</text>
<line x1="410.00" y1="603.70" x2="411.50" y2="603.70" stroke="#666" stroke-width="0.6"/>
<text x="409.50" y="605.00" font-size="4.2" font-weight="normal" text-anchor="end" fill="#333">60</text>
<line x1="410.00" y1="592.20" x2="411.50" y2="592.20" stroke="#666" stroke-width="0.6"/>
<text x="409.50" y="593.50" font-size="4.2" font-weight="normal" text-anchor="end" fill="#333">80</text>
<line x1="410.00" y1="580.70" x2="411.50" y2="580.70" stroke="#666" stroke-width="0.6"/>
<text x="409.50" y="582.00" font-size="4.2" font-weight="normal" text-anchor="end" fill="#333">100</text>
<line x1="411.50" y1="638.20" x2="411.50" y2="639.70" stroke="#666" stroke-width="0.6"/>
<text x="411.50" y="645.60" font-size="4.4" font-weight="normal" text-anchor="middle" fill="#333"></text>
<line x1="425.62" y1="638.20" x2="425.62" y2="639.70" stroke="#666" stroke-width="0.6"/>
<text x="425.62" y="645.60" font-size="4.4" font-weight="normal" text-anchor="middle" fill="#333">10⁰</text>
<line x1="439.75" y1="638.20" x2="439.75" y2="639.70" stroke="#666" stroke-width="0.6"/>
<text x="439.75" y="645.60" font-size="4.4" font-weight="normal" text-anchor="middle" fill="#333">10¹</text>
<line x1="453.88" y1="638.20" x2="453.88" y2="639.70" stroke="#666" stroke-width="0.6"/>
<text x="453.88" y="645.60" font-size="4.4" font-weight="normal" text-anchor="middle" fill="#333">10²</text>
<line x1="468.00" y1="638.20" x2="468.00" y2="639.70" stroke="#666" stroke-width="0.6"/>
<text x="468.00" y="645.60" font-size="4.4" font-weight="normal" text-anchor="middle" fill="#333">10³</text>
<path d="M78.00,683.75 C78.23,680.88 78.95,671.00 79.40,666.50 C79.85,662.00 80.18,659.02 80.70,656.73 C81.22,654.43 81.98,652.22 82.50,652.70 C83.02,653.18 83.35,655.96 83.80,659.60 C84.25,663.24 84.75,669.85 85.20,674.55 C85.65,679.25 86.00,684.04 86.50,687.78 C87.00,691.51 87.58,694.48 88.20,696.98 C88.82,699.47 89.53,701.19 90.20,702.73 C90.87,704.26 91.53,705.60 92.20,706.18 C92.87,706.75 93.53,706.08 94.20,706.18 C94.87,706.27 95.42,706.37 96.20,706.75 C96.98,707.13 98.12,707.95 98.90,708.48 C99.68,709.00 100.38,709.62 100.90,709.91 C101.42,710.20 101.82,710.15 102.00,710.20 L102.00,710.20 L78.00,710.20Z" fill="#636363"/>
<path d="M78.00,709.91 C78.25,709.86 78.93,709.96 79.50,709.62 C80.07,709.29 80.75,709.05 81.40,707.90 C82.05,706.75 82.72,704.93 83.40,702.73 C84.08,700.52 84.93,697.36 85.50,694.68 C86.07,691.99 86.35,688.64 86.80,686.62 C87.25,684.61 87.87,684.90 88.20,682.60 C88.53,680.30 88.58,675.32 88.80,672.83 C89.02,670.33 89.27,669.66 89.50,667.65 C89.73,665.64 89.87,662.76 90.20,660.75 C90.53,658.74 91.12,655.96 91.50,655.58 C91.88,655.19 92.17,657.59 92.50,658.45 C92.83,659.31 93.15,661.04 93.50,660.75 C93.85,660.46 94.25,658.07 94.60,656.73 C94.95,655.38 95.28,652.22 95.60,652.70 C95.92,653.18 96.17,655.58 96.50,659.60 C96.83,663.62 97.25,671.48 97.60,676.85 C97.95,682.22 98.27,687.49 98.60,691.80 C98.93,696.11 99.28,699.85 99.60,702.73 C99.92,705.60 100.17,707.85 100.50,709.05 C100.83,710.25 95.93,709.77 101.60,709.91 C107.27,710.06 129.02,709.91 134.50,709.91" fill="none" stroke="#1a1a1a" stroke-width="0.95" stroke-linejoin="round"/>
<line x1="78.00" y1="709.80" x2="134.50" y2="709.80" stroke="#444" stroke-width="0.8"/>
<rect x="78.5" y="649.5" width="56.0" height="61.0" fill="none" stroke="#777" stroke-width="1"/>
<line x1="76.50" y1="710.20" x2="78.00" y2="710.20" stroke="#666" stroke-width="0.6"/>
<text x="76.00" y="711.50" font-size="4.2" font-weight="normal" text-anchor="end" fill="#333">0</text>
<line x1="76.50" y1="698.70" x2="78.00" y2="698.70" stroke="#666" stroke-width="0.6"/>
<text x="76.00" y="700.00" font-size="4.2" font-weight="normal" text-anchor="end" fill="#333">20</text>
<line x1="76.50" y1="687.20" x2="78.00" y2="687.20" stroke="#666" stroke-width="0.6"/>
<text x="76.00" y="688.50" font-size="4.2" font-weight="normal" text-anchor="end" fill="#333">40</text>
<line x1="76.50" y1="675.70" x2="78.00" y2="675.70" stroke="#666" stroke-width="0.6"/>
<text x="76.00" y="677.00" font-size="4.2" font-weight="normal" text-anchor="end" fill="#333">60</text>
<line x1="76.50" y1="664.20" x2="78.00" y2="664.20" stroke="#666" stroke-width="0.6"/>
<text x="76.00" y="665.50" font-size="4.2" font-weight="normal" text-anchor="end" fill="#333">80</text>
<line x1="76.50" y1="652.70" x2="78.00" y2="652.70" stroke="#666" stroke-width="0.6"/>
<text x="76.00" y="654.00" font-size="4.2" font-weight="normal" text-anchor="end" fill="#333">100</text>
<line x1="78.00" y1="710.20" x2="78.00" y2="711.70" stroke="#666" stroke-width="0.6"/>
<text x="78.00" y="717.60" font-size="4.4" font-weight="normal" text-anchor="middle" fill="#333"></text>
<line x1="92.12" y1="710.20" x2="92.12" y2="711.70" stroke="#666" stroke-width="0.6"/>
<text x="92.12" y="717.60" font-size="4.4" font-weight="normal" text-anchor="middle" fill="#333">10⁰</text>
<line x1="106.25" y1="710.20" x2="106.25" y2="711.70" stroke="#666" stroke-width="0.6"/>
<text x="106.25" y="717.60" font-size="4.4" font-weight="normal" text-anchor="middle" fill="#333">10¹</text>
<line x1="120.38" y1="710.20" x2="120.38" y2="711.70" stroke="#666" stroke-width="0.6"/>
<text x="120.38" y="717.60" font-size="4.4" font-weight="normal" text-anchor="middle" fill="#333">10²</text>
<line x1="134.50" y1="710.20" x2="134.50" y2="711.70" stroke="#666" stroke-width="0.6"/>
<text x="134.50" y="717.60" font-size="4.4" font-weight="normal" text-anchor="middle" fill="#333">10³</text>
<path d="M144.70,703.88 C144.98,702.34 145.90,698.89 146.40,694.68 C146.90,690.46 147.18,684.23 147.70,678.58 C148.22,672.92 148.93,664.68 149.50,660.75 C150.07,656.82 150.60,655.00 151.10,655.00 C151.60,655.00 152.05,656.44 152.50,660.75 C152.95,665.06 153.35,674.36 153.80,680.88 C154.25,687.39 154.75,695.35 155.20,699.85 C155.65,704.35 156.07,706.22 156.50,707.90 C156.93,709.58 157.47,709.53 157.80,709.91 C158.13,710.30 158.38,710.15 158.50,710.20 L158.50,710.20 L144.70,710.20Z" fill="#636363"/>
<path d="M144.70,709.91 C144.98,709.39 145.78,707.95 146.40,706.75 C147.02,705.55 147.73,704.35 148.40,702.73 C149.07,701.10 149.72,699.66 150.40,696.98 C151.08,694.29 151.93,691.03 152.50,686.62 C153.07,682.22 153.40,675.70 153.80,670.53 C154.20,665.35 154.60,658.55 154.90,655.58 C155.20,652.60 155.33,652.22 155.60,652.70 C155.87,653.18 156.13,655.48 156.50,658.45 C156.87,661.42 157.35,666.31 157.80,670.53 C158.25,674.74 158.75,679.34 159.20,683.75 C159.65,688.16 160.05,693.43 160.50,696.98 C160.95,700.52 161.45,703.01 161.90,705.03 C162.35,707.04 162.65,708.24 163.20,709.05 C163.75,709.86 158.87,709.77 165.20,709.91 C171.53,710.06 195.20,709.91 201.20,709.91" fill="none" stroke="#1a1a1a" stroke-width="0.95" stroke-linejoin="round"/>
<line x1="144.70" y1="709.80" x2="201.20" y2="709.80" stroke="#444" stroke-width="0.8"/>
<rect x="144.5" y="649.5" width="57.0" height="61.0" fill="none" stroke="#777" stroke-width="1"/>
<line x1="143.20" y1="710.20" x2="144.70" y2="710.20" stroke="#666" stroke-width="0.6"/>
<text x="142.70" y="711.50" font-size="4.2" font-weight="normal" text-anchor="end" fill="#333">0</text>
<line x1="143.20" y1="698.70" x2="144.70" y2="698.70" stroke="#666" stroke-width="0.6"/>
<text x="142.70" y="700.00" font-size="4.2" font-weight="normal" text-anchor="end" fill="#333">20</text>
<line x1="143.20" y1="687.20" x2="144.70" y2="687.20" stroke="#666" stroke-width="0.6"/>
<text x="142.70" y="688.50" font-size="4.2" font-weight="normal" text-anchor="end" fill="#333">40</text>
<line x1="143.20" y1="675.70" x2="144.70" y2="675.70" stroke="#666" stroke-width="0.6"/>
<text x="142.70" y="677.00" font-size="4.2" font-weight="normal" text-anchor="end" fill="#333">60</text>
<line x1="143.20" y1="664.20" x2="144.70" y2="664.20" stroke="#666" stroke-width="0.6"/>
<text x="142.70" y="665.50" font-size="4.2" font-weight="normal" text-anchor="end" fill="#333">80</text>
<line x1="143.20" y1="652.70" x2="144.70" y2="652.70" stroke="#666" stroke-width="0.6"/>
<text x="142.70" y="654.00" font-size="4.2" font-weight="normal" text-anchor="end" fill="#333">100</text>
<line x1="144.70" y1="710.20" x2="144.70" y2="711.70" stroke="#666" stroke-width="0.6"/>
<text x="144.70" y="717.60" font-size="4.4" font-weight="normal" text-anchor="middle" fill="#333"></text>
<line x1="158.82" y1="710.20" x2="158.82" y2="711.70" stroke="#666" stroke-width="0.6"/>
<text x="158.82" y="717.60" font-size="4.4" font-weight="normal" text-anchor="middle" fill="#333">10⁰</text>
<line x1="172.95" y1="710.20" x2="172.95" y2="711.70" stroke="#666" stroke-width="0.6"/>
<text x="172.95" y="717.60" font-size="4.4" font-weight="normal" text-anchor="middle" fill="#333">10¹</text>
<line x1="187.07" y1="710.20" x2="187.07" y2="711.70" stroke="#666" stroke-width="0.6"/>
<text x="187.07" y="717.60" font-size="4.4" font-weight="normal" text-anchor="middle" fill="#333">10²</text>
<line x1="201.20" y1="710.20" x2="201.20" y2="711.70" stroke="#666" stroke-width="0.6"/>
<text x="201.20" y="717.60" font-size="4.4" font-weight="normal" text-anchor="middle" fill="#333">10³</text>
<path d="M211.40,699.85 C211.68,698.99 212.48,698.51 213.10,694.68 C213.72,690.84 214.43,682.50 215.10,676.85 C215.77,671.20 216.50,664.58 217.10,660.75 C217.70,656.92 218.20,653.37 218.70,653.85 C219.20,654.33 219.58,659.31 220.10,663.62 C220.62,667.94 221.18,675.03 221.80,679.73 C222.42,684.42 223.12,688.45 223.80,691.80 C224.48,695.15 225.22,697.45 225.90,699.85 C226.58,702.25 227.23,704.50 227.90,706.18 C228.57,707.85 229.38,709.24 229.90,709.91 C230.42,710.58 230.82,710.15 231.00,710.20 L231.00,710.20 L211.40,710.20Z" fill="#636363"/>
<path d="M211.40,709.91 C212.13,709.58 214.52,708.71 215.80,707.90 C217.08,707.09 218.10,705.89 219.10,705.03 C220.10,704.16 221.02,703.59 221.80,702.73 C222.58,701.86 223.23,701.19 223.80,699.85 C224.37,698.51 224.75,697.36 225.20,694.68 C225.65,691.99 226.02,686.43 226.50,683.75 C226.98,681.07 227.68,681.26 228.10,678.58 C228.52,675.89 228.70,670.81 229.00,667.65 C229.30,664.49 229.60,661.42 229.90,659.60 C230.20,657.78 230.52,655.86 230.80,656.73 C231.08,657.59 231.30,665.45 231.60,664.78 C231.90,664.10 232.28,653.75 232.60,652.70 C232.92,651.65 233.22,655.77 233.50,658.45 C233.78,661.13 234.00,666.12 234.30,668.80 C234.60,671.48 234.92,671.87 235.30,674.55 C235.68,677.23 236.15,681.55 236.60,684.90 C237.05,688.25 237.48,691.99 238.00,694.68 C238.52,697.36 239.15,699.27 239.70,701.00 C240.25,702.73 240.68,703.78 241.30,705.03 C241.92,706.27 242.72,707.66 243.40,708.48 C244.08,709.29 241.32,709.67 245.40,709.91 C249.48,710.15 264.15,709.91 267.90,709.91" fill="none" stroke="#1a1a1a" stroke-width="0.95" stroke-linejoin="round"/>
<line x1="211.40" y1="709.80" x2="267.90" y2="709.80" stroke="#444" stroke-width="0.8"/>
<rect x="211.5" y="649.5" width="56.0" height="61.0" fill="none" stroke="#777" stroke-width="1"/>
<line x1="209.90" y1="710.20" x2="211.40" y2="710.20" stroke="#666" stroke-width="0.6"/>
<text x="209.40" y="711.50" font-size="4.2" font-weight="normal" text-anchor="end" fill="#333">0</text>
<line x1="209.90" y1="698.70" x2="211.40" y2="698.70" stroke="#666" stroke-width="0.6"/>
<text x="209.40" y="700.00" font-size="4.2" font-weight="normal" text-anchor="end" fill="#333">20</text>
<line x1="209.90" y1="687.20" x2="211.40" y2="687.20" stroke="#666" stroke-width="0.6"/>
<text x="209.40" y="688.50" font-size="4.2" font-weight="normal" text-anchor="end" fill="#333">40</text>
<line x1="209.90" y1="675.70" x2="211.40" y2="675.70" stroke="#666" stroke-width="0.6"/>
<text x="209.40" y="677.00" font-size="4.2" font-weight="normal" text-anchor="end" fill="#333">60</text>
<line x1="209.90" y1="664.20" x2="211.40" y2="664.20" stroke="#666" stroke-width="0.6"/>
<text x="209.40" y="665.50" font-size="4.2" font-weight="normal" text-anchor="end" fill="#333">80</text>
<line x1="209.90" y1="652.70" x2="211.40" y2="652.70" stroke="#666" stroke-width="0.6"/>
<text x="209.40" y="654.00" font-size="4.2" font-weight="normal" text-anchor="end" fill="#333">100</text>
<line x1="211.40" y1="710.20" x2="211.40" y2="711.70" stroke="#666" stroke-width="0.6"/>
<text x="211.40" y="717.60" font-size="4.4" font-weight="normal" text-anchor="middle" fill="#333"></text>
<line x1="225.53" y1="710.20" x2="225.53" y2="711.70" stroke="#666" stroke-width="0.6"/>
<text x="225.53" y="717.60" font-size="4.4" font-weight="normal" text-anchor="middle" fill="#333">10⁰</text>
<line x1="239.65" y1="710.20" x2="239.65" y2="711.70" stroke="#666" stroke-width="0.6"/>
<text x="239.65" y="717.60" font-size="4.4" font-weight="normal" text-anchor="middle" fill="#333">10¹</text>
<line x1="253.78" y1="710.20" x2="253.78" y2="711.70" stroke="#666" stroke-width="0.6"/>
<text x="253.78" y="717.60" font-size="4.4" font-weight="normal" text-anchor="middle" fill="#333">10²</text>
<line x1="267.90" y1="710.20" x2="267.90" y2="711.70" stroke="#666" stroke-width="0.6"/>
<text x="267.90" y="717.60" font-size="4.4" font-weight="normal" text-anchor="middle" fill="#333">10³</text>
<path d="M278.00,696.98 C278.23,694.10 278.83,685.48 279.40,679.73 C279.97,673.98 280.73,666.79 281.40,662.48 C282.07,658.16 282.83,653.85 283.40,653.85 C283.97,653.85 284.35,657.68 284.80,662.48 C285.25,667.27 285.65,676.37 286.10,682.60 C286.55,688.83 287.05,695.83 287.50,699.85 C287.95,703.88 288.25,705.31 288.80,706.75 C289.35,708.19 290.02,708.09 290.80,708.48 C291.58,708.86 292.72,708.76 293.50,709.05 C294.28,709.34 295.17,710.01 295.50,710.20 L295.50,710.20 L278.00,710.20Z" fill="#636363"/>
<path d="M278.00,709.91 C278.57,709.77 280.38,709.86 281.40,709.05 C282.42,708.24 283.32,706.56 284.10,705.03 C284.88,703.49 285.47,702.05 286.10,699.85 C286.73,697.65 287.45,694.96 287.90,691.80 C288.35,688.64 288.42,684.42 288.80,680.88 C289.18,677.33 289.82,673.88 290.20,670.53 C290.58,667.17 290.77,663.24 291.10,660.75 C291.43,658.26 291.83,656.92 292.20,655.58 C292.57,654.23 292.97,652.22 293.30,652.70 C293.63,653.18 293.90,656.44 294.20,658.45 C294.50,660.46 294.80,664.78 295.10,664.78 C295.40,664.78 295.75,660.46 296.00,658.45 C296.25,656.44 296.33,651.65 296.60,652.70 C296.87,653.75 297.22,662.28 297.60,664.78 C297.98,667.27 298.45,666.69 298.90,667.65 C299.35,668.61 299.85,669.85 300.30,670.53 C300.75,671.20 301.17,671.68 301.60,671.68 C302.03,671.68 302.50,670.05 302.90,670.53 C303.30,671.00 303.55,672.54 304.00,674.55 C304.45,676.56 305.05,680.40 305.60,682.60 C306.15,684.80 306.85,686.72 307.30,687.78 C307.75,688.83 307.90,688.25 308.30,688.93 C308.70,689.60 309.25,691.51 309.70,691.80 C310.15,692.09 310.55,689.79 311.00,690.65 C311.45,691.51 311.90,695.63 312.40,696.98 C312.90,698.32 313.52,698.70 314.00,698.70 C314.48,698.70 314.85,696.59 315.30,696.98 C315.75,697.36 316.18,699.37 316.70,701.00 C317.22,702.63 317.77,705.31 318.40,706.75 C319.03,708.19 319.82,709.10 320.50,709.62 C321.18,710.15 320.17,709.86 322.50,709.91 C324.83,709.96 332.50,709.91 334.50,709.91" fill="none" stroke="#1a1a1a" stroke-width="0.95" stroke-linejoin="round"/>
<line x1="278.00" y1="709.80" x2="334.50" y2="709.80" stroke="#444" stroke-width="0.8"/>
<rect x="278.5" y="649.5" width="56.0" height="61.0" fill="none" stroke="#777" stroke-width="1"/>
<line x1="276.50" y1="710.20" x2="278.00" y2="710.20" stroke="#666" stroke-width="0.6"/>
<text x="276.00" y="711.50" font-size="4.2" font-weight="normal" text-anchor="end" fill="#333">0</text>
<line x1="276.50" y1="698.70" x2="278.00" y2="698.70" stroke="#666" stroke-width="0.6"/>
<text x="276.00" y="700.00" font-size="4.2" font-weight="normal" text-anchor="end" fill="#333">20</text>
<line x1="276.50" y1="687.20" x2="278.00" y2="687.20" stroke="#666" stroke-width="0.6"/>
<text x="276.00" y="688.50" font-size="4.2" font-weight="normal" text-anchor="end" fill="#333">40</text>
<line x1="276.50" y1="675.70" x2="278.00" y2="675.70" stroke="#666" stroke-width="0.6"/>
<text x="276.00" y="677.00" font-size="4.2" font-weight="normal" text-anchor="end" fill="#333">60</text>
<line x1="276.50" y1="664.20" x2="278.00" y2="664.20" stroke="#666" stroke-width="0.6"/>
<text x="276.00" y="665.50" font-size="4.2" font-weight="normal" text-anchor="end" fill="#333">80</text>
<line x1="276.50" y1="652.70" x2="278.00" y2="652.70" stroke="#666" stroke-width="0.6"/>
<text x="276.00" y="654.00" font-size="4.2" font-weight="normal" text-anchor="end" fill="#333">100</text>
<line x1="278.00" y1="710.20" x2="278.00" y2="711.70" stroke="#666" stroke-width="0.6"/>
<text x="278.00" y="717.60" font-size="4.4" font-weight="normal" text-anchor="middle" fill="#333"></text>
<line x1="292.12" y1="710.20" x2="292.12" y2="711.70" stroke="#666" stroke-width="0.6"/>
<text x="292.12" y="717.60" font-size="4.4" font-weight="normal" text-anchor="middle" fill="#333">10⁰</text>
<line x1="306.25" y1="710.20" x2="306.25" y2="711.70" stroke="#666" stroke-width="0.6"/>
<text x="306.25" y="717.60" font-size="4.4" font-weight="normal" text-anchor="middle" fill="#333">10¹</text>
<line x1="320.38" y1="710.20" x2="320.38" y2="711.70" stroke="#666" stroke-width="0.6"/>
<text x="320.38" y="717.60" font-size="4.4" font-weight="normal" text-anchor="middle" fill="#333">10²</text>
<line x1="334.50" y1="710.20" x2="334.50" y2="711.70" stroke="#666" stroke-width="0.6"/>
<text x="334.50" y="717.60" font-size="4.4" font-weight="normal" text-anchor="middle" fill="#333">10³</text>
<path d="M344.50,696.98 C344.82,693.91 345.75,684.61 346.40,678.58 C347.05,672.54 347.80,664.87 348.40,660.75 C349.00,656.63 349.43,652.89 350.00,653.85 C350.57,654.81 351.28,661.04 351.80,666.50 C352.32,671.96 352.65,680.59 353.10,686.62 C353.55,692.66 354.05,699.27 354.50,702.73 C354.95,706.18 355.25,706.37 355.80,707.33 C356.35,708.28 357.18,708.04 357.80,708.48 C358.42,708.91 359.13,709.62 359.50,709.91 C359.87,710.20 359.92,710.15 360.00,710.20 L360.00,710.20 L344.50,710.20Z" fill="#636363"/>
<path d="M344.50,709.91 C346.13,709.91 352.42,710.44 354.30,709.91 C356.18,709.39 355.32,708.43 355.80,706.75 C356.28,705.07 356.75,702.15 357.20,699.85 C357.65,697.55 358.05,695.63 358.50,692.95 C358.95,690.27 359.45,686.82 359.90,683.75 C360.35,680.68 360.75,677.43 361.20,674.55 C361.65,671.68 362.22,669.18 362.60,666.50 C362.98,663.82 363.22,659.12 363.50,658.45 C363.78,657.78 364.02,663.43 364.30,662.48 C364.58,661.52 364.88,653.66 365.20,652.70 C365.52,651.74 365.85,654.23 366.20,656.73 C366.55,659.22 366.90,664.30 367.30,667.65 C367.70,671.00 368.15,674.36 368.60,676.85 C369.05,679.34 369.55,679.63 370.00,682.60 C370.45,685.57 370.87,691.32 371.30,694.68 C371.73,698.03 372.10,700.52 372.60,702.73 C373.10,704.93 373.62,706.70 374.30,707.90 C374.98,709.10 372.25,709.58 376.70,709.91 C381.15,710.25 396.95,709.91 401.00,709.91" fill="none" stroke="#1a1a1a" stroke-width="0.95" stroke-linejoin="round"/>
<line x1="344.50" y1="709.80" x2="401.00" y2="709.80" stroke="#444" stroke-width="0.8"/>
<rect x="344.5" y="649.5" width="57.0" height="61.0" fill="none" stroke="#777" stroke-width="1"/>
<line x1="343.00" y1="710.20" x2="344.50" y2="710.20" stroke="#666" stroke-width="0.6"/>
<text x="342.50" y="711.50" font-size="4.2" font-weight="normal" text-anchor="end" fill="#333">0</text>
<line x1="343.00" y1="698.70" x2="344.50" y2="698.70" stroke="#666" stroke-width="0.6"/>
<text x="342.50" y="700.00" font-size="4.2" font-weight="normal" text-anchor="end" fill="#333">20</text>
<line x1="343.00" y1="687.20" x2="344.50" y2="687.20" stroke="#666" stroke-width="0.6"/>
<text x="342.50" y="688.50" font-size="4.2" font-weight="normal" text-anchor="end" fill="#333">40</text>
<line x1="343.00" y1="675.70" x2="344.50" y2="675.70" stroke="#666" stroke-width="0.6"/>
<text x="342.50" y="677.00" font-size="4.2" font-weight="normal" text-anchor="end" fill="#333">60</text>
<line x1="343.00" y1="664.20" x2="344.50" y2="664.20" stroke="#666" stroke-width="0.6"/>
<text x="342.50" y="665.50" font-size="4.2" font-weight="normal" text-anchor="end" fill="#333">80</text>
<line x1="343.00" y1="652.70" x2="344.50" y2="652.70" stroke="#666" stroke-width="0.6"/>
<text x="342.50" y="654.00" font-size="4.2" font-weight="normal" text-anchor="end" fill="#333">100</text>
<line x1="344.50" y1="710.20" x2="344.50" y2="711.70" stroke="#666" stroke-width="0.6"/>
<text x="344.50" y="717.60" font-size="4.4" font-weight="normal" text-anchor="middle" fill="#333"></text>
<line x1="358.62" y1="710.20" x2="358.62" y2="711.70" stroke="#666" stroke-width="0.6"/>
<text x="358.62" y="717.60" font-size="4.4" font-weight="normal" text-anchor="middle" fill="#333">10⁰</text>
<line x1="372.75" y1="710.20" x2="372.75" y2="711.70" stroke="#666" stroke-width="0.6"/>
<text x="372.75" y="717.60" font-size="4.4" font-weight="normal" text-anchor="middle" fill="#333">10¹</text>
<line x1="386.88" y1="710.20" x2="386.88" y2="711.70" stroke="#666" stroke-width="0.6"/>
<text x="386.88" y="717.60" font-size="4.4" font-weight="normal" text-anchor="middle" fill="#333">10²</text>
<line x1="401.00" y1="710.20" x2="401.00" y2="711.70" stroke="#666" stroke-width="0.6"/>
<text x="401.00" y="717.60" font-size="4.4" font-weight="normal" text-anchor="middle" fill="#333">10³</text>
<path d="M411.50,709.05 C411.65,708.95 411.92,709.53 412.40,708.48 C412.88,707.42 413.73,706.37 414.40,702.73 C415.07,699.08 415.72,692.66 416.40,686.62 C417.08,680.59 417.87,671.87 418.50,666.50 C419.13,661.13 419.75,656.73 420.20,654.43 C420.65,652.13 420.82,651.17 421.20,652.70 C421.58,654.23 422.07,658.64 422.50,663.62 C422.93,668.61 423.35,676.56 423.80,682.60 C424.25,688.64 424.75,695.63 425.20,699.85 C425.65,704.07 426.05,706.22 426.50,707.90 C426.95,709.58 427.57,709.53 427.90,709.91 C428.23,710.30 428.40,710.15 428.50,710.20 L428.50,710.20 L411.50,710.20Z" fill="#636363"/>
<path d="M411.50,706.75 C411.87,706.27 412.98,704.55 413.70,703.88 C414.42,703.20 415.12,703.40 415.80,702.73 C416.48,702.05 417.13,701.00 417.80,699.85 C418.47,698.70 419.13,697.65 419.80,695.83 C420.47,694.00 421.13,690.94 421.80,688.93 C422.47,686.91 423.23,685.28 423.80,683.75 C424.37,682.22 424.85,681.93 425.20,679.73 C425.55,677.52 425.68,673.69 425.90,670.53 C426.12,667.36 426.22,661.71 426.50,660.75 C426.78,659.79 427.25,662.95 427.60,664.78 C427.95,666.60 428.28,671.68 428.60,671.68 C428.92,671.68 429.17,666.98 429.50,664.78 C429.83,662.57 430.25,659.89 430.60,658.45 C430.95,657.01 431.27,657.11 431.60,656.15 C431.93,655.19 432.28,651.93 432.60,652.70 C432.92,653.47 433.17,658.07 433.50,660.75 C433.83,663.43 434.23,667.17 434.60,668.80 C434.97,670.43 435.37,670.05 435.70,670.53 C436.03,671.00 436.22,670.62 436.60,671.68 C436.98,672.73 437.55,675.70 438.00,676.85 C438.45,678.00 438.85,677.43 439.30,678.58 C439.75,679.73 440.25,682.41 440.70,683.75 C441.15,685.09 441.45,685.48 442.00,686.62 C442.55,687.77 443.43,689.31 444.00,690.65 C444.57,691.99 444.95,693.14 445.40,694.68 C445.85,696.21 446.15,698.12 446.70,699.85 C447.25,701.58 448.02,703.59 448.70,705.03 C449.38,706.46 450.12,707.71 450.80,708.48 C451.48,709.24 452.25,709.62 452.80,709.62 C453.35,709.62 453.65,708.43 454.10,708.48 C454.55,708.52 453.18,709.67 455.50,709.91 C457.82,710.15 465.92,709.91 468.00,709.91" fill="none" stroke="#1a1a1a" stroke-width="0.95" stroke-linejoin="round"/>
<line x1="411.50" y1="709.80" x2="468.00" y2="709.80" stroke="#444" stroke-width="0.8"/>
<rect x="411.5" y="649.5" width="57.0" height="61.0" fill="none" stroke="#777" stroke-width="1"/>
<line x1="410.00" y1="710.20" x2="411.50" y2="710.20" stroke="#666" stroke-width="0.6"/>
<text x="409.50" y="711.50" font-size="4.2" font-weight="normal" text-anchor="end" fill="#333">0</text>
<line x1="410.00" y1="698.70" x2="411.50" y2="698.70" stroke="#666" stroke-width="0.6"/>
<text x="409.50" y="700.00" font-size="4.2" font-weight="normal" text-anchor="end" fill="#333">20</text>
<line x1="410.00" y1="687.20" x2="411.50" y2="687.20" stroke="#666" stroke-width="0.6"/>
<text x="409.50" y="688.50" font-size="4.2" font-weight="normal" text-anchor="end" fill="#333">40</text>
<line x1="410.00" y1="675.70" x2="411.50" y2="675.70" stroke="#666" stroke-width="0.6"/>
<text x="409.50" y="677.00" font-size="4.2" font-weight="normal" text-anchor="end" fill="#333">60</text>
<line x1="410.00" y1="664.20" x2="411.50" y2="664.20" stroke="#666" stroke-width="0.6"/>
<text x="409.50" y="665.50" font-size="4.2" font-weight="normal" text-anchor="end" fill="#333">80</text>
<line x1="410.00" y1="652.70" x2="411.50" y2="652.70" stroke="#666" stroke-width="0.6"/>
<text x="409.50" y="654.00" font-size="4.2" font-weight="normal" text-anchor="end" fill="#333">100</text>
<line x1="411.50" y1="710.20" x2="411.50" y2="711.70" stroke="#666" stroke-width="0.6"/>
<text x="411.50" y="717.60" font-size="4.4" font-weight="normal" text-anchor="middle" fill="#333"></text>
<line x1="425.62" y1="710.20" x2="425.62" y2="711.70" stroke="#666" stroke-width="0.6"/>
<text x="425.62" y="717.60" font-size="4.4" font-weight="normal" text-anchor="middle" fill="#333">10⁰</text>
<line x1="439.75" y1="710.20" x2="439.75" y2="711.70" stroke="#666" stroke-width="0.6"/>
<text x="439.75" y="717.60" font-size="4.4" font-weight="normal" text-anchor="middle" fill="#333">10¹</text>
<line x1="453.88" y1="710.20" x2="453.88" y2="711.70" stroke="#666" stroke-width="0.6"/>
<text x="453.88" y="717.60" font-size="4.4" font-weight="normal" text-anchor="middle" fill="#333">10²</text>
<line x1="468.00" y1="710.20" x2="468.00" y2="711.70" stroke="#666" stroke-width="0.6"/>
<text x="468.00" y="717.60" font-size="4.4" font-weight="normal" text-anchor="middle" fill="#333">10³</text>
<text x="45.00" y="539.70" font-size="13.5" font-weight="bold" text-anchor="start" fill="#000">R1</text>
<text x="45.00" y="614.90" font-size="13.5" font-weight="bold" text-anchor="start" fill="#000">R2</text>
<text x="45.00" y="684.70" font-size="13.5" font-weight="bold" text-anchor="start" fill="#000">R3</text>
<line x1="77.50" y1="723.30" x2="119.50" y2="723.30" stroke="#000" stroke-width="2.2"/>
<path d="M125.00,723.30 L118.50,720.10 L118.50,726.50Z" fill="#000"/>
<text x="77.40" y="738.90" font-size="13.2" font-weight="bold" text-anchor="start" fill="#000">BST2</text>
<line x1="144.20" y1="723.30" x2="186.20" y2="723.30" stroke="#000" stroke-width="2.2"/>
<path d="M191.70,723.30 L185.20,720.10 L185.20,726.50Z" fill="#000"/>
<text x="144.10" y="738.90" font-size="13.2" font-weight="bold" text-anchor="start" fill="#000">SiglecH</text>
<line x1="210.90" y1="723.30" x2="252.90" y2="723.30" stroke="#000" stroke-width="2.2"/>
<path d="M258.40,723.30 L251.90,720.10 L251.90,726.50Z" fill="#000"/>
<text x="210.80" y="738.90" font-size="13.2" font-weight="bold" text-anchor="start" fill="#000">CCR9</text>
<line x1="277.50" y1="723.30" x2="319.50" y2="723.30" stroke="#000" stroke-width="2.2"/>
<path d="M325.00,723.30 L318.50,720.10 L318.50,726.50Z" fill="#000"/>
<text x="277.40" y="738.90" font-size="13.2" font-weight="bold" text-anchor="start" fill="#000">CD11b</text>
<line x1="344.00" y1="723.30" x2="386.00" y2="723.30" stroke="#000" stroke-width="2.2"/>
<path d="M391.50,723.30 L385.00,720.10 L385.00,726.50Z" fill="#000"/>
<text x="343.90" y="738.90" font-size="13.2" font-weight="bold" text-anchor="start" fill="#000">MHCII</text>
<line x1="411.00" y1="723.30" x2="453.00" y2="723.30" stroke="#000" stroke-width="2.2"/>
<path d="M458.50,723.30 L452.00,720.10 L452.00,726.50Z" fill="#000"/>
<text x="410.90" y="738.90" font-size="13.2" font-weight="bold" text-anchor="start" fill="#000">Sca1</text></svg>
</body></html>
